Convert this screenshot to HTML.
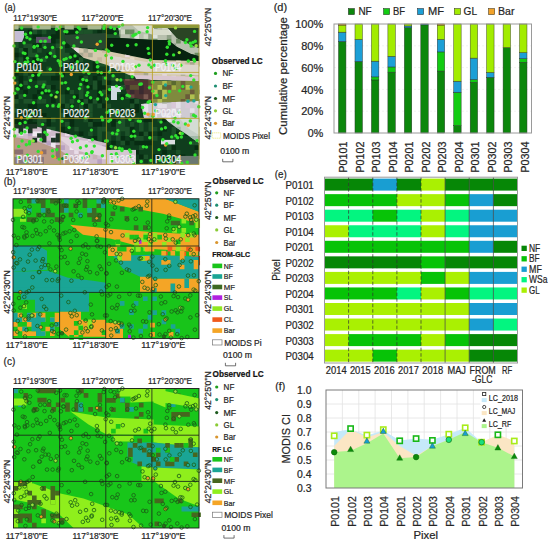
<!DOCTYPE html>
<html><head><meta charset="utf-8"><style>
html,body{margin:0;padding:0;background:#fff;}
svg{display:block;font-family:"Liberation Sans", sans-serif;}
</style></head><body>
<svg width="550" height="545" viewBox="0 0 550 545">
<rect x="14.00" y="24.90" width="185.00" height="139.40" fill="#0f3d1d"/>
<path d="M14.0 52.7h4.63v4.63h-4.63zM14.0 71.2h4.63v4.63h-4.63zM14.0 80.5h4.63v4.63h-4.63zM14.0 94.3h4.63v4.63h-4.63zM14.0 117.5h4.63v4.63h-4.63zM14.0 122.1h4.63v4.63h-4.63zM14.0 131.4h4.63v4.63h-4.63zM14.0 136.0h4.63v4.63h-4.63zM14.0 140.7h4.63v4.63h-4.63zM14.0 145.3h4.63v4.63h-4.63zM18.6 48.0h4.63v4.63h-4.63zM18.6 75.8h4.63v4.63h-4.63zM18.6 80.5h4.63v4.63h-4.63zM18.6 85.1h4.63v4.63h-4.63zM18.6 117.5h4.63v4.63h-4.63zM18.6 122.1h4.63v4.63h-4.63zM18.6 145.3h4.63v4.63h-4.63zM18.6 159.2h4.63v4.63h-4.63zM23.3 24.9h4.63v4.63h-4.63zM23.3 43.4h4.63v4.63h-4.63zM23.3 48.0h4.63v4.63h-4.63zM23.3 52.7h4.63v4.63h-4.63zM23.3 57.3h4.63v4.63h-4.63zM23.3 66.6h4.63v4.63h-4.63zM23.3 80.5h4.63v4.63h-4.63zM23.3 89.7h4.63v4.63h-4.63zM23.3 99.0h4.63v4.63h-4.63zM23.3 108.2h4.63v4.63h-4.63zM23.3 112.9h4.63v4.63h-4.63zM23.3 136.0h4.63v4.63h-4.63zM23.3 154.5h4.63v4.63h-4.63zM27.9 24.9h4.63v4.63h-4.63zM27.9 29.5h4.63v4.63h-4.63zM27.9 43.4h4.63v4.63h-4.63zM27.9 48.0h4.63v4.63h-4.63zM27.9 52.7h4.63v4.63h-4.63zM27.9 61.9h4.63v4.63h-4.63zM27.9 99.0h4.63v4.63h-4.63zM27.9 103.6h4.63v4.63h-4.63zM27.9 117.5h4.63v4.63h-4.63zM27.9 122.1h4.63v4.63h-4.63zM27.9 136.0h4.63v4.63h-4.63zM27.9 159.2h4.63v4.63h-4.63zM32.5 24.9h4.63v4.63h-4.63zM32.5 34.2h4.63v4.63h-4.63zM32.5 43.4h4.63v4.63h-4.63zM32.5 57.3h4.63v4.63h-4.63zM32.5 61.9h4.63v4.63h-4.63zM32.5 71.2h4.63v4.63h-4.63zM32.5 75.8h4.63v4.63h-4.63zM32.5 94.3h4.63v4.63h-4.63zM32.5 103.6h4.63v4.63h-4.63zM32.5 108.2h4.63v4.63h-4.63zM32.5 112.9h4.63v4.63h-4.63zM32.5 122.1h4.63v4.63h-4.63zM32.5 126.8h4.63v4.63h-4.63zM32.5 140.7h4.63v4.63h-4.63zM37.1 34.2h4.63v4.63h-4.63zM37.1 38.8h4.63v4.63h-4.63zM37.1 43.4h4.63v4.63h-4.63zM37.1 61.9h4.63v4.63h-4.63zM37.1 89.7h4.63v4.63h-4.63zM41.8 43.4h4.63v4.63h-4.63zM41.8 89.7h4.63v4.63h-4.63zM41.8 99.0h4.63v4.63h-4.63zM41.8 112.9h4.63v4.63h-4.63zM41.8 136.0h4.63v4.63h-4.63zM41.8 140.7h4.63v4.63h-4.63zM41.8 154.5h4.63v4.63h-4.63zM41.8 159.2h4.63v4.63h-4.63zM46.4 52.7h4.63v4.63h-4.63zM46.4 89.7h4.63v4.63h-4.63zM46.4 117.5h4.63v4.63h-4.63zM46.4 122.1h4.63v4.63h-4.63zM46.4 131.4h4.63v4.63h-4.63zM46.4 136.0h4.63v4.63h-4.63zM51.0 34.2h4.63v4.63h-4.63zM51.0 38.8h4.63v4.63h-4.63zM51.0 48.0h4.63v4.63h-4.63zM51.0 71.2h4.63v4.63h-4.63zM51.0 75.8h4.63v4.63h-4.63zM51.0 85.1h4.63v4.63h-4.63zM51.0 94.3h4.63v4.63h-4.63zM51.0 99.0h4.63v4.63h-4.63zM51.0 103.6h4.63v4.63h-4.63zM51.0 140.7h4.63v4.63h-4.63zM51.0 149.9h4.63v4.63h-4.63zM51.0 154.5h4.63v4.63h-4.63zM55.7 29.5h4.63v4.63h-4.63zM55.7 34.2h4.63v4.63h-4.63zM55.7 75.8h4.63v4.63h-4.63zM55.7 89.7h4.63v4.63h-4.63zM55.7 140.7h4.63v4.63h-4.63zM60.3 24.9h4.63v4.63h-4.63zM60.3 71.2h4.63v4.63h-4.63zM60.3 94.3h4.63v4.63h-4.63zM60.3 103.6h4.63v4.63h-4.63zM60.3 112.9h4.63v4.63h-4.63zM60.3 126.8h4.63v4.63h-4.63zM60.3 131.4h4.63v4.63h-4.63zM64.9 29.5h4.63v4.63h-4.63zM64.9 34.2h4.63v4.63h-4.63zM64.9 43.4h4.63v4.63h-4.63zM64.9 89.7h4.63v4.63h-4.63zM64.9 112.9h4.63v4.63h-4.63zM64.9 131.4h4.63v4.63h-4.63zM69.6 29.5h4.63v4.63h-4.63zM69.6 52.7h4.63v4.63h-4.63zM69.6 61.9h4.63v4.63h-4.63zM69.6 89.7h4.63v4.63h-4.63zM69.6 103.6h4.63v4.63h-4.63zM69.6 112.9h4.63v4.63h-4.63zM69.6 117.5h4.63v4.63h-4.63zM69.6 122.1h4.63v4.63h-4.63zM69.6 145.3h4.63v4.63h-4.63zM69.6 154.5h4.63v4.63h-4.63zM74.2 24.9h4.63v4.63h-4.63zM74.2 29.5h4.63v4.63h-4.63zM74.2 57.3h4.63v4.63h-4.63zM74.2 61.9h4.63v4.63h-4.63zM74.2 94.3h4.63v4.63h-4.63zM74.2 126.8h4.63v4.63h-4.63zM74.2 140.7h4.63v4.63h-4.63zM74.2 145.3h4.63v4.63h-4.63zM74.2 154.5h4.63v4.63h-4.63zM74.2 159.2h4.63v4.63h-4.63zM78.8 38.8h4.63v4.63h-4.63zM78.8 52.7h4.63v4.63h-4.63zM78.8 57.3h4.63v4.63h-4.63zM78.8 75.8h4.63v4.63h-4.63zM78.8 99.0h4.63v4.63h-4.63zM78.8 103.6h4.63v4.63h-4.63zM78.8 108.2h4.63v4.63h-4.63zM78.8 112.9h4.63v4.63h-4.63zM78.8 131.4h4.63v4.63h-4.63zM78.8 136.0h4.63v4.63h-4.63zM78.8 140.7h4.63v4.63h-4.63zM78.8 159.2h4.63v4.63h-4.63zM83.5 24.9h4.63v4.63h-4.63zM83.5 66.6h4.63v4.63h-4.63zM83.5 80.5h4.63v4.63h-4.63zM83.5 99.0h4.63v4.63h-4.63zM83.5 103.6h4.63v4.63h-4.63zM83.5 112.9h4.63v4.63h-4.63zM88.1 24.9h4.63v4.63h-4.63zM88.1 85.1h4.63v4.63h-4.63zM88.1 99.0h4.63v4.63h-4.63zM88.1 117.5h4.63v4.63h-4.63zM92.7 38.8h4.63v4.63h-4.63zM92.7 52.7h4.63v4.63h-4.63zM92.7 61.9h4.63v4.63h-4.63zM92.7 66.6h4.63v4.63h-4.63zM92.7 75.8h4.63v4.63h-4.63zM92.7 80.5h4.63v4.63h-4.63zM92.7 122.1h4.63v4.63h-4.63zM92.7 136.0h4.63v4.63h-4.63zM92.7 145.3h4.63v4.63h-4.63zM92.7 154.5h4.63v4.63h-4.63zM97.3 29.5h4.63v4.63h-4.63zM97.3 57.3h4.63v4.63h-4.63zM97.3 71.2h4.63v4.63h-4.63zM97.3 80.5h4.63v4.63h-4.63zM97.3 85.1h4.63v4.63h-4.63zM97.3 89.7h4.63v4.63h-4.63zM97.3 94.3h4.63v4.63h-4.63zM97.3 99.0h4.63v4.63h-4.63zM97.3 122.1h4.63v4.63h-4.63zM97.3 136.0h4.63v4.63h-4.63zM97.3 159.2h4.63v4.63h-4.63zM102.0 57.3h4.63v4.63h-4.63zM102.0 71.2h4.63v4.63h-4.63zM102.0 75.8h4.63v4.63h-4.63zM102.0 85.1h4.63v4.63h-4.63zM102.0 103.6h4.63v4.63h-4.63zM102.0 140.7h4.63v4.63h-4.63zM102.0 145.3h4.63v4.63h-4.63zM106.6 29.5h4.63v4.63h-4.63zM106.6 57.3h4.63v4.63h-4.63zM106.6 61.9h4.63v4.63h-4.63zM106.6 80.5h4.63v4.63h-4.63zM106.6 85.1h4.63v4.63h-4.63zM106.6 89.7h4.63v4.63h-4.63zM106.6 103.6h4.63v4.63h-4.63zM106.6 112.9h4.63v4.63h-4.63zM106.6 117.5h4.63v4.63h-4.63zM106.6 145.3h4.63v4.63h-4.63zM111.2 24.9h4.63v4.63h-4.63zM111.2 29.5h4.63v4.63h-4.63zM111.2 48.0h4.63v4.63h-4.63zM111.2 57.3h4.63v4.63h-4.63zM111.2 108.2h4.63v4.63h-4.63zM111.2 117.5h4.63v4.63h-4.63zM111.2 122.1h4.63v4.63h-4.63zM111.2 140.7h4.63v4.63h-4.63zM111.2 149.9h4.63v4.63h-4.63zM111.2 154.5h4.63v4.63h-4.63zM115.9 24.9h4.63v4.63h-4.63zM115.9 43.4h4.63v4.63h-4.63zM115.9 48.0h4.63v4.63h-4.63zM115.9 66.6h4.63v4.63h-4.63zM115.9 126.8h4.63v4.63h-4.63zM115.9 154.5h4.63v4.63h-4.63zM120.5 43.4h4.63v4.63h-4.63zM120.5 57.3h4.63v4.63h-4.63zM120.5 61.9h4.63v4.63h-4.63zM120.5 94.3h4.63v4.63h-4.63zM120.5 108.2h4.63v4.63h-4.63zM120.5 112.9h4.63v4.63h-4.63zM120.5 126.8h4.63v4.63h-4.63zM120.5 136.0h4.63v4.63h-4.63zM120.5 149.9h4.63v4.63h-4.63zM120.5 154.5h4.63v4.63h-4.63zM125.1 140.7h4.63v4.63h-4.63zM125.1 159.2h4.63v4.63h-4.63zM129.8 24.9h4.63v4.63h-4.63zM129.8 34.2h4.63v4.63h-4.63zM129.8 43.4h4.63v4.63h-4.63zM129.8 52.7h4.63v4.63h-4.63zM129.8 66.6h4.63v4.63h-4.63zM129.8 71.2h4.63v4.63h-4.63zM129.8 89.7h4.63v4.63h-4.63zM129.8 94.3h4.63v4.63h-4.63zM129.8 99.0h4.63v4.63h-4.63zM129.8 103.6h4.63v4.63h-4.63zM129.8 108.2h4.63v4.63h-4.63zM129.8 122.1h4.63v4.63h-4.63zM129.8 126.8h4.63v4.63h-4.63zM129.8 131.4h4.63v4.63h-4.63zM129.8 136.0h4.63v4.63h-4.63zM134.4 24.9h4.63v4.63h-4.63zM134.4 57.3h4.63v4.63h-4.63zM134.4 61.9h4.63v4.63h-4.63zM134.4 89.7h4.63v4.63h-4.63zM134.4 103.6h4.63v4.63h-4.63zM134.4 108.2h4.63v4.63h-4.63zM134.4 136.0h4.63v4.63h-4.63zM134.4 140.7h4.63v4.63h-4.63zM134.4 149.9h4.63v4.63h-4.63zM139.0 34.2h4.63v4.63h-4.63zM139.0 43.4h4.63v4.63h-4.63zM139.0 52.7h4.63v4.63h-4.63zM139.0 71.2h4.63v4.63h-4.63zM139.0 75.8h4.63v4.63h-4.63zM139.0 85.1h4.63v4.63h-4.63zM139.0 131.4h4.63v4.63h-4.63zM139.0 140.7h4.63v4.63h-4.63zM139.0 154.5h4.63v4.63h-4.63zM143.6 34.2h4.63v4.63h-4.63zM143.6 61.9h4.63v4.63h-4.63zM143.6 89.7h4.63v4.63h-4.63zM143.6 103.6h4.63v4.63h-4.63zM143.6 117.5h4.63v4.63h-4.63zM143.6 131.4h4.63v4.63h-4.63zM143.6 140.7h4.63v4.63h-4.63zM143.6 154.5h4.63v4.63h-4.63zM148.3 34.2h4.63v4.63h-4.63zM148.3 38.8h4.63v4.63h-4.63zM148.3 75.8h4.63v4.63h-4.63zM148.3 80.5h4.63v4.63h-4.63zM148.3 85.1h4.63v4.63h-4.63zM148.3 99.0h4.63v4.63h-4.63zM148.3 117.5h4.63v4.63h-4.63zM148.3 122.1h4.63v4.63h-4.63zM148.3 126.8h4.63v4.63h-4.63zM148.3 131.4h4.63v4.63h-4.63zM148.3 140.7h4.63v4.63h-4.63zM152.9 48.0h4.63v4.63h-4.63zM152.9 80.5h4.63v4.63h-4.63zM152.9 99.0h4.63v4.63h-4.63zM152.9 126.8h4.63v4.63h-4.63zM152.9 154.5h4.63v4.63h-4.63zM157.5 43.4h4.63v4.63h-4.63zM157.5 57.3h4.63v4.63h-4.63zM157.5 61.9h4.63v4.63h-4.63zM157.5 66.6h4.63v4.63h-4.63zM157.5 99.0h4.63v4.63h-4.63zM157.5 108.2h4.63v4.63h-4.63zM157.5 131.4h4.63v4.63h-4.63zM157.5 154.5h4.63v4.63h-4.63zM162.2 24.9h4.63v4.63h-4.63zM162.2 34.2h4.63v4.63h-4.63zM162.2 48.0h4.63v4.63h-4.63zM162.2 57.3h4.63v4.63h-4.63zM162.2 61.9h4.63v4.63h-4.63zM162.2 66.6h4.63v4.63h-4.63zM162.2 112.9h4.63v4.63h-4.63zM162.2 117.5h4.63v4.63h-4.63zM162.2 126.8h4.63v4.63h-4.63zM162.2 140.7h4.63v4.63h-4.63zM162.2 149.9h4.63v4.63h-4.63zM166.8 29.5h4.63v4.63h-4.63zM166.8 38.8h4.63v4.63h-4.63zM166.8 140.7h4.63v4.63h-4.63zM171.4 38.8h4.63v4.63h-4.63zM171.4 43.4h4.63v4.63h-4.63zM171.4 61.9h4.63v4.63h-4.63zM171.4 75.8h4.63v4.63h-4.63zM171.4 89.7h4.63v4.63h-4.63zM171.4 94.3h4.63v4.63h-4.63zM171.4 126.8h4.63v4.63h-4.63zM171.4 145.3h4.63v4.63h-4.63zM171.4 154.5h4.63v4.63h-4.63zM176.0 29.5h4.63v4.63h-4.63zM176.0 34.2h4.63v4.63h-4.63zM176.0 38.8h4.63v4.63h-4.63zM176.0 48.0h4.63v4.63h-4.63zM176.0 75.8h4.63v4.63h-4.63zM176.0 80.5h4.63v4.63h-4.63zM176.0 112.9h4.63v4.63h-4.63zM176.0 117.5h4.63v4.63h-4.63zM176.0 131.4h4.63v4.63h-4.63zM176.0 149.9h4.63v4.63h-4.63zM180.7 24.9h4.63v4.63h-4.63zM180.7 34.2h4.63v4.63h-4.63zM180.7 43.4h4.63v4.63h-4.63zM180.7 48.0h4.63v4.63h-4.63zM180.7 75.8h4.63v4.63h-4.63zM180.7 94.3h4.63v4.63h-4.63zM180.7 99.0h4.63v4.63h-4.63zM180.7 112.9h4.63v4.63h-4.63zM180.7 117.5h4.63v4.63h-4.63zM180.7 122.1h4.63v4.63h-4.63zM180.7 154.5h4.63v4.63h-4.63zM185.3 34.2h4.63v4.63h-4.63zM185.3 43.4h4.63v4.63h-4.63zM185.3 66.6h4.63v4.63h-4.63zM185.3 75.8h4.63v4.63h-4.63zM185.3 80.5h4.63v4.63h-4.63zM185.3 89.7h4.63v4.63h-4.63zM185.3 94.3h4.63v4.63h-4.63zM185.3 103.6h4.63v4.63h-4.63zM185.3 108.2h4.63v4.63h-4.63zM185.3 117.5h4.63v4.63h-4.63zM185.3 131.4h4.63v4.63h-4.63zM185.3 159.2h4.63v4.63h-4.63zM189.9 75.8h4.63v4.63h-4.63zM189.9 85.1h4.63v4.63h-4.63zM189.9 94.3h4.63v4.63h-4.63zM189.9 117.5h4.63v4.63h-4.63zM189.9 126.8h4.63v4.63h-4.63zM189.9 140.7h4.63v4.63h-4.63zM194.6 24.9h4.63v4.63h-4.63zM194.6 29.5h4.63v4.63h-4.63zM194.6 34.2h4.63v4.63h-4.63zM194.6 52.7h4.63v4.63h-4.63zM194.6 61.9h4.63v4.63h-4.63zM194.6 85.1h4.63v4.63h-4.63zM194.6 89.7h4.63v4.63h-4.63zM194.6 99.0h4.63v4.63h-4.63zM194.6 117.5h4.63v4.63h-4.63zM194.6 126.8h4.63v4.63h-4.63zM194.6 136.0h4.63v4.63h-4.63zM194.6 140.7h4.63v4.63h-4.63zM194.6 145.3h4.63v4.63h-4.63z" fill="#072c12"/>
<path d="M14.0 38.8h4.63v4.63h-4.63zM14.0 43.4h4.63v4.63h-4.63zM14.0 80.5h4.63v4.63h-4.63zM14.0 89.7h4.63v4.63h-4.63zM14.0 99.0h4.63v4.63h-4.63zM14.0 108.2h4.63v4.63h-4.63zM14.0 131.4h4.63v4.63h-4.63zM14.0 136.0h4.63v4.63h-4.63zM14.0 149.9h4.63v4.63h-4.63zM18.6 24.9h4.63v4.63h-4.63zM18.6 34.2h4.63v4.63h-4.63zM18.6 48.0h4.63v4.63h-4.63zM18.6 57.3h4.63v4.63h-4.63zM18.6 61.9h4.63v4.63h-4.63zM18.6 94.3h4.63v4.63h-4.63zM18.6 136.0h4.63v4.63h-4.63zM18.6 140.7h4.63v4.63h-4.63zM23.3 24.9h4.63v4.63h-4.63zM23.3 43.4h4.63v4.63h-4.63zM23.3 61.9h4.63v4.63h-4.63zM23.3 71.2h4.63v4.63h-4.63zM23.3 80.5h4.63v4.63h-4.63zM23.3 99.0h4.63v4.63h-4.63zM23.3 108.2h4.63v4.63h-4.63zM23.3 136.0h4.63v4.63h-4.63zM23.3 149.9h4.63v4.63h-4.63zM27.9 24.9h4.63v4.63h-4.63zM27.9 43.4h4.63v4.63h-4.63zM27.9 48.0h4.63v4.63h-4.63zM27.9 52.7h4.63v4.63h-4.63zM27.9 75.8h4.63v4.63h-4.63zM27.9 99.0h4.63v4.63h-4.63zM27.9 131.4h4.63v4.63h-4.63zM32.5 29.5h4.63v4.63h-4.63zM32.5 52.7h4.63v4.63h-4.63zM32.5 66.6h4.63v4.63h-4.63zM32.5 145.3h4.63v4.63h-4.63zM37.1 48.0h4.63v4.63h-4.63zM37.1 80.5h4.63v4.63h-4.63zM37.1 99.0h4.63v4.63h-4.63zM37.1 117.5h4.63v4.63h-4.63zM37.1 122.1h4.63v4.63h-4.63zM37.1 154.5h4.63v4.63h-4.63zM41.8 29.5h4.63v4.63h-4.63zM41.8 43.4h4.63v4.63h-4.63zM41.8 57.3h4.63v4.63h-4.63zM41.8 71.2h4.63v4.63h-4.63zM41.8 80.5h4.63v4.63h-4.63zM41.8 99.0h4.63v4.63h-4.63zM41.8 117.5h4.63v4.63h-4.63zM41.8 136.0h4.63v4.63h-4.63zM46.4 66.6h4.63v4.63h-4.63zM46.4 71.2h4.63v4.63h-4.63zM46.4 85.1h4.63v4.63h-4.63zM46.4 126.8h4.63v4.63h-4.63zM51.0 48.0h4.63v4.63h-4.63zM51.0 52.7h4.63v4.63h-4.63zM51.0 71.2h4.63v4.63h-4.63zM51.0 103.6h4.63v4.63h-4.63zM51.0 117.5h4.63v4.63h-4.63zM51.0 126.8h4.63v4.63h-4.63zM51.0 136.0h4.63v4.63h-4.63zM51.0 140.7h4.63v4.63h-4.63zM51.0 145.3h4.63v4.63h-4.63zM51.0 159.2h4.63v4.63h-4.63zM55.7 24.9h4.63v4.63h-4.63zM55.7 43.4h4.63v4.63h-4.63zM60.3 29.5h4.63v4.63h-4.63zM60.3 34.2h4.63v4.63h-4.63zM60.3 38.8h4.63v4.63h-4.63zM60.3 43.4h4.63v4.63h-4.63zM60.3 48.0h4.63v4.63h-4.63zM60.3 52.7h4.63v4.63h-4.63zM60.3 57.3h4.63v4.63h-4.63zM60.3 61.9h4.63v4.63h-4.63zM60.3 94.3h4.63v4.63h-4.63zM60.3 99.0h4.63v4.63h-4.63zM60.3 112.9h4.63v4.63h-4.63zM60.3 136.0h4.63v4.63h-4.63zM60.3 140.7h4.63v4.63h-4.63zM64.9 52.7h4.63v4.63h-4.63zM64.9 57.3h4.63v4.63h-4.63zM64.9 103.6h4.63v4.63h-4.63zM64.9 122.1h4.63v4.63h-4.63zM64.9 136.0h4.63v4.63h-4.63zM69.6 24.9h4.63v4.63h-4.63zM69.6 38.8h4.63v4.63h-4.63zM69.6 89.7h4.63v4.63h-4.63zM69.6 99.0h4.63v4.63h-4.63zM69.6 149.9h4.63v4.63h-4.63zM69.6 159.2h4.63v4.63h-4.63zM74.2 43.4h4.63v4.63h-4.63zM74.2 61.9h4.63v4.63h-4.63zM74.2 66.6h4.63v4.63h-4.63zM74.2 126.8h4.63v4.63h-4.63zM78.8 29.5h4.63v4.63h-4.63zM78.8 57.3h4.63v4.63h-4.63zM78.8 85.1h4.63v4.63h-4.63zM78.8 89.7h4.63v4.63h-4.63zM78.8 94.3h4.63v4.63h-4.63zM78.8 103.6h4.63v4.63h-4.63zM78.8 108.2h4.63v4.63h-4.63zM78.8 136.0h4.63v4.63h-4.63zM78.8 140.7h4.63v4.63h-4.63zM83.5 29.5h4.63v4.63h-4.63zM83.5 66.6h4.63v4.63h-4.63zM83.5 75.8h4.63v4.63h-4.63zM83.5 99.0h4.63v4.63h-4.63zM83.5 117.5h4.63v4.63h-4.63zM88.1 29.5h4.63v4.63h-4.63zM88.1 52.7h4.63v4.63h-4.63zM88.1 103.6h4.63v4.63h-4.63zM88.1 108.2h4.63v4.63h-4.63zM88.1 112.9h4.63v4.63h-4.63zM88.1 122.1h4.63v4.63h-4.63zM88.1 131.4h4.63v4.63h-4.63zM88.1 145.3h4.63v4.63h-4.63zM92.7 24.9h4.63v4.63h-4.63zM92.7 80.5h4.63v4.63h-4.63zM92.7 85.1h4.63v4.63h-4.63zM92.7 99.0h4.63v4.63h-4.63zM92.7 159.2h4.63v4.63h-4.63zM97.3 43.4h4.63v4.63h-4.63zM97.3 48.0h4.63v4.63h-4.63zM97.3 57.3h4.63v4.63h-4.63zM97.3 61.9h4.63v4.63h-4.63zM97.3 103.6h4.63v4.63h-4.63zM97.3 126.8h4.63v4.63h-4.63zM97.3 131.4h4.63v4.63h-4.63zM97.3 136.0h4.63v4.63h-4.63zM97.3 140.7h4.63v4.63h-4.63zM102.0 61.9h4.63v4.63h-4.63zM102.0 75.8h4.63v4.63h-4.63zM102.0 80.5h4.63v4.63h-4.63zM102.0 89.7h4.63v4.63h-4.63zM102.0 126.8h4.63v4.63h-4.63zM102.0 149.9h4.63v4.63h-4.63zM102.0 159.2h4.63v4.63h-4.63zM106.6 34.2h4.63v4.63h-4.63zM106.6 38.8h4.63v4.63h-4.63zM106.6 57.3h4.63v4.63h-4.63zM106.6 61.9h4.63v4.63h-4.63zM106.6 85.1h4.63v4.63h-4.63zM106.6 103.6h4.63v4.63h-4.63zM106.6 117.5h4.63v4.63h-4.63zM106.6 131.4h4.63v4.63h-4.63zM106.6 136.0h4.63v4.63h-4.63zM111.2 24.9h4.63v4.63h-4.63zM111.2 34.2h4.63v4.63h-4.63zM111.2 38.8h4.63v4.63h-4.63zM111.2 52.7h4.63v4.63h-4.63zM111.2 57.3h4.63v4.63h-4.63zM111.2 66.6h4.63v4.63h-4.63zM111.2 75.8h4.63v4.63h-4.63zM111.2 85.1h4.63v4.63h-4.63zM111.2 108.2h4.63v4.63h-4.63zM111.2 112.9h4.63v4.63h-4.63zM111.2 131.4h4.63v4.63h-4.63zM111.2 145.3h4.63v4.63h-4.63zM111.2 149.9h4.63v4.63h-4.63zM115.9 34.2h4.63v4.63h-4.63zM115.9 43.4h4.63v4.63h-4.63zM115.9 89.7h4.63v4.63h-4.63zM115.9 122.1h4.63v4.63h-4.63zM115.9 126.8h4.63v4.63h-4.63zM115.9 131.4h4.63v4.63h-4.63zM115.9 136.0h4.63v4.63h-4.63zM120.5 38.8h4.63v4.63h-4.63zM120.5 48.0h4.63v4.63h-4.63zM120.5 85.1h4.63v4.63h-4.63zM120.5 112.9h4.63v4.63h-4.63zM120.5 117.5h4.63v4.63h-4.63zM120.5 122.1h4.63v4.63h-4.63zM120.5 126.8h4.63v4.63h-4.63zM120.5 140.7h4.63v4.63h-4.63zM125.1 24.9h4.63v4.63h-4.63zM125.1 38.8h4.63v4.63h-4.63zM125.1 43.4h4.63v4.63h-4.63zM125.1 71.2h4.63v4.63h-4.63zM125.1 75.8h4.63v4.63h-4.63zM125.1 94.3h4.63v4.63h-4.63zM125.1 108.2h4.63v4.63h-4.63zM125.1 112.9h4.63v4.63h-4.63zM125.1 126.8h4.63v4.63h-4.63zM125.1 131.4h4.63v4.63h-4.63zM125.1 149.9h4.63v4.63h-4.63zM125.1 154.5h4.63v4.63h-4.63zM129.8 29.5h4.63v4.63h-4.63zM129.8 34.2h4.63v4.63h-4.63zM129.8 43.4h4.63v4.63h-4.63zM129.8 48.0h4.63v4.63h-4.63zM129.8 57.3h4.63v4.63h-4.63zM129.8 80.5h4.63v4.63h-4.63zM129.8 94.3h4.63v4.63h-4.63zM129.8 103.6h4.63v4.63h-4.63zM129.8 122.1h4.63v4.63h-4.63zM134.4 61.9h4.63v4.63h-4.63zM134.4 80.5h4.63v4.63h-4.63zM134.4 85.1h4.63v4.63h-4.63zM134.4 89.7h4.63v4.63h-4.63zM134.4 99.0h4.63v4.63h-4.63zM134.4 117.5h4.63v4.63h-4.63zM134.4 136.0h4.63v4.63h-4.63zM139.0 34.2h4.63v4.63h-4.63zM139.0 43.4h4.63v4.63h-4.63zM139.0 94.3h4.63v4.63h-4.63zM139.0 122.1h4.63v4.63h-4.63zM139.0 126.8h4.63v4.63h-4.63zM139.0 136.0h4.63v4.63h-4.63zM139.0 145.3h4.63v4.63h-4.63zM139.0 159.2h4.63v4.63h-4.63zM143.6 38.8h4.63v4.63h-4.63zM143.6 43.4h4.63v4.63h-4.63zM143.6 52.7h4.63v4.63h-4.63zM143.6 80.5h4.63v4.63h-4.63zM143.6 85.1h4.63v4.63h-4.63zM143.6 94.3h4.63v4.63h-4.63zM143.6 131.4h4.63v4.63h-4.63zM143.6 154.5h4.63v4.63h-4.63zM148.3 38.8h4.63v4.63h-4.63zM148.3 43.4h4.63v4.63h-4.63zM148.3 57.3h4.63v4.63h-4.63zM148.3 71.2h4.63v4.63h-4.63zM148.3 75.8h4.63v4.63h-4.63zM148.3 94.3h4.63v4.63h-4.63zM148.3 122.1h4.63v4.63h-4.63zM148.3 126.8h4.63v4.63h-4.63zM148.3 159.2h4.63v4.63h-4.63zM152.9 29.5h4.63v4.63h-4.63zM152.9 52.7h4.63v4.63h-4.63zM152.9 80.5h4.63v4.63h-4.63zM152.9 126.8h4.63v4.63h-4.63zM152.9 136.0h4.63v4.63h-4.63zM157.5 24.9h4.63v4.63h-4.63zM157.5 34.2h4.63v4.63h-4.63zM157.5 57.3h4.63v4.63h-4.63zM157.5 66.6h4.63v4.63h-4.63zM157.5 117.5h4.63v4.63h-4.63zM157.5 159.2h4.63v4.63h-4.63zM162.2 24.9h4.63v4.63h-4.63zM162.2 38.8h4.63v4.63h-4.63zM162.2 48.0h4.63v4.63h-4.63zM162.2 57.3h4.63v4.63h-4.63zM162.2 80.5h4.63v4.63h-4.63zM166.8 48.0h4.63v4.63h-4.63zM166.8 71.2h4.63v4.63h-4.63zM166.8 89.7h4.63v4.63h-4.63zM166.8 108.2h4.63v4.63h-4.63zM166.8 117.5h4.63v4.63h-4.63zM166.8 140.7h4.63v4.63h-4.63zM166.8 145.3h4.63v4.63h-4.63zM171.4 34.2h4.63v4.63h-4.63zM171.4 61.9h4.63v4.63h-4.63zM171.4 66.6h4.63v4.63h-4.63zM171.4 85.1h4.63v4.63h-4.63zM171.4 108.2h4.63v4.63h-4.63zM171.4 126.8h4.63v4.63h-4.63zM171.4 131.4h4.63v4.63h-4.63zM171.4 136.0h4.63v4.63h-4.63zM176.0 48.0h4.63v4.63h-4.63zM176.0 71.2h4.63v4.63h-4.63zM176.0 80.5h4.63v4.63h-4.63zM176.0 85.1h4.63v4.63h-4.63zM176.0 89.7h4.63v4.63h-4.63zM176.0 112.9h4.63v4.63h-4.63zM176.0 149.9h4.63v4.63h-4.63zM176.0 159.2h4.63v4.63h-4.63zM180.7 57.3h4.63v4.63h-4.63zM180.7 75.8h4.63v4.63h-4.63zM185.3 38.8h4.63v4.63h-4.63zM185.3 48.0h4.63v4.63h-4.63zM185.3 57.3h4.63v4.63h-4.63zM185.3 66.6h4.63v4.63h-4.63zM185.3 85.1h4.63v4.63h-4.63zM185.3 94.3h4.63v4.63h-4.63zM185.3 122.1h4.63v4.63h-4.63zM189.9 29.5h4.63v4.63h-4.63zM189.9 85.1h4.63v4.63h-4.63zM189.9 140.7h4.63v4.63h-4.63zM194.6 38.8h4.63v4.63h-4.63zM194.6 57.3h4.63v4.63h-4.63zM194.6 89.7h4.63v4.63h-4.63zM194.6 99.0h4.63v4.63h-4.63zM194.6 131.4h4.63v4.63h-4.63zM194.6 136.0h4.63v4.63h-4.63zM194.6 140.7h4.63v4.63h-4.63zM194.6 149.9h4.63v4.63h-4.63zM194.6 154.5h4.63v4.63h-4.63z" fill="#1d5229"/>
<rect x="14.00" y="24.90" width="185.00" height="3.00" fill="#6f8a58"/>
<path d="M14.0 24.9h4.60v4.60h-4.60zM32.4 24.9h4.60v4.60h-4.60zM37.0 24.9h4.60v4.60h-4.60zM41.6 24.9h4.60v4.60h-4.60zM46.2 24.9h4.60v4.60h-4.60zM55.4 24.9h4.60v4.60h-4.60zM64.6 24.9h4.60v4.60h-4.60zM69.2 24.9h4.60v4.60h-4.60zM87.6 24.9h4.60v4.60h-4.60zM92.2 24.9h4.60v4.60h-4.60zM96.8 24.9h4.60v4.60h-4.60zM133.6 24.9h4.60v4.60h-4.60zM175.0 24.9h4.60v4.60h-4.60z" fill="#a8b890"/>
<polygon points="14.0,30.9 24.0,30.9 24.0,36.9 22.0,41.9 14.0,41.9" fill="#c4bcd4"/>
<polygon points="36.0,36.9 51.0,36.9 51.0,42.9 36.0,42.9" fill="#5a4e66"/>
<polygon points="64.0,34.9 106.0,32.9 106.0,48.9 72.0,46.9 66.0,41.9" fill="#27472f"/>
<polygon points="118.0,24.9 154.0,24.9 154.0,27.9 168.0,27.9 177.0,37.9 191.0,44.9 199.0,47.9 199.0,55.9 191.0,53.9 177.0,46.9 168.0,39.9 154.0,39.9 120.0,37.9" fill="#b8c0ae"/>
<clipPath id="cp1"><polygon points="118.0,24.9 154.0,24.9 154.0,27.9 168.0,27.9 177.0,37.9 191.0,44.9 199.0,47.9 199.0,55.9 191.0,53.9 177.0,46.9 168.0,39.9 154.0,39.9 120.0,37.9"/></clipPath>
<g clip-path="url(#cp1)">
<path d="M120.5 29.5h4.63v4.63h-4.63zM125.1 38.8h4.63v4.63h-4.63zM129.8 38.8h4.63v4.63h-4.63zM143.6 34.2h4.63v4.63h-4.63zM162.2 24.9h4.63v4.63h-4.63zM185.3 38.8h4.63v4.63h-4.63zM194.6 24.9h4.63v4.63h-4.63z" fill="#d0d8c4"/>
<path d="M115.9 29.5h4.63v4.63h-4.63zM115.9 43.4h4.63v4.63h-4.63zM115.9 52.7h4.63v4.63h-4.63zM120.5 43.4h4.63v4.63h-4.63zM125.1 48.0h4.63v4.63h-4.63zM129.8 34.2h4.63v4.63h-4.63zM134.4 52.7h4.63v4.63h-4.63zM139.0 24.9h4.63v4.63h-4.63zM148.3 24.9h4.63v4.63h-4.63zM148.3 34.2h4.63v4.63h-4.63zM148.3 52.7h4.63v4.63h-4.63zM152.9 24.9h4.63v4.63h-4.63zM152.9 29.5h4.63v4.63h-4.63zM152.9 43.4h4.63v4.63h-4.63zM157.5 29.5h4.63v4.63h-4.63zM166.8 34.2h4.63v4.63h-4.63zM171.4 43.4h4.63v4.63h-4.63zM176.1 24.9h4.63v4.63h-4.63zM180.7 24.9h4.63v4.63h-4.63zM189.9 43.4h4.63v4.63h-4.63zM194.6 29.5h4.63v4.63h-4.63z" fill="#90a088"/>
<path d="M115.9 24.9h4.63v4.63h-4.63zM134.4 34.2h4.63v4.63h-4.63zM152.9 34.2h4.63v4.63h-4.63zM152.9 48.0h4.63v4.63h-4.63zM166.8 29.5h4.63v4.63h-4.63zM180.7 52.7h4.63v4.63h-4.63z" fill="#e0e4dc"/>
<path d="M115.9 34.2h4.63v4.63h-4.63zM125.1 29.5h4.63v4.63h-4.63zM129.8 29.5h4.63v4.63h-4.63zM129.8 52.7h4.63v4.63h-4.63zM143.6 24.9h4.63v4.63h-4.63zM148.3 29.5h4.63v4.63h-4.63zM148.3 38.8h4.63v4.63h-4.63zM148.3 43.4h4.63v4.63h-4.63zM152.9 38.8h4.63v4.63h-4.63zM166.8 38.8h4.63v4.63h-4.63zM176.1 38.8h4.63v4.63h-4.63zM185.3 29.5h4.63v4.63h-4.63zM189.9 24.9h4.63v4.63h-4.63zM194.6 52.7h4.63v4.63h-4.63z" fill="#6a8a60"/>
</g>
<polygon points="132.0,24.9 154.0,24.9 154.0,28.9 168.0,29.9 172.0,34.9 154.0,34.9 139.0,30.9" fill="#d8dccc"/>
<polygon points="168.0,27.9 199.0,27.9 199.0,47.9 191.0,44.9 177.0,37.9" fill="#2a4424"/>
<polygon points="153.0,24.9 199.0,24.9 199.0,27.9 153.0,27.9" fill="#8a9a3a"/>
<polygon points="107.0,37.9 120.0,37.9 154.0,39.9 168.0,39.9 177.0,46.9 191.0,53.9 199.0,55.9 199.0,60.9 152.0,59.9 107.0,50.9" fill="#06220f"/>
<polygon points="71.0,46.9 107.0,50.9 152.0,59.9 199.0,60.9 199.0,80.9 152.0,79.9 129.0,74.9 107.0,64.9 84.0,57.9" fill="#d5c9ae"/>
<clipPath id="cp2"><polygon points="71.0,46.9 107.0,50.9 152.0,59.9 199.0,60.9 199.0,80.9 152.0,79.9 129.0,74.9 107.0,64.9 84.0,57.9"/></clipPath>
<g clip-path="url(#cp2)">
<path d="M74.2 80.5h4.63v4.63h-4.63zM78.8 61.9h4.63v4.63h-4.63zM78.8 80.5h4.63v4.63h-4.63zM83.5 43.4h4.63v4.63h-4.63zM88.1 61.9h4.63v4.63h-4.63zM97.3 66.6h4.63v4.63h-4.63zM111.2 66.6h4.63v4.63h-4.63zM111.2 71.2h4.63v4.63h-4.63zM129.8 57.3h4.63v4.63h-4.63zM129.8 71.2h4.63v4.63h-4.63zM129.8 80.5h4.63v4.63h-4.63zM139.0 66.6h4.63v4.63h-4.63zM143.6 43.4h4.63v4.63h-4.63zM143.6 80.5h4.63v4.63h-4.63zM148.3 43.4h4.63v4.63h-4.63zM152.9 80.5h4.63v4.63h-4.63zM157.5 75.8h4.63v4.63h-4.63zM162.2 52.7h4.63v4.63h-4.63zM162.2 66.6h4.63v4.63h-4.63zM171.4 52.7h4.63v4.63h-4.63zM176.1 57.3h4.63v4.63h-4.63zM176.1 80.5h4.63v4.63h-4.63zM180.7 66.6h4.63v4.63h-4.63zM189.9 75.8h4.63v4.63h-4.63z" fill="#e6dcc8"/>
<path d="M69.6 61.9h4.63v4.63h-4.63zM74.2 43.4h4.63v4.63h-4.63zM83.5 52.7h4.63v4.63h-4.63zM83.5 66.6h4.63v4.63h-4.63zM97.3 57.3h4.63v4.63h-4.63zM102.0 43.4h4.63v4.63h-4.63zM102.0 48.0h4.63v4.63h-4.63zM106.6 80.5h4.63v4.63h-4.63zM111.2 57.3h4.63v4.63h-4.63zM120.5 66.6h4.63v4.63h-4.63zM134.4 43.4h4.63v4.63h-4.63zM134.4 71.2h4.63v4.63h-4.63zM134.4 80.5h4.63v4.63h-4.63zM139.0 71.2h4.63v4.63h-4.63zM148.3 52.7h4.63v4.63h-4.63zM152.9 48.0h4.63v4.63h-4.63zM162.2 43.4h4.63v4.63h-4.63zM166.8 52.7h4.63v4.63h-4.63zM166.8 66.6h4.63v4.63h-4.63zM171.4 80.5h4.63v4.63h-4.63zM180.7 80.5h4.63v4.63h-4.63zM185.3 48.0h4.63v4.63h-4.63zM185.3 61.9h4.63v4.63h-4.63zM185.3 66.6h4.63v4.63h-4.63zM185.3 75.8h4.63v4.63h-4.63zM189.9 48.0h4.63v4.63h-4.63zM194.6 48.0h4.63v4.63h-4.63zM194.6 71.2h4.63v4.63h-4.63z" fill="#c8b8a0"/>
<path d="M69.6 48.0h4.63v4.63h-4.63zM78.8 52.7h4.63v4.63h-4.63zM83.5 48.0h4.63v4.63h-4.63zM88.1 52.7h4.63v4.63h-4.63zM88.1 71.2h4.63v4.63h-4.63zM97.3 71.2h4.63v4.63h-4.63zM97.3 80.5h4.63v4.63h-4.63zM102.0 71.2h4.63v4.63h-4.63zM106.6 66.6h4.63v4.63h-4.63zM106.6 75.8h4.63v4.63h-4.63zM111.2 43.4h4.63v4.63h-4.63zM115.9 43.4h4.63v4.63h-4.63zM115.9 66.6h4.63v4.63h-4.63zM115.9 80.5h4.63v4.63h-4.63zM120.5 48.0h4.63v4.63h-4.63zM129.8 48.0h4.63v4.63h-4.63zM143.6 71.2h4.63v4.63h-4.63zM148.3 66.6h4.63v4.63h-4.63zM152.9 66.6h4.63v4.63h-4.63zM157.5 43.4h4.63v4.63h-4.63zM157.5 52.7h4.63v4.63h-4.63zM162.2 61.9h4.63v4.63h-4.63zM171.4 66.6h4.63v4.63h-4.63zM180.7 71.2h4.63v4.63h-4.63zM189.9 61.9h4.63v4.63h-4.63zM189.9 71.2h4.63v4.63h-4.63zM189.9 80.5h4.63v4.63h-4.63zM194.6 43.4h4.63v4.63h-4.63z" fill="#a8a890"/>
<path d="M69.6 80.5h4.63v4.63h-4.63zM74.2 48.0h4.63v4.63h-4.63zM74.2 57.3h4.63v4.63h-4.63zM74.2 66.6h4.63v4.63h-4.63zM74.2 75.8h4.63v4.63h-4.63zM78.8 57.3h4.63v4.63h-4.63zM78.8 75.8h4.63v4.63h-4.63zM97.3 43.4h4.63v4.63h-4.63zM106.6 43.4h4.63v4.63h-4.63zM111.2 75.8h4.63v4.63h-4.63zM115.9 57.3h4.63v4.63h-4.63zM115.9 75.8h4.63v4.63h-4.63zM125.1 52.7h4.63v4.63h-4.63zM129.8 75.8h4.63v4.63h-4.63zM148.3 57.3h4.63v4.63h-4.63zM148.3 75.8h4.63v4.63h-4.63zM157.5 48.0h4.63v4.63h-4.63zM162.2 71.2h4.63v4.63h-4.63zM166.8 48.0h4.63v4.63h-4.63zM166.8 61.9h4.63v4.63h-4.63zM171.4 61.9h4.63v4.63h-4.63zM171.4 75.8h4.63v4.63h-4.63zM176.1 52.7h4.63v4.63h-4.63zM180.7 48.0h4.63v4.63h-4.63zM189.9 52.7h4.63v4.63h-4.63z" fill="#e8d8e0"/>
</g>
<polygon points="107.0,54.9 152.0,62.9 199.0,64.9 199.0,74.9 152.0,73.9 107.0,61.9" fill="#dcd6cc"/>
<polygon points="134.0,74.9 199.0,76.9 199.0,80.9 136.0,78.9" fill="#d9c6d0"/>
<polygon points="123.0,78.9 152.0,79.9 152.0,100.9 128.0,96.9" fill="#4f3432"/>
<clipPath id="cp3"><polygon points="123.0,78.9 152.0,79.9 152.0,100.9 128.0,96.9"/></clipPath>
<g clip-path="url(#cp3)">
<path d="M129.8 94.3h4.63v4.63h-4.63zM148.3 99.0h4.63v4.63h-4.63z" fill="#6a4a40"/>
<path d="M125.1 85.1h4.63v4.63h-4.63zM129.8 89.7h4.63v4.63h-4.63zM134.4 75.8h4.63v4.63h-4.63zM134.4 99.0h4.63v4.63h-4.63zM139.0 85.1h4.63v4.63h-4.63zM139.0 89.7h4.63v4.63h-4.63zM139.0 99.0h4.63v4.63h-4.63z" fill="#3a2a30"/>
<path d="M120.5 89.7h4.63v4.63h-4.63zM129.8 75.8h4.63v4.63h-4.63zM129.8 85.1h4.63v4.63h-4.63zM129.8 99.0h4.63v4.63h-4.63zM134.4 85.1h4.63v4.63h-4.63zM148.3 80.5h4.63v4.63h-4.63z" fill="#5a5030"/>
<path d="M120.5 85.1h4.63v4.63h-4.63zM120.5 99.0h4.63v4.63h-4.63zM125.1 75.8h4.63v4.63h-4.63zM125.1 94.3h4.63v4.63h-4.63zM143.6 94.3h4.63v4.63h-4.63zM148.3 75.8h4.63v4.63h-4.63zM148.3 85.1h4.63v4.63h-4.63z" fill="#7a5a50"/>
</g>
<polygon points="111.0,85.9 121.0,85.9 121.0,91.9 117.0,91.9 117.0,99.9 111.0,99.9" fill="#d0d8e0"/>
<polygon points="152.0,80.9 199.0,80.9 199.0,100.9 156.0,102.9 152.0,102.9" fill="#7f8a3e"/>
<clipPath id="cp4"><polygon points="152.0,80.9 199.0,80.9 199.0,100.9 156.0,102.9 152.0,102.9"/></clipPath>
<g clip-path="url(#cp4)">
<path d="M148.3 94.3h4.63v4.63h-4.63zM148.3 99.0h4.63v4.63h-4.63zM171.4 85.1h4.63v4.63h-4.63z" fill="#a0ae40"/>
<path d="M152.9 94.3h4.63v4.63h-4.63zM157.5 89.7h4.63v4.63h-4.63zM157.5 94.3h4.63v4.63h-4.63zM162.2 85.1h4.63v4.63h-4.63zM171.4 80.5h4.63v4.63h-4.63z" fill="#5a6a30"/>
<path d="M148.3 85.1h4.63v4.63h-4.63zM152.9 89.7h4.63v4.63h-4.63zM157.5 85.1h4.63v4.63h-4.63zM157.5 99.0h4.63v4.63h-4.63zM162.2 80.5h4.63v4.63h-4.63zM162.2 89.7h4.63v4.63h-4.63zM162.2 94.3h4.63v4.63h-4.63zM185.3 85.1h4.63v4.63h-4.63zM189.9 94.3h4.63v4.63h-4.63z" fill="#b0c050"/>
<path d="M148.3 80.5h4.63v4.63h-4.63zM166.8 85.1h4.63v4.63h-4.63zM180.7 80.5h4.63v4.63h-4.63zM180.7 85.1h4.63v4.63h-4.63zM180.7 99.0h4.63v4.63h-4.63zM185.3 94.3h4.63v4.63h-4.63zM189.9 89.7h4.63v4.63h-4.63z" fill="#6a5a3a"/>
</g>
<polygon points="141.0,103.9 152.0,102.9 199.0,100.9 199.0,117.9 144.0,117.9" fill="#cfcbd2"/>
<clipPath id="cp5"><polygon points="141.0,103.9 152.0,102.9 199.0,100.9 199.0,117.9 144.0,117.9"/></clipPath>
<g clip-path="url(#cp5)">
<path d="M139.0 117.5h4.63v4.63h-4.63zM143.6 103.6h4.63v4.63h-4.63zM143.6 108.2h4.63v4.63h-4.63zM148.3 99.0h4.63v4.63h-4.63zM152.9 117.5h4.63v4.63h-4.63zM157.5 103.6h4.63v4.63h-4.63zM162.2 103.6h4.63v4.63h-4.63zM162.2 112.9h4.63v4.63h-4.63zM166.8 112.9h4.63v4.63h-4.63zM171.4 108.2h4.63v4.63h-4.63zM176.0 99.0h4.63v4.63h-4.63zM176.0 103.6h4.63v4.63h-4.63zM176.0 112.9h4.63v4.63h-4.63zM189.9 108.2h4.63v4.63h-4.63zM194.6 99.0h4.63v4.63h-4.63z" fill="#e4e0e8"/>
<path d="M139.0 112.9h4.63v4.63h-4.63zM148.3 112.9h4.63v4.63h-4.63zM152.9 99.0h4.63v4.63h-4.63zM162.2 99.0h4.63v4.63h-4.63zM171.4 117.5h4.63v4.63h-4.63zM180.7 117.5h4.63v4.63h-4.63zM189.9 112.9h4.63v4.63h-4.63z" fill="#b0b8a8"/>
<path d="M143.6 112.9h4.63v4.63h-4.63zM162.2 108.2h4.63v4.63h-4.63zM162.2 117.5h4.63v4.63h-4.63zM171.4 99.0h4.63v4.63h-4.63zM171.4 103.6h4.63v4.63h-4.63zM185.3 99.0h4.63v4.63h-4.63zM185.3 103.6h4.63v4.63h-4.63z" fill="#d8c8d8"/>
</g>
<polygon points="164.0,117.9 199.0,117.9 199.0,142.9 186.0,133.9 174.0,125.9" fill="#c4cec6"/>
<clipPath id="cp6"><polygon points="164.0,117.9 199.0,117.9 199.0,142.9 186.0,133.9 174.0,125.9"/></clipPath>
<g clip-path="url(#cp6)">
<path d="M162.2 122.1h4.63v4.63h-4.63zM162.2 136.0h4.63v4.63h-4.63zM166.8 117.5h4.63v4.63h-4.63zM166.8 126.8h4.63v4.63h-4.63zM194.6 117.5h4.63v4.63h-4.63z" fill="#e0e8e0"/>
<path d="M166.8 122.1h4.63v4.63h-4.63zM171.4 136.0h4.63v4.63h-4.63zM176.1 126.8h4.63v4.63h-4.63zM185.3 140.7h4.63v4.63h-4.63zM189.9 136.0h4.63v4.63h-4.63zM194.6 136.0h4.63v4.63h-4.63z" fill="#a0b8a8"/>
<path d="M162.2 131.4h4.63v4.63h-4.63zM176.1 140.7h4.63v4.63h-4.63zM180.7 140.7h4.63v4.63h-4.63zM189.9 140.7h4.63v4.63h-4.63z" fill="#d8dcd8"/>
</g>
<polygon points="179.0,117.9 199.0,117.9 199.0,134.9 189.0,128.9" fill="#d4dcd4"/>
<polygon points="161.0,139.9 175.0,139.9 175.0,144.4 161.0,144.4" fill="#dadde0"/>
<polygon points="176.0,155.9 199.0,155.9 199.0,164.3 176.0,164.3" fill="#6a7870"/>
<polygon points="14.0,130.9 34.0,134.9 60.0,144.9 80.0,164.3 14.0,164.3" fill="#b89a88"/>
<polygon points="14.0,123.9 34.0,125.9 60.0,131.9 84.0,137.9 106.0,142.9 106.0,164.3 80.0,164.3 60.0,149.9 34.0,139.9 14.0,136.9" fill="#d0bccb"/>
<clipPath id="cp7"><polygon points="14.0,123.9 34.0,125.9 60.0,131.9 84.0,137.9 106.0,142.9 106.0,164.3 80.0,164.3 60.0,149.9 34.0,139.9 14.0,136.9"/></clipPath>
<g clip-path="url(#cp7)">
<path d="M14.0 140.7h4.63v4.63h-4.63zM14.0 163.8h4.63v4.63h-4.63zM18.6 126.8h4.63v4.63h-4.63zM18.6 131.4h4.63v4.63h-4.63zM27.9 149.9h4.63v4.63h-4.63zM27.9 154.5h4.63v4.63h-4.63zM32.5 145.3h4.63v4.63h-4.63zM32.5 149.9h4.63v4.63h-4.63zM37.1 136.0h4.63v4.63h-4.63zM46.4 126.8h4.63v4.63h-4.63zM51.0 136.0h4.63v4.63h-4.63zM55.7 159.2h4.63v4.63h-4.63zM55.7 163.8h4.63v4.63h-4.63zM64.9 131.4h4.63v4.63h-4.63zM74.2 149.9h4.63v4.63h-4.63zM83.5 140.7h4.63v4.63h-4.63zM88.1 136.0h4.63v4.63h-4.63zM97.3 149.9h4.63v4.63h-4.63zM102.0 154.5h4.63v4.63h-4.63z" fill="#e8dce8"/>
<path d="M18.6 163.8h4.63v4.63h-4.63zM23.3 122.1h4.63v4.63h-4.63zM27.9 131.4h4.63v4.63h-4.63zM37.1 154.5h4.63v4.63h-4.63zM37.1 163.8h4.63v4.63h-4.63zM41.8 131.4h4.63v4.63h-4.63zM46.4 140.7h4.63v4.63h-4.63zM60.3 145.3h4.63v4.63h-4.63zM64.9 126.8h4.63v4.63h-4.63zM74.2 122.1h4.63v4.63h-4.63zM83.5 131.4h4.63v4.63h-4.63zM92.7 149.9h4.63v4.63h-4.63zM97.3 159.2h4.63v4.63h-4.63zM97.3 163.8h4.63v4.63h-4.63zM102.0 145.3h4.63v4.63h-4.63z" fill="#b8a0c0"/>
<path d="M23.3 145.3h4.63v4.63h-4.63zM27.9 126.8h4.63v4.63h-4.63zM27.9 136.0h4.63v4.63h-4.63zM32.5 154.5h4.63v4.63h-4.63zM41.8 136.0h4.63v4.63h-4.63zM69.6 126.8h4.63v4.63h-4.63zM69.6 159.2h4.63v4.63h-4.63zM74.2 140.7h4.63v4.63h-4.63zM74.2 154.5h4.63v4.63h-4.63zM78.8 126.8h4.63v4.63h-4.63zM78.8 149.9h4.63v4.63h-4.63zM78.8 159.2h4.63v4.63h-4.63zM92.7 126.8h4.63v4.63h-4.63zM92.7 131.4h4.63v4.63h-4.63zM92.7 136.0h4.63v4.63h-4.63zM92.7 154.5h4.63v4.63h-4.63zM92.7 163.8h4.63v4.63h-4.63z" fill="#c8b0b8"/>
<path d="M18.6 145.3h4.63v4.63h-4.63zM32.5 131.4h4.63v4.63h-4.63zM32.5 140.7h4.63v4.63h-4.63zM37.1 131.4h4.63v4.63h-4.63zM37.1 145.3h4.63v4.63h-4.63zM51.0 140.7h4.63v4.63h-4.63zM51.0 145.3h4.63v4.63h-4.63zM51.0 149.9h4.63v4.63h-4.63zM55.7 136.0h4.63v4.63h-4.63zM55.7 149.9h4.63v4.63h-4.63zM64.9 154.5h4.63v4.63h-4.63zM69.6 145.3h4.63v4.63h-4.63zM78.8 140.7h4.63v4.63h-4.63zM78.8 154.5h4.63v4.63h-4.63z" fill="#f0e8f0"/>
</g>
<polygon points="14.0,125.9 28.0,126.9 28.0,133.9 14.0,133.9" fill="#e0d8e4"/>
<polygon points="54.0,134.9 84.0,140.9 106.0,146.9 106.0,156.9 74.0,149.9" fill="#e2d4de"/>
<path d="M14.0 123.9h4.63v4.63h-4.63zM18.6 123.9h4.63v4.63h-4.63zM18.6 128.5h4.63v4.63h-4.63zM23.3 123.9h4.63v4.63h-4.63zM27.9 123.9h4.63v4.63h-4.63zM27.9 128.5h4.63v4.63h-4.63zM32.5 123.9h4.63v4.63h-4.63zM32.5 137.8h4.63v4.63h-4.63zM37.1 133.2h4.63v4.63h-4.63zM41.8 123.9h4.63v4.63h-4.63zM41.8 128.5h4.63v4.63h-4.63zM41.8 133.2h4.63v4.63h-4.63zM41.8 137.8h4.63v4.63h-4.63zM51.0 137.8h4.63v4.63h-4.63zM55.7 133.2h4.63v4.63h-4.63zM55.7 137.8h4.63v4.63h-4.63z" fill="#1c3424"/>
<path d="M14.0 149.5h4.63v4.63h-4.63zM14.0 158.8h4.63v4.63h-4.63zM18.6 149.5h4.63v4.63h-4.63zM41.8 149.5h4.63v4.63h-4.63zM55.7 144.9h4.63v4.63h-4.63zM55.7 149.5h4.63v4.63h-4.63zM55.7 154.2h4.63v4.63h-4.63z" fill="#8a7070"/>
<polygon points="14.0,156.9 44.0,156.9 44.0,164.3 14.0,164.3" fill="#8a7a80"/>
<polygon points="106.0,149.9 136.0,149.9 136.0,164.3 106.0,164.3" fill="#d4c6d0"/>
<circle cx="73.9" cy="45.9" r="1.7" fill="#2fe22f"/>
<circle cx="134.4" cy="35.0" r="1.7" fill="#2fe22f"/>
<circle cx="113.1" cy="75.7" r="1.7" fill="#2fe22f"/>
<circle cx="24.7" cy="95.4" r="1.7" fill="#2fe22f"/>
<circle cx="20.9" cy="85.2" r="1.7" fill="#2fe22f"/>
<circle cx="26.9" cy="37.5" r="1.7" fill="#2fe22f"/>
<circle cx="92.5" cy="139.8" r="1.7" fill="#2fe22f"/>
<circle cx="36.9" cy="55.9" r="1.7" fill="#2fe22f"/>
<circle cx="130.1" cy="156.6" r="1.7" fill="#2fe22f"/>
<circle cx="120.8" cy="80.0" r="1.7" fill="#2fe22f"/>
<circle cx="194.6" cy="31.4" r="1.7" fill="#2fe22f"/>
<circle cx="172.8" cy="65.2" r="1.7" fill="#2fe22f"/>
<circle cx="40.7" cy="41.3" r="1.7" fill="#2fe22f"/>
<circle cx="71.1" cy="138.3" r="1.7" fill="#2fe22f"/>
<circle cx="47.4" cy="105.7" r="1.7" fill="#2fe22f"/>
<circle cx="132.2" cy="76.7" r="1.7" fill="#2fe22f"/>
<circle cx="115.3" cy="33.6" r="1.7" fill="#2fe22f"/>
<circle cx="25.0" cy="53.5" r="1.7" fill="#2fe22f"/>
<circle cx="139.9" cy="84.3" r="1.7" fill="#2fe22f"/>
<circle cx="72.1" cy="106.3" r="1.7" fill="#2fe22f"/>
<circle cx="97.8" cy="66.6" r="1.7" fill="#2fe22f"/>
<circle cx="161.0" cy="122.1" r="1.7" fill="#2fe22f"/>
<circle cx="59.2" cy="104.7" r="1.7" fill="#2fe22f"/>
<circle cx="111.2" cy="146.5" r="1.7" fill="#2fe22f"/>
<circle cx="148.9" cy="64.9" r="1.7" fill="#2fe22f"/>
<circle cx="195.3" cy="41.3" r="1.7" fill="#2fe22f"/>
<circle cx="91.4" cy="130.1" r="1.7" fill="#2fe22f"/>
<circle cx="42.1" cy="92.9" r="1.7" fill="#2fe22f"/>
<circle cx="21.3" cy="117.8" r="1.7" fill="#f0a030"/>
<circle cx="155.4" cy="104.6" r="1.7" fill="#1fa79a"/>
<circle cx="176.0" cy="68.5" r="1.7" fill="#2fe22f"/>
<circle cx="142.6" cy="107.5" r="1.7" fill="#2fe22f"/>
<circle cx="121.3" cy="88.3" r="1.7" fill="#2fe22f"/>
<circle cx="169.4" cy="156.2" r="1.7" fill="#2fe22f"/>
<circle cx="101.7" cy="117.2" r="1.7" fill="#2fe22f"/>
<circle cx="25.2" cy="122.4" r="1.7" fill="#2fe22f"/>
<circle cx="133.7" cy="162.9" r="1.7" fill="#2fe22f"/>
<circle cx="166.1" cy="64.5" r="1.7" fill="#2fe22f"/>
<circle cx="85.4" cy="117.8" r="1.7" fill="#2fe22f"/>
<circle cx="18.2" cy="89.1" r="1.7" fill="#2fe22f"/>
<circle cx="45.1" cy="41.2" r="1.7" fill="#2fe22f"/>
<circle cx="24.9" cy="131.7" r="1.7" fill="#2fe22f"/>
<circle cx="37.9" cy="59.3" r="1.7" fill="#2fe22f"/>
<circle cx="86.3" cy="146.0" r="1.7" fill="#2fe22f"/>
<circle cx="28.9" cy="87.3" r="1.7" fill="#2fe22f"/>
<circle cx="115.6" cy="147.7" r="1.7" fill="#9ade40"/>
<circle cx="165.6" cy="145.0" r="1.7" fill="#f0a030"/>
<circle cx="65.5" cy="82.6" r="1.7" fill="#2fe22f"/>
<circle cx="80.4" cy="147.8" r="1.7" fill="#2fe22f"/>
<circle cx="191.2" cy="45.9" r="1.7" fill="#2fe22f"/>
<circle cx="46.6" cy="57.1" r="1.7" fill="#2fe22f"/>
<circle cx="57.2" cy="92.3" r="1.7" fill="#2fe22f"/>
<circle cx="123.0" cy="61.4" r="1.7" fill="#2fe22f"/>
<circle cx="14.8" cy="83.1" r="1.7" fill="#f0a030"/>
<circle cx="82.3" cy="103.6" r="1.7" fill="#2fe22f"/>
<circle cx="190.3" cy="120.9" r="1.7" fill="#2fe22f"/>
<circle cx="109.4" cy="110.7" r="1.7" fill="#2fe22f"/>
<circle cx="139.1" cy="32.4" r="1.7" fill="#2fe22f"/>
<circle cx="180.4" cy="133.3" r="1.7" fill="#9ade40"/>
<circle cx="175.8" cy="135.8" r="1.7" fill="#2fe22f"/>
<circle cx="86.6" cy="80.4" r="1.7" fill="#2fe22f"/>
<circle cx="33.2" cy="113.1" r="1.7" fill="#2fe22f"/>
<circle cx="25.5" cy="34.3" r="1.7" fill="#2fe22f"/>
<circle cx="52.6" cy="47.5" r="1.7" fill="#2fe22f"/>
<circle cx="76.9" cy="32.2" r="1.7" fill="#2fe22f"/>
<circle cx="14.0" cy="45.9" r="1.7" fill="#2fe22f"/>
<circle cx="32.8" cy="75.4" r="1.7" fill="#2fe22f"/>
<circle cx="18.7" cy="146.4" r="1.7" fill="#2fe22f"/>
<circle cx="127.6" cy="45.5" r="1.7" fill="#2fe22f"/>
<circle cx="60.7" cy="73.2" r="1.7" fill="#2fe22f"/>
<circle cx="81.4" cy="42.0" r="1.7" fill="#2fe22f"/>
<circle cx="171.1" cy="162.9" r="1.7" fill="#2fe22f"/>
<circle cx="100.2" cy="92.2" r="1.7" fill="#2fe22f"/>
<circle cx="29.9" cy="39.1" r="1.7" fill="#2fe22f"/>
<circle cx="77.4" cy="61.7" r="1.7" fill="#2fe22f"/>
<circle cx="167.3" cy="47.3" r="1.7" fill="#2fe22f"/>
<circle cx="18.3" cy="157.1" r="1.7" fill="#2fe22f"/>
<circle cx="111.7" cy="45.3" r="1.7" fill="#2fe22f"/>
<circle cx="114.5" cy="28.7" r="1.7" fill="#2fe22f"/>
<circle cx="111.7" cy="160.9" r="1.7" fill="#2fe22f"/>
<circle cx="173.7" cy="121.7" r="1.7" fill="#2fe22f"/>
<circle cx="62.3" cy="75.9" r="1.7" fill="#2fe22f"/>
<circle cx="44.9" cy="132.2" r="1.7" fill="#2fe22f"/>
<circle cx="112.5" cy="133.2" r="1.7" fill="#2fe22f"/>
<circle cx="75.0" cy="55.9" r="1.7" fill="#2fe22f"/>
<circle cx="164.1" cy="161.8" r="1.7" fill="#1d7a1d"/>
<circle cx="171.7" cy="136.9" r="1.7" fill="#2fe22f"/>
<circle cx="165.4" cy="127.7" r="1.7" fill="#2fe22f"/>
<circle cx="55.9" cy="96.9" r="1.7" fill="#9ade40"/>
<circle cx="79.8" cy="28.9" r="1.7" fill="#2fe22f"/>
<circle cx="19.2" cy="63.7" r="1.7" fill="#2fe22f"/>
<circle cx="61.9" cy="121.2" r="1.7" fill="#2fe22f"/>
<circle cx="191.0" cy="87.1" r="1.7" fill="#1fa79a"/>
<circle cx="187.3" cy="162.2" r="1.7" fill="#2fe22f"/>
<circle cx="190.7" cy="75.6" r="1.7" fill="#2fe22f"/>
<circle cx="54.8" cy="56.4" r="1.7" fill="#2fe22f"/>
<circle cx="50.4" cy="53.3" r="1.7" fill="#2fe22f"/>
<circle cx="129.5" cy="150.0" r="1.7" fill="#2fe22f"/>
<circle cx="169.5" cy="91.5" r="1.7" fill="#2fe22f"/>
<circle cx="134.8" cy="136.1" r="1.7" fill="#2fe22f"/>
<circle cx="29.7" cy="116.7" r="1.7" fill="#2fe22f"/>
<circle cx="182.3" cy="133.6" r="1.7" fill="#2fe22f"/>
<circle cx="152.8" cy="91.3" r="1.7" fill="#2fe22f"/>
<circle cx="47.0" cy="134.6" r="1.7" fill="#2fe22f"/>
<circle cx="75.5" cy="136.2" r="1.7" fill="#2fe22f"/>
<circle cx="193.8" cy="79.9" r="1.7" fill="#2fe22f"/>
<circle cx="88.3" cy="156.5" r="1.7" fill="#2fe22f"/>
<circle cx="148.1" cy="48.5" r="1.7" fill="#2fe22f"/>
<circle cx="37.5" cy="45.9" r="1.7" fill="#2fe22f"/>
<circle cx="181.4" cy="137.0" r="1.7" fill="#2fe22f"/>
<circle cx="41.0" cy="139.8" r="1.7" fill="#2fe22f"/>
<circle cx="195.4" cy="116.3" r="1.7" fill="#2fe22f"/>
<circle cx="78.8" cy="101.2" r="1.7" fill="#2fe22f"/>
<circle cx="38.2" cy="26.9" r="1.7" fill="#2fe22f"/>
<circle cx="193.6" cy="115.2" r="1.7" fill="#2fe22f"/>
<circle cx="111.4" cy="154.7" r="1.7" fill="#2fe22f"/>
<circle cx="94.3" cy="146.1" r="1.7" fill="#2fe22f"/>
<circle cx="166.8" cy="54.2" r="1.7" fill="#2fe22f"/>
<circle cx="60.6" cy="65.6" r="1.7" fill="#2fe22f"/>
<circle cx="58.5" cy="106.4" r="1.7" fill="#2fe22f"/>
<circle cx="62.0" cy="83.1" r="1.7" fill="#2fe22f"/>
<circle cx="38.2" cy="151.4" r="1.7" fill="#2fe22f"/>
<circle cx="79.5" cy="88.6" r="1.7" fill="#2fe22f"/>
<circle cx="121.9" cy="150.6" r="1.7" fill="#2fe22f"/>
<circle cx="91.8" cy="152.5" r="1.7" fill="#2fe22f"/>
<circle cx="106.8" cy="98.8" r="1.7" fill="#2fe22f"/>
<circle cx="110.8" cy="27.5" r="1.7" fill="#2fe22f"/>
<circle cx="95.4" cy="50.4" r="1.7" fill="#2fe22f"/>
<circle cx="14.7" cy="136.0" r="1.7" fill="#2fe22f"/>
<circle cx="45.9" cy="90.7" r="1.7" fill="#2fe22f"/>
<circle cx="148.2" cy="102.3" r="1.7" fill="#2fe22f"/>
<circle cx="74.3" cy="97.0" r="1.7" fill="#2fe22f"/>
<circle cx="116.8" cy="133.9" r="1.7" fill="#2fe22f"/>
<circle cx="33.6" cy="102.8" r="1.7" fill="#2fe22f"/>
<circle cx="60.0" cy="63.4" r="1.7" fill="#2fe22f"/>
<circle cx="156.9" cy="95.5" r="1.7" fill="#2fe22f"/>
<circle cx="117.9" cy="130.5" r="1.7" fill="#2fe22f"/>
<circle cx="182.8" cy="86.5" r="1.7" fill="#2fe22f"/>
<circle cx="127.3" cy="95.2" r="1.7" fill="#2fe22f"/>
<circle cx="108.7" cy="121.2" r="1.7" fill="#2fe22f"/>
<circle cx="97.7" cy="99.0" r="1.7" fill="#2fe22f"/>
<circle cx="102.4" cy="155.8" r="1.7" fill="#2fe22f"/>
<circle cx="143.4" cy="146.7" r="1.7" fill="#2fe22f"/>
<circle cx="188.3" cy="61.0" r="1.7" fill="#2fe22f"/>
<circle cx="117.5" cy="156.0" r="1.7" fill="#2fe22f"/>
<circle cx="169.4" cy="44.0" r="1.7" fill="#2fe22f"/>
<circle cx="36.5" cy="86.4" r="1.7" fill="#2fe22f"/>
<circle cx="27.4" cy="58.3" r="1.7" fill="#2fe22f"/>
<circle cx="27.5" cy="118.0" r="1.7" fill="#2fe22f"/>
<circle cx="159.0" cy="149.6" r="1.7" fill="#2fe22f"/>
<circle cx="42.6" cy="124.4" r="1.7" fill="#2fe22f"/>
<circle cx="136.1" cy="44.8" r="1.7" fill="#2fe22f"/>
<circle cx="177.3" cy="159.4" r="1.7" fill="#2fe22f"/>
<circle cx="54.6" cy="157.3" r="1.7" fill="#f0a030"/>
<circle cx="87.7" cy="92.6" r="1.7" fill="#2fe22f"/>
<circle cx="197.1" cy="140.6" r="1.7" fill="#2fe22f"/>
<circle cx="43.9" cy="84.9" r="1.7" fill="#2fe22f"/>
<circle cx="109.4" cy="72.0" r="1.7" fill="#2fe22f"/>
<circle cx="50.2" cy="69.2" r="1.7" fill="#2fe22f"/>
<circle cx="147.6" cy="27.6" r="1.7" fill="#2fe22f"/>
<circle cx="116.5" cy="86.1" r="1.7" fill="#2fe22f"/>
<circle cx="17.3" cy="71.0" r="1.7" fill="#2fe22f"/>
<circle cx="129.4" cy="96.1" r="1.7" fill="#2fe22f"/>
<circle cx="25.9" cy="161.8" r="1.7" fill="#2fe22f"/>
<circle cx="159.8" cy="160.0" r="1.7" fill="#2fe22f"/>
<circle cx="33.4" cy="61.8" r="1.7" fill="#2fe22f"/>
<circle cx="21.3" cy="133.2" r="1.7" fill="#2fe22f"/>
<circle cx="64.0" cy="42.9" r="1.7" fill="#2fe22f"/>
<circle cx="92.1" cy="151.6" r="1.7" fill="#2fe22f"/>
<circle cx="165.5" cy="60.8" r="1.7" fill="#2fe22f"/>
<circle cx="41.6" cy="152.7" r="1.7" fill="#f0a030"/>
<circle cx="119.6" cy="122.3" r="1.7" fill="#2fe22f"/>
<circle cx="30.6" cy="32.9" r="1.7" fill="#2fe22f"/>
<circle cx="141.3" cy="84.0" r="1.7" fill="#2fe22f"/>
<circle cx="27.4" cy="155.3" r="1.7" fill="#2fe22f"/>
<circle cx="131.4" cy="136.3" r="1.7" fill="#2fe22f"/>
<circle cx="29.5" cy="143.9" r="1.7" fill="#2fe22f"/>
<circle cx="26.3" cy="144.8" r="1.7" fill="#2fe22f"/>
<circle cx="97.9" cy="72.0" r="1.7" fill="#2fe22f"/>
<circle cx="116.3" cy="153.7" r="1.7" fill="#2fe22f"/>
<circle cx="63.6" cy="42.9" r="1.7" fill="#2fe22f"/>
<circle cx="111.5" cy="58.0" r="1.7" fill="#2fe22f"/>
<circle cx="34.2" cy="47.3" r="1.7" fill="#2fe22f"/>
<circle cx="23.3" cy="52.9" r="1.7" fill="#2fe22f"/>
<circle cx="71.7" cy="67.3" r="1.7" fill="#2fe22f"/>
<circle cx="154.5" cy="65.2" r="1.7" fill="#2fe22f"/>
<circle cx="106.5" cy="49.6" r="1.7" fill="#2fe22f"/>
<circle cx="78.2" cy="27.4" r="1.7" fill="#2fe22f"/>
<circle cx="60.3" cy="27.0" r="1.7" fill="#2fe22f"/>
<circle cx="149.6" cy="101.5" r="1.7" fill="#2fe22f"/>
<circle cx="49.0" cy="90.9" r="1.7" fill="#2fe22f"/>
<circle cx="186.9" cy="39.7" r="1.7" fill="#2fe22f"/>
<circle cx="165.5" cy="85.0" r="1.7" fill="#1fa79a"/>
<circle cx="105.6" cy="140.9" r="1.7" fill="#2fe22f"/>
<circle cx="86.7" cy="95.3" r="1.7" fill="#2fe22f"/>
<circle cx="141.2" cy="161.5" r="1.7" fill="#2fe22f"/>
<circle cx="77.4" cy="140.6" r="1.7" fill="#2fe22f"/>
<circle cx="144.7" cy="113.3" r="1.7" fill="#2fe22f"/>
<circle cx="88.9" cy="73.2" r="1.7" fill="#2fe22f"/>
<circle cx="24.1" cy="42.9" r="1.7" fill="#2fe22f"/>
<circle cx="27.1" cy="127.9" r="1.7" fill="#2fe22f"/>
<circle cx="61.3" cy="47.6" r="1.7" fill="#2fe22f"/>
<circle cx="29.6" cy="141.8" r="1.7" fill="#2fe22f"/>
<circle cx="175.0" cy="118.1" r="1.7" fill="#2fe22f"/>
<circle cx="66.2" cy="58.6" r="1.7" fill="#2fe22f"/>
<circle cx="68.2" cy="88.8" r="1.7" fill="#2fe22f"/>
<circle cx="43.1" cy="86.9" r="1.7" fill="#2fe22f"/>
<circle cx="62.7" cy="158.6" r="1.7" fill="#1d7a1d"/>
<circle cx="193.9" cy="100.9" r="1.7" fill="#1fa79a"/>
<circle cx="59.2" cy="159.1" r="1.7" fill="#2fe22f"/>
<circle cx="71.3" cy="74.5" r="1.7" fill="#f0a030"/>
<circle cx="14.2" cy="77.9" r="1.7" fill="#2fe22f"/>
<circle cx="101.8" cy="94.8" r="1.7" fill="#2fe22f"/>
<circle cx="51.2" cy="95.1" r="1.7" fill="#2fe22f"/>
<circle cx="14.9" cy="61.6" r="1.7" fill="#2fe22f"/>
<circle cx="30.6" cy="80.4" r="1.7" fill="#2fe22f"/>
<circle cx="21.7" cy="28.0" r="1.7" fill="#2fe22f"/>
<circle cx="70.3" cy="57.3" r="1.7" fill="#2fe22f"/>
<circle cx="122.3" cy="98.5" r="1.7" fill="#2fe22f"/>
<circle cx="152.9" cy="116.3" r="1.7" fill="#2fe22f"/>
<circle cx="146.5" cy="147.1" r="1.7" fill="#2fe22f"/>
<circle cx="86.1" cy="70.2" r="1.7" fill="#2fe22f"/>
<circle cx="196.2" cy="45.7" r="1.7" fill="#9ade40"/>
<circle cx="148.0" cy="114.3" r="1.7" fill="#f0a030"/>
<circle cx="22.1" cy="141.0" r="1.7" fill="#2fe22f"/>
<circle cx="179.0" cy="112.1" r="1.7" fill="#2fe22f"/>
<circle cx="149.8" cy="137.8" r="1.7" fill="#2fe22f"/>
<circle cx="39.8" cy="97.7" r="1.7" fill="#2fe22f"/>
<circle cx="107.3" cy="141.0" r="1.7" fill="#2fe22f"/>
<circle cx="162.9" cy="139.8" r="1.7" fill="#2fe22f"/>
<circle cx="122.1" cy="149.0" r="1.7" fill="#2fe22f"/>
<circle cx="140.3" cy="121.3" r="1.7" fill="#2fe22f"/>
<circle cx="56.5" cy="29.2" r="1.7" fill="#2fe22f"/>
<circle cx="38.6" cy="75.0" r="1.7" fill="#2fe22f"/>
<circle cx="33.4" cy="141.1" r="1.7" fill="#2fe22f"/>
<circle cx="117.3" cy="112.2" r="1.7" fill="#2fe22f"/>
<circle cx="129.9" cy="119.5" r="1.7" fill="#2fe22f"/>
<circle cx="104.5" cy="25.4" r="1.7" fill="#2fe22f"/>
<circle cx="161.6" cy="128.9" r="1.7" fill="#2fe22f"/>
<circle cx="107.0" cy="99.3" r="1.7" fill="#2fe22f"/>
<circle cx="136.0" cy="34.1" r="1.7" fill="#2fe22f"/>
<circle cx="150.3" cy="60.0" r="1.7" fill="#2fe22f"/>
<circle cx="27.8" cy="61.8" r="1.7" fill="#2fe22f"/>
<circle cx="148.9" cy="53.4" r="1.7" fill="#2fe22f"/>
<circle cx="150.9" cy="160.5" r="1.7" fill="#2fe22f"/>
<circle cx="105.4" cy="78.1" r="1.7" fill="#2fe22f"/>
<circle cx="102.6" cy="119.9" r="1.7" fill="#2fe22f"/>
<circle cx="155.9" cy="110.7" r="1.7" fill="#2fe22f"/>
<circle cx="132.9" cy="35.7" r="1.7" fill="#2fe22f"/>
<circle cx="41.3" cy="60.2" r="1.7" fill="#2fe22f"/>
<circle cx="151.5" cy="67.2" r="1.7" fill="#2fe22f"/>
<circle cx="119.0" cy="26.6" r="1.7" fill="#2fe22f"/>
<circle cx="25.2" cy="62.3" r="1.7" fill="#2fe22f"/>
<circle cx="138.3" cy="121.1" r="1.7" fill="#2fe22f"/>
<circle cx="139.0" cy="65.3" r="1.7" fill="#2fe22f"/>
<circle cx="109.6" cy="89.5" r="1.7" fill="#2fe22f"/>
<circle cx="100.3" cy="41.4" r="1.7" fill="#2fe22f"/>
<circle cx="179.3" cy="52.6" r="1.7" fill="#9ade40"/>
<circle cx="195.0" cy="155.0" r="1.7" fill="#2fe22f"/>
<circle cx="17.2" cy="88.7" r="1.7" fill="#2fe22f"/>
<circle cx="165.7" cy="159.5" r="1.7" fill="#2fe22f"/>
<circle cx="97.1" cy="62.2" r="1.7" fill="#2fe22f"/>
<circle cx="52.8" cy="156.3" r="1.7" fill="#2fe22f"/>
<circle cx="53.0" cy="105.7" r="1.7" fill="#2fe22f"/>
<circle cx="40.2" cy="97.7" r="1.7" fill="#2fe22f"/>
<circle cx="190.3" cy="43.3" r="1.7" fill="#2fe22f"/>
<circle cx="165.7" cy="95.6" r="1.7" fill="#1fa79a"/>
<circle cx="178.1" cy="122.7" r="1.7" fill="#2fe22f"/>
<circle cx="56.8" cy="149.7" r="1.7" fill="#2fe22f"/>
<circle cx="103.9" cy="28.4" r="1.7" fill="#2fe22f"/>
<circle cx="14.7" cy="93.2" r="1.7" fill="#2fe22f"/>
<circle cx="97.4" cy="66.9" r="1.7" fill="#2fe22f"/>
<circle cx="40.0" cy="72.7" r="1.7" fill="#2fe22f"/>
<circle cx="72.5" cy="141.7" r="1.7" fill="#2fe22f"/>
<circle cx="14.3" cy="129.3" r="1.7" fill="#2fe22f"/>
<circle cx="169.2" cy="41.6" r="1.7" fill="#2fe22f"/>
<circle cx="185.4" cy="124.0" r="1.7" fill="#2fe22f"/>
<circle cx="180.8" cy="65.2" r="1.7" fill="#2fe22f"/>
<circle cx="82.9" cy="79.5" r="1.7" fill="#2fe22f"/>
<circle cx="198.8" cy="106.8" r="1.7" fill="#2fe22f"/>
<circle cx="80.7" cy="84.4" r="1.7" fill="#2fe22f"/>
<circle cx="64.9" cy="31.6" r="1.7" fill="#2fe22f"/>
<circle cx="32.8" cy="140.9" r="1.7" fill="#9ade40"/>
<circle cx="66.8" cy="154.9" r="1.7" fill="#2fe22f"/>
<circle cx="60.1" cy="61.8" r="1.7" fill="#2fe22f"/>
<circle cx="108.5" cy="51.3" r="1.7" fill="#2fe22f"/>
<circle cx="83.1" cy="157.8" r="1.7" fill="#2fe22f"/>
<circle cx="177.6" cy="137.8" r="1.7" fill="#2fe22f"/>
<circle cx="130.7" cy="151.9" r="1.7" fill="#2fe22f"/>
<circle cx="188.0" cy="101.2" r="1.7" fill="#1fa79a"/>
<circle cx="147.1" cy="31.8" r="1.7" fill="#2fe22f"/>
<circle cx="149.5" cy="87.6" r="1.7" fill="#2fe22f"/>
<circle cx="153.2" cy="114.5" r="1.7" fill="#f0a030"/>
<circle cx="66.9" cy="31.7" r="1.7" fill="#2fe22f"/>
<circle cx="185.5" cy="42.6" r="1.7" fill="#2fe22f"/>
<circle cx="101.4" cy="72.7" r="1.7" fill="#2fe22f"/>
<circle cx="69.1" cy="127.6" r="1.7" fill="#2fe22f"/>
<circle cx="194.6" cy="61.1" r="1.7" fill="#2fe22f"/>
<circle cx="135.4" cy="66.7" r="1.7" fill="#2fe22f"/>
<circle cx="117.1" cy="79.7" r="1.7" fill="#9ade40"/>
<circle cx="45.0" cy="47.4" r="1.7" fill="#2fe22f"/>
<circle cx="52.5" cy="150.8" r="1.7" fill="#2fe22f"/>
<circle cx="106.0" cy="55.5" r="1.7" fill="#2fe22f"/>
<circle cx="181.7" cy="163.4" r="1.7" fill="#2fe22f"/>
<circle cx="97.2" cy="44.3" r="1.7" fill="#f0a030"/>
<circle cx="49.6" cy="37.5" r="1.7" fill="#2fe22f"/>
<circle cx="77.3" cy="37.6" r="1.7" fill="#2fe22f"/>
<circle cx="58.2" cy="60.8" r="1.7" fill="#2fe22f"/>
<circle cx="119.4" cy="148.2" r="1.7" fill="#2fe22f"/>
<circle cx="152.7" cy="82.3" r="1.7" fill="#2fe22f"/>
<circle cx="90.6" cy="97.8" r="1.7" fill="#2fe22f"/>
<circle cx="83.7" cy="71.9" r="1.7" fill="#2fe22f"/>
<circle cx="25.5" cy="63.5" r="1.7" fill="#2fe22f"/>
<circle cx="193.0" cy="42.4" r="1.7" fill="#2fe22f"/>
<circle cx="107.1" cy="112.4" r="1.7" fill="#2fe22f"/>
<circle cx="173.6" cy="54.9" r="1.7" fill="#2fe22f"/>
<circle cx="64.1" cy="59.4" r="1.7" fill="#2fe22f"/>
<circle cx="88.0" cy="86.9" r="1.7" fill="#2fe22f"/>
<circle cx="190.5" cy="142.9" r="1.7" fill="#2fe22f"/>
<circle cx="175.5" cy="27.9" r="1.7" fill="#9ade40"/>
<circle cx="20.0" cy="123.5" r="1.7" fill="#2fe22f"/>
<circle cx="179.7" cy="90.7" r="1.7" fill="#2fe22f"/>
<circle cx="122.6" cy="24.9" r="1.7" fill="#2fe22f"/>
<circle cx="86.4" cy="153.7" r="1.7" fill="#2fe22f"/>
<circle cx="166.7" cy="143.8" r="1.7" fill="#2fe22f"/>
<circle cx="193.9" cy="59.4" r="1.7" fill="#2fe22f"/>
<circle cx="34.2" cy="46.4" r="1.7" fill="#2fe22f"/>
<circle cx="110.6" cy="119.7" r="1.7" fill="#2fe22f"/>
<circle cx="188.2" cy="125.2" r="1.7" fill="#f0a030"/>
<circle cx="133.8" cy="131.2" r="1.7" fill="#2fe22f"/>
<line x1="60.3" y1="24.9" x2="60.3" y2="164.3" stroke="#b8a020" stroke-width="0.8"/>
<line x1="106.4" y1="24.9" x2="106.4" y2="164.3" stroke="#b8a020" stroke-width="0.8"/>
<line x1="152.4" y1="24.9" x2="152.4" y2="164.3" stroke="#b8a020" stroke-width="0.8"/>
<line x1="14" y1="72.4" x2="199" y2="72.4" stroke="#b8a020" stroke-width="0.8"/>
<line x1="14" y1="118.4" x2="199" y2="118.4" stroke="#b8a020" stroke-width="0.8"/>
<rect x="14" y="24.9" width="185" height="139.4" fill="none" stroke="#a89830" stroke-width="0.8"/>
<rect x="13.00" y="198.80" width="186.00" height="139.80" fill="#18c41a"/>
<path d="M27.0 198.8h4.63v4.63h-4.63zM27.0 217.3h4.63v4.63h-4.63zM31.6 217.3h4.63v4.63h-4.63zM36.3 198.8h4.63v4.63h-4.63zM36.3 212.7h4.63v4.63h-4.63zM40.9 198.8h4.63v4.63h-4.63zM40.9 203.4h4.63v4.63h-4.63zM40.9 208.1h4.63v4.63h-4.63zM45.5 208.1h4.63v4.63h-4.63zM45.5 212.7h4.63v4.63h-4.63zM50.1 198.8h4.63v4.63h-4.63zM50.1 212.7h4.63v4.63h-4.63zM54.8 198.8h4.63v4.63h-4.63zM54.8 217.3h4.63v4.63h-4.63zM59.4 203.4h4.63v4.63h-4.63zM59.4 208.1h4.63v4.63h-4.63zM59.4 217.3h4.63v4.63h-4.63zM64.0 203.4h4.63v4.63h-4.63zM68.7 212.7h4.63v4.63h-4.63zM73.3 203.4h4.63v4.63h-4.63zM82.6 198.8h4.63v4.63h-4.63zM82.6 203.4h4.63v4.63h-4.63zM87.2 212.7h4.63v4.63h-4.63zM91.8 208.1h4.63v4.63h-4.63zM91.8 212.7h4.63v4.63h-4.63zM91.8 217.3h4.63v4.63h-4.63zM96.5 203.4h4.63v4.63h-4.63zM96.5 212.7h4.63v4.63h-4.63zM96.5 217.3h4.63v4.63h-4.63zM101.1 198.8h4.63v4.63h-4.63z" fill="#3c6a24"/>
<path d="M27.0 208.1h4.63v4.63h-4.63zM31.6 198.8h4.63v4.63h-4.63zM40.9 208.1h4.63v4.63h-4.63zM64.0 198.8h4.63v4.63h-4.63zM64.0 208.1h4.63v4.63h-4.63zM77.9 212.7h4.63v4.63h-4.63zM87.2 208.1h4.63v4.63h-4.63zM96.5 198.8h4.63v4.63h-4.63zM101.1 203.4h4.63v4.63h-4.63z" fill="#1aa595"/>
<polygon points="13.0,208.8 26.0,208.8 26.0,216.8 13.0,216.8" fill="#8fe822"/>
<polygon points="20.0,218.8 26.0,218.8 26.0,221.8 20.0,221.8" fill="#8fe822"/>
<polygon points="109.0,198.8 165.0,198.8 199.0,211.8 199.0,223.8 163.0,213.8 125.0,206.8 109.0,203.8" fill="#f4a526"/>
<polygon points="165.0,198.8 199.0,198.8 199.0,211.8" fill="#1aa595"/>
<path d="M110.6 211.4h4.63v4.63h-4.63zM119.9 206.8h4.63v4.63h-4.63zM124.5 216.1h4.63v4.63h-4.63zM133.8 225.3h4.63v4.63h-4.63zM138.4 206.8h4.63v4.63h-4.63zM143.0 225.3h4.63v4.63h-4.63zM170.8 220.7h4.63v4.63h-4.63zM175.4 220.7h4.63v4.63h-4.63zM189.3 220.7h4.63v4.63h-4.63z" fill="#3c6a24"/>
<path d="M172.3 228.1h4.63v4.63h-4.63zM181.5 218.8h4.63v4.63h-4.63zM181.5 228.1h4.63v4.63h-4.63zM195.4 218.8h4.63v4.63h-4.63zM195.4 223.4h4.63v4.63h-4.63z" fill="#8fe822"/>
<polygon points="70.0,224.8 111.0,228.8 148.0,231.8 199.0,234.8 199.0,251.8 148.0,248.8 111.0,238.8 83.0,234.8" fill="#f4a526"/>
<path d="M115.6 242.1h4.63v4.63h-4.63zM124.9 232.8h4.63v4.63h-4.63zM129.5 246.7h4.63v4.63h-4.63zM134.2 242.1h4.63v4.63h-4.63zM138.8 237.4h4.63v4.63h-4.63zM143.4 232.8h4.63v4.63h-4.63zM143.4 237.4h4.63v4.63h-4.63zM143.4 246.7h4.63v4.63h-4.63zM148.0 242.1h4.63v4.63h-4.63zM152.7 232.8h4.63v4.63h-4.63zM152.7 237.4h4.63v4.63h-4.63zM161.9 242.1h4.63v4.63h-4.63zM166.6 237.4h4.63v4.63h-4.63zM175.8 242.1h4.63v4.63h-4.63zM175.8 246.7h4.63v4.63h-4.63zM180.4 232.8h4.63v4.63h-4.63zM185.1 237.4h4.63v4.63h-4.63zM189.7 232.8h4.63v4.63h-4.63z" fill="#8fe822"/>
<path d="M115.6 239.4h4.63v4.63h-4.63zM129.5 234.8h4.63v4.63h-4.63zM134.2 234.8h4.63v4.63h-4.63zM143.4 234.8h4.63v4.63h-4.63zM157.3 234.8h4.63v4.63h-4.63zM175.8 239.4h4.63v4.63h-4.63z" fill="#18c41a"/>
<path d="M163.0 251.4h4.63v4.63h-4.63zM163.0 256.1h4.63v4.63h-4.63zM167.6 246.8h4.63v4.63h-4.63zM167.6 260.7h4.63v4.63h-4.63zM181.5 251.4h4.63v4.63h-4.63zM181.5 260.7h4.63v4.63h-4.63zM186.2 246.8h4.63v4.63h-4.63zM190.8 256.1h4.63v4.63h-4.63zM195.4 246.8h4.63v4.63h-4.63zM195.4 256.1h4.63v4.63h-4.63zM195.4 260.7h4.63v4.63h-4.63z" fill="#f05a1c"/>
<polygon points="13.0,245.8 38.0,245.8 47.0,250.8 47.0,269.8 13.0,271.8" fill="#1aa595"/>
<polygon points="13.0,271.8 48.0,270.8 68.0,277.8 93.0,280.8 106.0,282.8 106.0,291.8 13.0,291.8" fill="#1aa595"/>
<polygon points="113.0,255.8 152.0,254.8 199.0,256.8 199.0,278.8 152.0,278.8 140.0,276.8 123.0,268.8" fill="#1aa595"/>
<path d="M108.0 246.8h4.63v4.63h-4.63zM108.0 251.4h4.63v4.63h-4.63zM112.6 246.8h4.63v4.63h-4.63zM112.6 251.4h4.63v4.63h-4.63zM117.3 251.4h4.63v4.63h-4.63zM121.9 251.4h4.63v4.63h-4.63zM121.9 256.1h4.63v4.63h-4.63zM126.5 246.8h4.63v4.63h-4.63zM126.5 251.4h4.63v4.63h-4.63zM126.5 256.1h4.63v4.63h-4.63zM135.8 246.8h4.63v4.63h-4.63zM140.4 256.1h4.63v4.63h-4.63zM145.0 246.8h4.63v4.63h-4.63zM145.0 256.1h4.63v4.63h-4.63zM149.7 246.8h4.63v4.63h-4.63z" fill="#f4a526"/>
<path d="M117.3 256.1h4.63v4.63h-4.63zM135.8 246.8h4.63v4.63h-4.63zM140.4 256.1h4.63v4.63h-4.63z" fill="#8fe822"/>
<path d="M161.3 250.8h4.63v4.63h-4.63zM161.3 260.1h4.63v4.63h-4.63zM165.9 260.1h4.63v4.63h-4.63zM170.5 250.8h4.63v4.63h-4.63zM179.8 250.8h4.63v4.63h-4.63zM179.8 255.4h4.63v4.63h-4.63zM179.8 264.7h4.63v4.63h-4.63zM189.0 250.8h4.63v4.63h-4.63zM193.7 250.8h4.63v4.63h-4.63zM193.7 260.1h4.63v4.63h-4.63zM193.7 264.7h4.63v4.63h-4.63z" fill="#f4a526"/>
<polygon points="140.0,276.8 152.0,276.8 152.0,291.8 140.0,291.8" fill="#f4a526"/>
<polygon points="152.0,278.8 199.0,278.8 199.0,291.8 152.0,291.8" fill="#f4a526"/>
<path d="M152.0 288.1h4.63v4.63h-4.63zM170.5 283.4h4.63v4.63h-4.63zM170.5 288.1h4.63v4.63h-4.63zM184.4 278.8h4.63v4.63h-4.63zM184.4 283.4h4.63v4.63h-4.63z" fill="#1aa595"/>
<polygon points="13.0,287.8 106.0,287.8 106.0,292.2 13.0,292.2" fill="#1aa595"/>
<polygon points="21.0,292.2 89.0,292.2 89.0,311.8 35.0,311.8 35.0,299.8 21.0,299.8" fill="#1aa595"/>
<polygon points="13.0,312.8 59.0,312.8 59.0,338.0 13.0,338.0" fill="#18c41a"/>
<path d="M13.0 312.8h4.63v4.63h-4.63zM13.0 317.4h4.63v4.63h-4.63zM13.0 322.1h4.63v4.63h-4.63zM13.0 331.3h4.63v4.63h-4.63zM17.6 312.8h4.63v4.63h-4.63zM17.6 317.4h4.63v4.63h-4.63zM17.6 326.7h4.63v4.63h-4.63zM22.3 317.4h4.63v4.63h-4.63zM22.3 326.7h4.63v4.63h-4.63zM22.3 331.3h4.63v4.63h-4.63zM26.9 317.4h4.63v4.63h-4.63zM26.9 322.1h4.63v4.63h-4.63zM26.9 331.3h4.63v4.63h-4.63zM31.5 312.8h4.63v4.63h-4.63zM31.5 317.4h4.63v4.63h-4.63zM31.5 322.1h4.63v4.63h-4.63zM31.5 331.3h4.63v4.63h-4.63zM36.1 312.8h4.63v4.63h-4.63zM40.8 312.8h4.63v4.63h-4.63zM40.8 317.4h4.63v4.63h-4.63zM40.8 331.3h4.63v4.63h-4.63zM45.4 326.7h4.63v4.63h-4.63zM50.0 317.4h4.63v4.63h-4.63zM50.0 326.7h4.63v4.63h-4.63zM50.0 331.3h4.63v4.63h-4.63zM54.7 312.8h4.63v4.63h-4.63zM54.7 317.4h4.63v4.63h-4.63zM54.7 322.1h4.63v4.63h-4.63z" fill="#f4a526"/>
<path d="M13.0 312.8h4.63v4.63h-4.63zM13.0 317.4h4.63v4.63h-4.63zM17.6 317.4h4.63v4.63h-4.63zM22.3 326.7h4.63v4.63h-4.63zM26.9 312.8h4.63v4.63h-4.63zM26.9 317.4h4.63v4.63h-4.63zM31.5 317.4h4.63v4.63h-4.63zM31.5 322.1h4.63v4.63h-4.63zM31.5 326.7h4.63v4.63h-4.63zM36.1 312.8h4.63v4.63h-4.63zM36.1 317.4h4.63v4.63h-4.63zM36.1 322.1h4.63v4.63h-4.63zM36.1 326.7h4.63v4.63h-4.63zM36.1 331.3h4.63v4.63h-4.63zM40.8 317.4h4.63v4.63h-4.63zM40.8 331.3h4.63v4.63h-4.63zM50.0 317.4h4.63v4.63h-4.63zM50.0 326.7h4.63v4.63h-4.63zM54.7 322.1h4.63v4.63h-4.63z" fill="#1aa595"/>
<path d="M22.3 304.4h4.63v4.63h-4.63z" fill="#8fe822"/>
<polygon points="60.0,311.8 81.0,311.8 81.0,319.8 106.0,319.8 106.0,336.8 69.0,336.8 60.0,329.8" fill="#f4a526"/>
<path d="M78.3 324.4h4.63v4.63h-4.63zM87.5 319.8h4.63v4.63h-4.63zM87.5 324.4h4.63v4.63h-4.63z" fill="#8fe822"/>
<path d="M69.3 335.0h4.63v4.63h-4.63zM73.9 321.1h4.63v4.63h-4.63zM73.9 330.3h4.63v4.63h-4.63zM78.5 325.7h4.63v4.63h-4.63zM78.5 335.0h4.63v4.63h-4.63zM83.2 316.4h4.63v4.63h-4.63zM97.0 311.8h4.63v4.63h-4.63zM101.7 330.3h4.63v4.63h-4.63z" fill="#18c41a"/>
<polygon points="106.0,322.8 123.0,322.8 123.0,338.0 106.0,338.0" fill="#f4a526"/>
<path d="M150.3 322.8h4.63v4.63h-4.63zM150.3 332.1h4.63v4.63h-4.63zM168.8 332.1h4.63v4.63h-4.63z" fill="#f4a526"/>
<path d="M115.3 328.8h4.63v4.63h-4.63zM119.9 301.1h4.63v4.63h-4.63zM119.9 324.2h4.63v4.63h-4.63zM129.2 310.3h4.63v4.63h-4.63zM129.2 324.2h4.63v4.63h-4.63zM133.8 301.1h4.63v4.63h-4.63zM138.4 328.8h4.63v4.63h-4.63zM143.0 296.4h4.63v4.63h-4.63zM143.0 324.2h4.63v4.63h-4.63zM147.7 315.0h4.63v4.63h-4.63zM152.3 296.4h4.63v4.63h-4.63zM152.3 310.3h4.63v4.63h-4.63zM161.6 310.3h4.63v4.63h-4.63zM161.6 319.6h4.63v4.63h-4.63zM170.8 324.2h4.63v4.63h-4.63zM175.4 328.8h4.63v4.63h-4.63z" fill="#1aa595"/>
<polygon points="128.0,334.8 131.0,334.8 131.0,338.0 128.0,338.0" fill="#b021e0"/>
<polygon points="139.0,239.8 141.5,239.8 141.5,243.8 139.0,243.8" fill="#b021e0"/>
<circle cx="73.2" cy="219.9" r="1.8" fill="none" stroke="#1a5e16" stroke-width="0.8"/>
<circle cx="134.1" cy="208.9" r="1.8" fill="none" stroke="#1a5e16" stroke-width="0.8"/>
<circle cx="112.7" cy="249.9" r="1.8" fill="none" stroke="#1a5e16" stroke-width="0.8"/>
<circle cx="23.8" cy="269.7" r="1.8" fill="none" stroke="#1a5e16" stroke-width="0.8"/>
<circle cx="20.0" cy="259.4" r="1.8" fill="none" stroke="#1a5e16" stroke-width="0.8"/>
<circle cx="26.0" cy="211.5" r="1.8" fill="none" stroke="#1a5e16" stroke-width="0.8"/>
<circle cx="92.0" cy="314.4" r="1.8" fill="none" stroke="#1a5e16" stroke-width="0.8"/>
<circle cx="36.0" cy="230.0" r="1.8" fill="none" stroke="#1a5e16" stroke-width="0.8"/>
<circle cx="129.7" cy="331.3" r="1.8" fill="none" stroke="#1a5e16" stroke-width="0.8"/>
<circle cx="120.3" cy="254.3" r="1.8" fill="none" stroke="#1a5e16" stroke-width="0.8"/>
<circle cx="194.6" cy="205.3" r="1.8" fill="none" stroke="#1a5e16" stroke-width="0.8"/>
<circle cx="172.7" cy="239.3" r="1.8" fill="none" stroke="#1a5e16" stroke-width="0.8"/>
<circle cx="39.8" cy="215.3" r="1.8" fill="none" stroke="#1a5e16" stroke-width="0.8"/>
<circle cx="70.4" cy="312.9" r="1.8" fill="none" stroke="#1a5e16" stroke-width="0.8"/>
<circle cx="46.6" cy="280.1" r="1.8" fill="none" stroke="#1a5e16" stroke-width="0.8"/>
<circle cx="131.8" cy="250.9" r="1.8" fill="none" stroke="#1a5e16" stroke-width="0.8"/>
<circle cx="114.9" cy="207.6" r="1.8" fill="none" stroke="#1a5e16" stroke-width="0.8"/>
<circle cx="24.1" cy="227.6" r="1.8" fill="none" stroke="#1a5e16" stroke-width="0.8"/>
<circle cx="139.6" cy="258.6" r="1.8" fill="none" stroke="#1a5e16" stroke-width="0.8"/>
<circle cx="71.4" cy="280.7" r="1.8" fill="none" stroke="#1a5e16" stroke-width="0.8"/>
<circle cx="97.3" cy="240.7" r="1.8" fill="none" stroke="#1a5e16" stroke-width="0.8"/>
<circle cx="160.8" cy="296.5" r="1.8" fill="none" stroke="#1a5e16" stroke-width="0.8"/>
<circle cx="58.4" cy="279.1" r="1.8" fill="none" stroke="#1a5e16" stroke-width="0.8"/>
<circle cx="110.7" cy="321.1" r="1.8" fill="none" stroke="#1a5e16" stroke-width="0.8"/>
<circle cx="148.7" cy="239.1" r="1.8" fill="none" stroke="#1a5e16" stroke-width="0.8"/>
<circle cx="195.3" cy="215.3" r="1.8" fill="none" stroke="#1a5e16" stroke-width="0.8"/>
<circle cx="90.8" cy="304.6" r="1.8" fill="none" stroke="#1a5e16" stroke-width="0.8"/>
<circle cx="41.3" cy="267.2" r="1.8" fill="none" stroke="#1a5e16" stroke-width="0.8"/>
<circle cx="20.3" cy="292.2" r="1.8" fill="#f09a28" stroke="#1a5e16" stroke-width="0.8"/>
<circle cx="155.2" cy="278.9" r="1.8" fill="#20a890" stroke="#1a5e16" stroke-width="0.8"/>
<circle cx="175.8" cy="242.7" r="1.8" fill="none" stroke="#1a5e16" stroke-width="0.8"/>
<circle cx="142.3" cy="281.9" r="1.8" fill="none" stroke="#1a5e16" stroke-width="0.8"/>
<circle cx="120.9" cy="262.6" r="1.8" fill="none" stroke="#1a5e16" stroke-width="0.8"/>
<circle cx="169.2" cy="330.9" r="1.8" fill="none" stroke="#1a5e16" stroke-width="0.8"/>
<circle cx="101.2" cy="291.6" r="1.8" fill="none" stroke="#1a5e16" stroke-width="0.8"/>
<circle cx="24.3" cy="296.9" r="1.8" fill="none" stroke="#1a5e16" stroke-width="0.8"/>
<circle cx="133.4" cy="337.6" r="1.8" fill="none" stroke="#1a5e16" stroke-width="0.8"/>
<circle cx="165.9" cy="238.6" r="1.8" fill="none" stroke="#1a5e16" stroke-width="0.8"/>
<circle cx="84.8" cy="292.3" r="1.8" fill="none" stroke="#1a5e16" stroke-width="0.8"/>
<circle cx="17.2" cy="263.3" r="1.8" fill="none" stroke="#1a5e16" stroke-width="0.8"/>
<circle cx="44.3" cy="215.2" r="1.8" fill="none" stroke="#1a5e16" stroke-width="0.8"/>
<circle cx="24.0" cy="306.2" r="1.8" fill="none" stroke="#1a5e16" stroke-width="0.8"/>
<circle cx="37.1" cy="233.4" r="1.8" fill="none" stroke="#1a5e16" stroke-width="0.8"/>
<circle cx="85.7" cy="320.6" r="1.8" fill="none" stroke="#1a5e16" stroke-width="0.8"/>
<circle cx="28.0" cy="261.6" r="1.8" fill="none" stroke="#1a5e16" stroke-width="0.8"/>
<circle cx="115.2" cy="322.3" r="1.8" fill="#9ae040" stroke="#1a5e16" stroke-width="0.8"/>
<circle cx="165.4" cy="319.6" r="1.8" fill="#f09a28" stroke="#1a5e16" stroke-width="0.8"/>
<circle cx="64.8" cy="256.9" r="1.8" fill="none" stroke="#1a5e16" stroke-width="0.8"/>
<circle cx="79.7" cy="322.4" r="1.8" fill="none" stroke="#1a5e16" stroke-width="0.8"/>
<circle cx="191.1" cy="219.9" r="1.8" fill="none" stroke="#1a5e16" stroke-width="0.8"/>
<circle cx="45.8" cy="231.2" r="1.8" fill="none" stroke="#1a5e16" stroke-width="0.8"/>
<circle cx="56.4" cy="266.6" r="1.8" fill="none" stroke="#1a5e16" stroke-width="0.8"/>
<circle cx="122.6" cy="235.5" r="1.8" fill="none" stroke="#1a5e16" stroke-width="0.8"/>
<circle cx="13.8" cy="257.4" r="1.8" fill="#f09a28" stroke="#1a5e16" stroke-width="0.8"/>
<circle cx="81.7" cy="278.0" r="1.8" fill="none" stroke="#1a5e16" stroke-width="0.8"/>
<circle cx="190.3" cy="295.3" r="1.8" fill="none" stroke="#1a5e16" stroke-width="0.8"/>
<circle cx="108.9" cy="285.1" r="1.8" fill="none" stroke="#1a5e16" stroke-width="0.8"/>
<circle cx="138.8" cy="206.3" r="1.8" fill="none" stroke="#1a5e16" stroke-width="0.8"/>
<circle cx="180.3" cy="307.8" r="1.8" fill="#9ae040" stroke="#1a5e16" stroke-width="0.8"/>
<circle cx="175.7" cy="310.3" r="1.8" fill="none" stroke="#1a5e16" stroke-width="0.8"/>
<circle cx="86.0" cy="254.6" r="1.8" fill="none" stroke="#1a5e16" stroke-width="0.8"/>
<circle cx="32.3" cy="287.5" r="1.8" fill="none" stroke="#1a5e16" stroke-width="0.8"/>
<circle cx="24.6" cy="208.2" r="1.8" fill="none" stroke="#1a5e16" stroke-width="0.8"/>
<circle cx="51.8" cy="221.5" r="1.8" fill="none" stroke="#1a5e16" stroke-width="0.8"/>
<circle cx="76.2" cy="206.2" r="1.8" fill="none" stroke="#1a5e16" stroke-width="0.8"/>
<circle cx="13.0" cy="219.9" r="1.8" fill="none" stroke="#1a5e16" stroke-width="0.8"/>
<circle cx="31.9" cy="249.6" r="1.8" fill="none" stroke="#1a5e16" stroke-width="0.8"/>
<circle cx="17.7" cy="321.0" r="1.8" fill="none" stroke="#1a5e16" stroke-width="0.8"/>
<circle cx="127.2" cy="219.6" r="1.8" fill="none" stroke="#1a5e16" stroke-width="0.8"/>
<circle cx="59.9" cy="247.4" r="1.8" fill="none" stroke="#1a5e16" stroke-width="0.8"/>
<circle cx="80.7" cy="216.0" r="1.8" fill="none" stroke="#1a5e16" stroke-width="0.8"/>
<circle cx="170.9" cy="337.6" r="1.8" fill="none" stroke="#1a5e16" stroke-width="0.8"/>
<circle cx="99.7" cy="266.4" r="1.8" fill="none" stroke="#1a5e16" stroke-width="0.8"/>
<circle cx="29.0" cy="213.1" r="1.8" fill="none" stroke="#1a5e16" stroke-width="0.8"/>
<circle cx="76.7" cy="235.8" r="1.8" fill="none" stroke="#1a5e16" stroke-width="0.8"/>
<circle cx="167.2" cy="221.4" r="1.8" fill="none" stroke="#1a5e16" stroke-width="0.8"/>
<circle cx="17.3" cy="331.7" r="1.8" fill="none" stroke="#1a5e16" stroke-width="0.8"/>
<circle cx="111.3" cy="219.3" r="1.8" fill="none" stroke="#1a5e16" stroke-width="0.8"/>
<circle cx="114.0" cy="202.6" r="1.8" fill="none" stroke="#1a5e16" stroke-width="0.8"/>
<circle cx="111.2" cy="335.6" r="1.8" fill="none" stroke="#1a5e16" stroke-width="0.8"/>
<circle cx="173.6" cy="296.1" r="1.8" fill="none" stroke="#1a5e16" stroke-width="0.8"/>
<circle cx="61.6" cy="250.1" r="1.8" fill="none" stroke="#1a5e16" stroke-width="0.8"/>
<circle cx="44.1" cy="306.7" r="1.8" fill="none" stroke="#1a5e16" stroke-width="0.8"/>
<circle cx="112.1" cy="307.7" r="1.8" fill="none" stroke="#1a5e16" stroke-width="0.8"/>
<circle cx="74.3" cy="230.0" r="1.8" fill="none" stroke="#1a5e16" stroke-width="0.8"/>
<circle cx="163.9" cy="336.5" r="1.8" fill="#2a6a1a" stroke="#1a5e16" stroke-width="0.8"/>
<circle cx="171.6" cy="311.5" r="1.8" fill="none" stroke="#1a5e16" stroke-width="0.8"/>
<circle cx="165.2" cy="302.2" r="1.8" fill="none" stroke="#1a5e16" stroke-width="0.8"/>
<circle cx="55.2" cy="271.2" r="1.8" fill="#9ae040" stroke="#1a5e16" stroke-width="0.8"/>
<circle cx="79.1" cy="202.9" r="1.8" fill="none" stroke="#1a5e16" stroke-width="0.8"/>
<circle cx="18.2" cy="237.9" r="1.8" fill="none" stroke="#1a5e16" stroke-width="0.8"/>
<circle cx="61.2" cy="295.6" r="1.8" fill="none" stroke="#1a5e16" stroke-width="0.8"/>
<circle cx="190.9" cy="261.3" r="1.8" fill="#20a890" stroke="#1a5e16" stroke-width="0.8"/>
<circle cx="187.3" cy="336.9" r="1.8" fill="none" stroke="#1a5e16" stroke-width="0.8"/>
<circle cx="190.6" cy="249.8" r="1.8" fill="none" stroke="#1a5e16" stroke-width="0.8"/>
<circle cx="54.0" cy="230.5" r="1.8" fill="none" stroke="#1a5e16" stroke-width="0.8"/>
<circle cx="49.6" cy="227.4" r="1.8" fill="none" stroke="#1a5e16" stroke-width="0.8"/>
<circle cx="129.1" cy="324.7" r="1.8" fill="none" stroke="#1a5e16" stroke-width="0.8"/>
<circle cx="169.3" cy="265.8" r="1.8" fill="none" stroke="#1a5e16" stroke-width="0.8"/>
<circle cx="134.5" cy="310.6" r="1.8" fill="none" stroke="#1a5e16" stroke-width="0.8"/>
<circle cx="28.8" cy="291.1" r="1.8" fill="none" stroke="#1a5e16" stroke-width="0.8"/>
<circle cx="182.2" cy="308.2" r="1.8" fill="none" stroke="#1a5e16" stroke-width="0.8"/>
<circle cx="152.5" cy="265.6" r="1.8" fill="none" stroke="#1a5e16" stroke-width="0.8"/>
<circle cx="46.2" cy="309.1" r="1.8" fill="none" stroke="#1a5e16" stroke-width="0.8"/>
<circle cx="74.8" cy="310.8" r="1.8" fill="none" stroke="#1a5e16" stroke-width="0.8"/>
<circle cx="193.7" cy="254.1" r="1.8" fill="none" stroke="#1a5e16" stroke-width="0.8"/>
<circle cx="87.7" cy="331.2" r="1.8" fill="none" stroke="#1a5e16" stroke-width="0.8"/>
<circle cx="147.8" cy="222.6" r="1.8" fill="none" stroke="#1a5e16" stroke-width="0.8"/>
<circle cx="36.6" cy="219.9" r="1.8" fill="none" stroke="#1a5e16" stroke-width="0.8"/>
<circle cx="181.3" cy="311.5" r="1.8" fill="none" stroke="#1a5e16" stroke-width="0.8"/>
<circle cx="40.2" cy="314.3" r="1.8" fill="none" stroke="#1a5e16" stroke-width="0.8"/>
<circle cx="195.3" cy="290.7" r="1.8" fill="none" stroke="#1a5e16" stroke-width="0.8"/>
<circle cx="78.2" cy="275.5" r="1.8" fill="none" stroke="#1a5e16" stroke-width="0.8"/>
<circle cx="37.4" cy="200.8" r="1.8" fill="none" stroke="#1a5e16" stroke-width="0.8"/>
<circle cx="193.6" cy="289.6" r="1.8" fill="none" stroke="#1a5e16" stroke-width="0.8"/>
<circle cx="110.9" cy="329.3" r="1.8" fill="none" stroke="#1a5e16" stroke-width="0.8"/>
<circle cx="93.7" cy="320.7" r="1.8" fill="none" stroke="#1a5e16" stroke-width="0.8"/>
<circle cx="166.7" cy="228.3" r="1.8" fill="none" stroke="#1a5e16" stroke-width="0.8"/>
<circle cx="59.8" cy="239.8" r="1.8" fill="none" stroke="#1a5e16" stroke-width="0.8"/>
<circle cx="57.7" cy="280.8" r="1.8" fill="none" stroke="#1a5e16" stroke-width="0.8"/>
<circle cx="61.2" cy="257.4" r="1.8" fill="none" stroke="#1a5e16" stroke-width="0.8"/>
<circle cx="37.4" cy="326.0" r="1.8" fill="none" stroke="#1a5e16" stroke-width="0.8"/>
<circle cx="78.8" cy="262.9" r="1.8" fill="none" stroke="#1a5e16" stroke-width="0.8"/>
<circle cx="121.5" cy="325.2" r="1.8" fill="none" stroke="#1a5e16" stroke-width="0.8"/>
<circle cx="91.2" cy="327.1" r="1.8" fill="none" stroke="#1a5e16" stroke-width="0.8"/>
<circle cx="106.3" cy="273.1" r="1.8" fill="none" stroke="#1a5e16" stroke-width="0.8"/>
<circle cx="110.4" cy="201.4" r="1.8" fill="none" stroke="#1a5e16" stroke-width="0.8"/>
<circle cx="94.9" cy="224.4" r="1.8" fill="none" stroke="#1a5e16" stroke-width="0.8"/>
<circle cx="13.7" cy="310.5" r="1.8" fill="none" stroke="#1a5e16" stroke-width="0.8"/>
<circle cx="45.1" cy="265.0" r="1.8" fill="none" stroke="#1a5e16" stroke-width="0.8"/>
<circle cx="147.9" cy="276.6" r="1.8" fill="none" stroke="#1a5e16" stroke-width="0.8"/>
<circle cx="73.6" cy="271.3" r="1.8" fill="none" stroke="#1a5e16" stroke-width="0.8"/>
<circle cx="116.3" cy="308.4" r="1.8" fill="none" stroke="#1a5e16" stroke-width="0.8"/>
<circle cx="32.7" cy="277.1" r="1.8" fill="none" stroke="#1a5e16" stroke-width="0.8"/>
<circle cx="59.2" cy="237.5" r="1.8" fill="none" stroke="#1a5e16" stroke-width="0.8"/>
<circle cx="156.6" cy="269.8" r="1.8" fill="none" stroke="#1a5e16" stroke-width="0.8"/>
<circle cx="117.5" cy="305.0" r="1.8" fill="none" stroke="#1a5e16" stroke-width="0.8"/>
<circle cx="182.7" cy="260.8" r="1.8" fill="none" stroke="#1a5e16" stroke-width="0.8"/>
<circle cx="126.9" cy="269.5" r="1.8" fill="none" stroke="#1a5e16" stroke-width="0.8"/>
<circle cx="108.3" cy="295.6" r="1.8" fill="none" stroke="#1a5e16" stroke-width="0.8"/>
<circle cx="97.1" cy="273.4" r="1.8" fill="none" stroke="#1a5e16" stroke-width="0.8"/>
<circle cx="101.9" cy="330.4" r="1.8" fill="none" stroke="#1a5e16" stroke-width="0.8"/>
<circle cx="143.1" cy="321.3" r="1.8" fill="none" stroke="#1a5e16" stroke-width="0.8"/>
<circle cx="188.2" cy="235.1" r="1.8" fill="none" stroke="#1a5e16" stroke-width="0.8"/>
<circle cx="117.1" cy="330.7" r="1.8" fill="none" stroke="#1a5e16" stroke-width="0.8"/>
<circle cx="169.2" cy="218.0" r="1.8" fill="none" stroke="#1a5e16" stroke-width="0.8"/>
<circle cx="35.6" cy="260.6" r="1.8" fill="none" stroke="#1a5e16" stroke-width="0.8"/>
<circle cx="26.5" cy="232.4" r="1.8" fill="none" stroke="#1a5e16" stroke-width="0.8"/>
<circle cx="26.6" cy="292.4" r="1.8" fill="none" stroke="#1a5e16" stroke-width="0.8"/>
<circle cx="158.8" cy="324.2" r="1.8" fill="none" stroke="#1a5e16" stroke-width="0.8"/>
<circle cx="41.7" cy="298.9" r="1.8" fill="none" stroke="#1a5e16" stroke-width="0.8"/>
<circle cx="135.8" cy="218.8" r="1.8" fill="none" stroke="#1a5e16" stroke-width="0.8"/>
<circle cx="177.2" cy="334.1" r="1.8" fill="none" stroke="#1a5e16" stroke-width="0.8"/>
<circle cx="53.8" cy="332.0" r="1.8" fill="#f09a28" stroke="#1a5e16" stroke-width="0.8"/>
<circle cx="87.1" cy="266.9" r="1.8" fill="none" stroke="#1a5e16" stroke-width="0.8"/>
<circle cx="197.1" cy="315.2" r="1.8" fill="none" stroke="#1a5e16" stroke-width="0.8"/>
<circle cx="43.0" cy="259.1" r="1.8" fill="none" stroke="#1a5e16" stroke-width="0.8"/>
<circle cx="108.9" cy="246.2" r="1.8" fill="none" stroke="#1a5e16" stroke-width="0.8"/>
<circle cx="49.4" cy="243.3" r="1.8" fill="none" stroke="#1a5e16" stroke-width="0.8"/>
<circle cx="147.3" cy="201.5" r="1.8" fill="none" stroke="#1a5e16" stroke-width="0.8"/>
<circle cx="116.1" cy="260.4" r="1.8" fill="none" stroke="#1a5e16" stroke-width="0.8"/>
<circle cx="16.4" cy="245.1" r="1.8" fill="none" stroke="#1a5e16" stroke-width="0.8"/>
<circle cx="129.1" cy="270.4" r="1.8" fill="none" stroke="#1a5e16" stroke-width="0.8"/>
<circle cx="25.0" cy="336.5" r="1.8" fill="none" stroke="#1a5e16" stroke-width="0.8"/>
<circle cx="159.6" cy="334.6" r="1.8" fill="none" stroke="#1a5e16" stroke-width="0.8"/>
<circle cx="32.5" cy="235.9" r="1.8" fill="none" stroke="#1a5e16" stroke-width="0.8"/>
<circle cx="20.4" cy="307.7" r="1.8" fill="none" stroke="#1a5e16" stroke-width="0.8"/>
<circle cx="63.3" cy="216.9" r="1.8" fill="none" stroke="#1a5e16" stroke-width="0.8"/>
<circle cx="91.5" cy="326.2" r="1.8" fill="none" stroke="#1a5e16" stroke-width="0.8"/>
<circle cx="165.3" cy="235.0" r="1.8" fill="none" stroke="#1a5e16" stroke-width="0.8"/>
<circle cx="40.8" cy="327.3" r="1.8" fill="#f09a28" stroke="#1a5e16" stroke-width="0.8"/>
<circle cx="119.1" cy="296.7" r="1.8" fill="none" stroke="#1a5e16" stroke-width="0.8"/>
<circle cx="29.6" cy="206.8" r="1.8" fill="none" stroke="#1a5e16" stroke-width="0.8"/>
<circle cx="141.0" cy="258.3" r="1.8" fill="none" stroke="#1a5e16" stroke-width="0.8"/>
<circle cx="26.5" cy="330.0" r="1.8" fill="none" stroke="#1a5e16" stroke-width="0.8"/>
<circle cx="131.0" cy="310.9" r="1.8" fill="none" stroke="#1a5e16" stroke-width="0.8"/>
<circle cx="28.6" cy="318.5" r="1.8" fill="none" stroke="#1a5e16" stroke-width="0.8"/>
<circle cx="25.4" cy="319.4" r="1.8" fill="none" stroke="#1a5e16" stroke-width="0.8"/>
<circle cx="97.4" cy="246.2" r="1.8" fill="none" stroke="#1a5e16" stroke-width="0.8"/>
<circle cx="115.9" cy="328.3" r="1.8" fill="none" stroke="#1a5e16" stroke-width="0.8"/>
<circle cx="62.8" cy="216.9" r="1.8" fill="none" stroke="#1a5e16" stroke-width="0.8"/>
<circle cx="111.0" cy="232.1" r="1.8" fill="none" stroke="#1a5e16" stroke-width="0.8"/>
<circle cx="33.4" cy="221.4" r="1.8" fill="none" stroke="#1a5e16" stroke-width="0.8"/>
<circle cx="22.4" cy="227.0" r="1.8" fill="none" stroke="#1a5e16" stroke-width="0.8"/>
<circle cx="71.0" cy="241.4" r="1.8" fill="none" stroke="#1a5e16" stroke-width="0.8"/>
<circle cx="154.3" cy="239.3" r="1.8" fill="none" stroke="#1a5e16" stroke-width="0.8"/>
<circle cx="106.0" cy="223.7" r="1.8" fill="none" stroke="#1a5e16" stroke-width="0.8"/>
<circle cx="77.5" cy="201.3" r="1.8" fill="none" stroke="#1a5e16" stroke-width="0.8"/>
<circle cx="59.6" cy="200.9" r="1.8" fill="none" stroke="#1a5e16" stroke-width="0.8"/>
<circle cx="149.4" cy="275.8" r="1.8" fill="none" stroke="#1a5e16" stroke-width="0.8"/>
<circle cx="48.2" cy="265.2" r="1.8" fill="none" stroke="#1a5e16" stroke-width="0.8"/>
<circle cx="186.8" cy="213.7" r="1.8" fill="none" stroke="#1a5e16" stroke-width="0.8"/>
<circle cx="165.3" cy="259.2" r="1.8" fill="#20a890" stroke="#1a5e16" stroke-width="0.8"/>
<circle cx="105.1" cy="315.5" r="1.8" fill="none" stroke="#1a5e16" stroke-width="0.8"/>
<circle cx="86.1" cy="269.6" r="1.8" fill="none" stroke="#1a5e16" stroke-width="0.8"/>
<circle cx="140.9" cy="336.1" r="1.8" fill="none" stroke="#1a5e16" stroke-width="0.8"/>
<circle cx="76.7" cy="315.2" r="1.8" fill="none" stroke="#1a5e16" stroke-width="0.8"/>
<circle cx="144.5" cy="287.7" r="1.8" fill="none" stroke="#1a5e16" stroke-width="0.8"/>
<circle cx="88.3" cy="247.4" r="1.8" fill="none" stroke="#1a5e16" stroke-width="0.8"/>
<circle cx="23.1" cy="216.9" r="1.8" fill="none" stroke="#1a5e16" stroke-width="0.8"/>
<circle cx="26.2" cy="302.4" r="1.8" fill="none" stroke="#1a5e16" stroke-width="0.8"/>
<circle cx="60.5" cy="221.6" r="1.8" fill="none" stroke="#1a5e16" stroke-width="0.8"/>
<circle cx="28.7" cy="316.4" r="1.8" fill="none" stroke="#1a5e16" stroke-width="0.8"/>
<circle cx="174.9" cy="292.5" r="1.8" fill="none" stroke="#1a5e16" stroke-width="0.8"/>
<circle cx="65.4" cy="232.7" r="1.8" fill="none" stroke="#1a5e16" stroke-width="0.8"/>
<circle cx="67.5" cy="263.0" r="1.8" fill="none" stroke="#1a5e16" stroke-width="0.8"/>
<circle cx="42.3" cy="261.1" r="1.8" fill="none" stroke="#1a5e16" stroke-width="0.8"/>
<circle cx="62.0" cy="333.3" r="1.8" fill="#2a6a1a" stroke="#1a5e16" stroke-width="0.8"/>
<circle cx="193.9" cy="275.3" r="1.8" fill="#20a890" stroke="#1a5e16" stroke-width="0.8"/>
<circle cx="58.5" cy="333.8" r="1.8" fill="none" stroke="#1a5e16" stroke-width="0.8"/>
<circle cx="70.6" cy="248.7" r="1.8" fill="#f09a28" stroke="#1a5e16" stroke-width="0.8"/>
<circle cx="13.2" cy="252.2" r="1.8" fill="none" stroke="#1a5e16" stroke-width="0.8"/>
<circle cx="101.3" cy="269.1" r="1.8" fill="none" stroke="#1a5e16" stroke-width="0.8"/>
<circle cx="50.4" cy="269.4" r="1.8" fill="none" stroke="#1a5e16" stroke-width="0.8"/>
<circle cx="13.9" cy="235.7" r="1.8" fill="none" stroke="#1a5e16" stroke-width="0.8"/>
<circle cx="29.7" cy="254.7" r="1.8" fill="none" stroke="#1a5e16" stroke-width="0.8"/>
<circle cx="20.8" cy="201.9" r="1.8" fill="none" stroke="#1a5e16" stroke-width="0.8"/>
<circle cx="69.6" cy="231.3" r="1.8" fill="none" stroke="#1a5e16" stroke-width="0.8"/>
<circle cx="121.9" cy="272.8" r="1.8" fill="none" stroke="#1a5e16" stroke-width="0.8"/>
<circle cx="152.6" cy="290.7" r="1.8" fill="none" stroke="#1a5e16" stroke-width="0.8"/>
<circle cx="146.2" cy="321.7" r="1.8" fill="none" stroke="#1a5e16" stroke-width="0.8"/>
<circle cx="85.5" cy="244.4" r="1.8" fill="none" stroke="#1a5e16" stroke-width="0.8"/>
<circle cx="196.2" cy="219.7" r="1.8" fill="#9ae040" stroke="#1a5e16" stroke-width="0.8"/>
<circle cx="147.7" cy="288.7" r="1.8" fill="#f09a28" stroke="#1a5e16" stroke-width="0.8"/>
<circle cx="21.1" cy="315.6" r="1.8" fill="none" stroke="#1a5e16" stroke-width="0.8"/>
<circle cx="178.9" cy="286.5" r="1.8" fill="none" stroke="#1a5e16" stroke-width="0.8"/>
<circle cx="149.5" cy="312.3" r="1.8" fill="none" stroke="#1a5e16" stroke-width="0.8"/>
<circle cx="38.9" cy="272.0" r="1.8" fill="none" stroke="#1a5e16" stroke-width="0.8"/>
<circle cx="106.8" cy="315.5" r="1.8" fill="none" stroke="#1a5e16" stroke-width="0.8"/>
<circle cx="162.7" cy="314.3" r="1.8" fill="none" stroke="#1a5e16" stroke-width="0.8"/>
<circle cx="121.6" cy="323.6" r="1.8" fill="none" stroke="#1a5e16" stroke-width="0.8"/>
<circle cx="140.0" cy="295.7" r="1.8" fill="none" stroke="#1a5e16" stroke-width="0.8"/>
<circle cx="55.8" cy="203.2" r="1.8" fill="none" stroke="#1a5e16" stroke-width="0.8"/>
<circle cx="37.8" cy="249.2" r="1.8" fill="none" stroke="#1a5e16" stroke-width="0.8"/>
<circle cx="32.5" cy="315.6" r="1.8" fill="none" stroke="#1a5e16" stroke-width="0.8"/>
<circle cx="116.9" cy="286.6" r="1.8" fill="none" stroke="#1a5e16" stroke-width="0.8"/>
<circle cx="129.5" cy="294.0" r="1.8" fill="none" stroke="#1a5e16" stroke-width="0.8"/>
<circle cx="104.0" cy="199.3" r="1.8" fill="none" stroke="#1a5e16" stroke-width="0.8"/>
<circle cx="161.4" cy="303.4" r="1.8" fill="none" stroke="#1a5e16" stroke-width="0.8"/>
<circle cx="106.6" cy="273.6" r="1.8" fill="none" stroke="#1a5e16" stroke-width="0.8"/>
<circle cx="135.6" cy="208.0" r="1.8" fill="none" stroke="#1a5e16" stroke-width="0.8"/>
<circle cx="150.0" cy="234.1" r="1.8" fill="none" stroke="#1a5e16" stroke-width="0.8"/>
<circle cx="26.8" cy="235.9" r="1.8" fill="none" stroke="#1a5e16" stroke-width="0.8"/>
<circle cx="148.7" cy="227.5" r="1.8" fill="none" stroke="#1a5e16" stroke-width="0.8"/>
<circle cx="150.6" cy="335.2" r="1.8" fill="none" stroke="#1a5e16" stroke-width="0.8"/>
<circle cx="104.9" cy="252.3" r="1.8" fill="none" stroke="#1a5e16" stroke-width="0.8"/>
<circle cx="102.1" cy="294.4" r="1.8" fill="none" stroke="#1a5e16" stroke-width="0.8"/>
<circle cx="155.7" cy="285.1" r="1.8" fill="none" stroke="#1a5e16" stroke-width="0.8"/>
<circle cx="132.6" cy="209.6" r="1.8" fill="none" stroke="#1a5e16" stroke-width="0.8"/>
<circle cx="40.4" cy="234.3" r="1.8" fill="none" stroke="#1a5e16" stroke-width="0.8"/>
<circle cx="151.2" cy="241.4" r="1.8" fill="none" stroke="#1a5e16" stroke-width="0.8"/>
<circle cx="118.6" cy="200.5" r="1.8" fill="none" stroke="#1a5e16" stroke-width="0.8"/>
<circle cx="24.3" cy="236.4" r="1.8" fill="none" stroke="#1a5e16" stroke-width="0.8"/>
<circle cx="138.0" cy="295.6" r="1.8" fill="none" stroke="#1a5e16" stroke-width="0.8"/>
<circle cx="138.7" cy="239.5" r="1.8" fill="none" stroke="#1a5e16" stroke-width="0.8"/>
<circle cx="109.1" cy="263.8" r="1.8" fill="none" stroke="#1a5e16" stroke-width="0.8"/>
<circle cx="99.7" cy="215.4" r="1.8" fill="none" stroke="#1a5e16" stroke-width="0.8"/>
<circle cx="179.2" cy="226.7" r="1.8" fill="#9ae040" stroke="#1a5e16" stroke-width="0.8"/>
<circle cx="194.9" cy="329.7" r="1.8" fill="none" stroke="#1a5e16" stroke-width="0.8"/>
<circle cx="16.3" cy="263.0" r="1.8" fill="none" stroke="#1a5e16" stroke-width="0.8"/>
<circle cx="165.5" cy="334.1" r="1.8" fill="none" stroke="#1a5e16" stroke-width="0.8"/>
<circle cx="96.6" cy="236.4" r="1.8" fill="none" stroke="#1a5e16" stroke-width="0.8"/>
<circle cx="52.0" cy="331.0" r="1.8" fill="none" stroke="#1a5e16" stroke-width="0.8"/>
<circle cx="52.2" cy="280.1" r="1.8" fill="none" stroke="#1a5e16" stroke-width="0.8"/>
<circle cx="39.4" cy="272.1" r="1.8" fill="none" stroke="#1a5e16" stroke-width="0.8"/>
<circle cx="190.2" cy="217.3" r="1.8" fill="none" stroke="#1a5e16" stroke-width="0.8"/>
<circle cx="165.6" cy="269.9" r="1.8" fill="#20a890" stroke="#1a5e16" stroke-width="0.8"/>
<circle cx="178.0" cy="297.1" r="1.8" fill="none" stroke="#1a5e16" stroke-width="0.8"/>
<circle cx="56.0" cy="324.3" r="1.8" fill="none" stroke="#1a5e16" stroke-width="0.8"/>
<circle cx="103.4" cy="202.3" r="1.8" fill="none" stroke="#1a5e16" stroke-width="0.8"/>
<circle cx="13.7" cy="267.5" r="1.8" fill="none" stroke="#1a5e16" stroke-width="0.8"/>
<circle cx="96.8" cy="241.0" r="1.8" fill="none" stroke="#1a5e16" stroke-width="0.8"/>
<circle cx="39.2" cy="246.9" r="1.8" fill="none" stroke="#1a5e16" stroke-width="0.8"/>
<circle cx="71.8" cy="316.3" r="1.8" fill="none" stroke="#1a5e16" stroke-width="0.8"/>
<circle cx="13.3" cy="303.8" r="1.8" fill="none" stroke="#1a5e16" stroke-width="0.8"/>
<circle cx="169.1" cy="215.6" r="1.8" fill="none" stroke="#1a5e16" stroke-width="0.8"/>
<circle cx="185.3" cy="298.5" r="1.8" fill="none" stroke="#1a5e16" stroke-width="0.8"/>
<circle cx="180.7" cy="239.3" r="1.8" fill="none" stroke="#1a5e16" stroke-width="0.8"/>
<circle cx="82.2" cy="253.7" r="1.8" fill="none" stroke="#1a5e16" stroke-width="0.8"/>
<circle cx="198.8" cy="281.2" r="1.8" fill="none" stroke="#1a5e16" stroke-width="0.8"/>
<circle cx="80.1" cy="258.6" r="1.8" fill="none" stroke="#1a5e16" stroke-width="0.8"/>
<circle cx="64.2" cy="205.5" r="1.8" fill="none" stroke="#1a5e16" stroke-width="0.8"/>
<circle cx="31.9" cy="315.5" r="1.8" fill="#9ae040" stroke="#1a5e16" stroke-width="0.8"/>
<circle cx="66.1" cy="329.6" r="1.8" fill="none" stroke="#1a5e16" stroke-width="0.8"/>
<circle cx="59.4" cy="235.9" r="1.8" fill="none" stroke="#1a5e16" stroke-width="0.8"/>
<circle cx="108.0" cy="225.3" r="1.8" fill="none" stroke="#1a5e16" stroke-width="0.8"/>
<circle cx="82.4" cy="332.5" r="1.8" fill="none" stroke="#1a5e16" stroke-width="0.8"/>
<circle cx="177.5" cy="312.3" r="1.8" fill="none" stroke="#1a5e16" stroke-width="0.8"/>
<circle cx="130.3" cy="326.5" r="1.8" fill="none" stroke="#1a5e16" stroke-width="0.8"/>
<circle cx="188.0" cy="275.6" r="1.8" fill="#20a890" stroke="#1a5e16" stroke-width="0.8"/>
<circle cx="146.8" cy="205.7" r="1.8" fill="none" stroke="#1a5e16" stroke-width="0.8"/>
<circle cx="149.2" cy="261.8" r="1.8" fill="none" stroke="#1a5e16" stroke-width="0.8"/>
<circle cx="153.0" cy="288.9" r="1.8" fill="#f09a28" stroke="#1a5e16" stroke-width="0.8"/>
<circle cx="66.2" cy="205.6" r="1.8" fill="none" stroke="#1a5e16" stroke-width="0.8"/>
<circle cx="185.4" cy="216.6" r="1.8" fill="none" stroke="#1a5e16" stroke-width="0.8"/>
<circle cx="100.8" cy="246.8" r="1.8" fill="none" stroke="#1a5e16" stroke-width="0.8"/>
<circle cx="68.4" cy="302.1" r="1.8" fill="none" stroke="#1a5e16" stroke-width="0.8"/>
<circle cx="194.6" cy="235.2" r="1.8" fill="none" stroke="#1a5e16" stroke-width="0.8"/>
<circle cx="135.0" cy="240.9" r="1.8" fill="none" stroke="#1a5e16" stroke-width="0.8"/>
<circle cx="116.7" cy="253.9" r="1.8" fill="#9ae040" stroke="#1a5e16" stroke-width="0.8"/>
<circle cx="44.1" cy="221.4" r="1.8" fill="none" stroke="#1a5e16" stroke-width="0.8"/>
<circle cx="51.7" cy="325.5" r="1.8" fill="none" stroke="#1a5e16" stroke-width="0.8"/>
<circle cx="105.5" cy="229.6" r="1.8" fill="none" stroke="#1a5e16" stroke-width="0.8"/>
<circle cx="181.6" cy="338.1" r="1.8" fill="none" stroke="#1a5e16" stroke-width="0.8"/>
<circle cx="96.7" cy="218.3" r="1.8" fill="#f09a28" stroke="#1a5e16" stroke-width="0.8"/>
<circle cx="48.8" cy="211.5" r="1.8" fill="none" stroke="#1a5e16" stroke-width="0.8"/>
<circle cx="76.6" cy="211.5" r="1.8" fill="none" stroke="#1a5e16" stroke-width="0.8"/>
<circle cx="57.5" cy="234.9" r="1.8" fill="none" stroke="#1a5e16" stroke-width="0.8"/>
<circle cx="118.9" cy="322.8" r="1.8" fill="none" stroke="#1a5e16" stroke-width="0.8"/>
<circle cx="152.4" cy="256.5" r="1.8" fill="none" stroke="#1a5e16" stroke-width="0.8"/>
<circle cx="90.0" cy="272.1" r="1.8" fill="none" stroke="#1a5e16" stroke-width="0.8"/>
<circle cx="83.1" cy="246.1" r="1.8" fill="none" stroke="#1a5e16" stroke-width="0.8"/>
<circle cx="24.5" cy="237.6" r="1.8" fill="none" stroke="#1a5e16" stroke-width="0.8"/>
<circle cx="193.0" cy="216.4" r="1.8" fill="none" stroke="#1a5e16" stroke-width="0.8"/>
<circle cx="106.6" cy="286.8" r="1.8" fill="none" stroke="#1a5e16" stroke-width="0.8"/>
<circle cx="173.5" cy="229.0" r="1.8" fill="none" stroke="#1a5e16" stroke-width="0.8"/>
<circle cx="63.4" cy="233.5" r="1.8" fill="none" stroke="#1a5e16" stroke-width="0.8"/>
<circle cx="87.4" cy="261.1" r="1.8" fill="none" stroke="#1a5e16" stroke-width="0.8"/>
<circle cx="190.4" cy="317.4" r="1.8" fill="none" stroke="#1a5e16" stroke-width="0.8"/>
<circle cx="175.4" cy="201.8" r="1.8" fill="#9ae040" stroke="#1a5e16" stroke-width="0.8"/>
<circle cx="19.0" cy="298.0" r="1.8" fill="none" stroke="#1a5e16" stroke-width="0.8"/>
<circle cx="179.6" cy="265.0" r="1.8" fill="none" stroke="#1a5e16" stroke-width="0.8"/>
<circle cx="122.2" cy="198.8" r="1.8" fill="none" stroke="#1a5e16" stroke-width="0.8"/>
<circle cx="85.8" cy="328.4" r="1.8" fill="none" stroke="#1a5e16" stroke-width="0.8"/>
<circle cx="166.6" cy="318.4" r="1.8" fill="none" stroke="#1a5e16" stroke-width="0.8"/>
<circle cx="193.8" cy="233.5" r="1.8" fill="none" stroke="#1a5e16" stroke-width="0.8"/>
<circle cx="33.3" cy="220.4" r="1.8" fill="none" stroke="#1a5e16" stroke-width="0.8"/>
<circle cx="110.2" cy="294.2" r="1.8" fill="none" stroke="#1a5e16" stroke-width="0.8"/>
<circle cx="188.1" cy="299.7" r="1.8" fill="#f09a28" stroke="#1a5e16" stroke-width="0.8"/>
<circle cx="133.4" cy="305.7" r="1.8" fill="none" stroke="#1a5e16" stroke-width="0.8"/>
<line x1="59.6" y1="198.8" x2="59.6" y2="338.6" stroke="#1a1a1a" stroke-width="0.8"/>
<line x1="105.7" y1="198.8" x2="105.7" y2="338.6" stroke="#1a1a1a" stroke-width="0.8"/>
<line x1="151.8" y1="198.8" x2="151.8" y2="338.6" stroke="#1a1a1a" stroke-width="0.8"/>
<line x1="13" y1="246.0" x2="199" y2="246.0" stroke="#1a1a1a" stroke-width="0.8"/>
<line x1="13" y1="292.4" x2="199" y2="292.4" stroke="#1a1a1a" stroke-width="0.8"/>
<rect x="13" y="198.8" width="186" height="139.8" fill="none" stroke="#1a1a1a" stroke-width="0.9"/>
<rect x="13.50" y="388.50" width="185.50" height="139.50" fill="#18c61a"/>
<path d="M23.5 393.1h4.63v4.63h-4.63zM23.5 397.8h4.63v4.63h-4.63zM32.8 407.0h4.63v4.63h-4.63zM37.4 388.5h4.63v4.63h-4.63zM37.4 397.8h4.63v4.63h-4.63zM42.0 388.5h4.63v4.63h-4.63zM42.0 397.8h4.63v4.63h-4.63zM46.6 388.5h4.63v4.63h-4.63zM46.6 402.4h4.63v4.63h-4.63zM51.3 388.5h4.63v4.63h-4.63zM51.3 407.0h4.63v4.63h-4.63zM55.9 402.4h4.63v4.63h-4.63zM60.5 397.8h4.63v4.63h-4.63zM65.2 402.4h4.63v4.63h-4.63zM65.2 407.0h4.63v4.63h-4.63zM74.4 402.4h4.63v4.63h-4.63zM74.4 407.0h4.63v4.63h-4.63zM79.1 388.5h4.63v4.63h-4.63zM79.1 407.0h4.63v4.63h-4.63zM83.7 393.1h4.63v4.63h-4.63zM88.3 407.0h4.63v4.63h-4.63zM97.6 393.1h4.63v4.63h-4.63zM97.6 397.8h4.63v4.63h-4.63zM97.6 407.0h4.63v4.63h-4.63z" fill="#46661f"/>
<path d="M106.5 398.1h4.63v4.63h-4.63zM111.1 398.1h4.63v4.63h-4.63zM111.1 407.4h4.63v4.63h-4.63zM115.8 393.5h4.63v4.63h-4.63zM120.4 398.1h4.63v4.63h-4.63zM125.0 402.8h4.63v4.63h-4.63zM125.0 407.4h4.63v4.63h-4.63zM134.3 416.6h4.63v4.63h-4.63zM138.9 402.8h4.63v4.63h-4.63zM138.9 412.0h4.63v4.63h-4.63zM157.4 398.1h4.63v4.63h-4.63zM171.3 412.0h4.63v4.63h-4.63zM171.3 416.6h4.63v4.63h-4.63zM175.9 393.5h4.63v4.63h-4.63zM175.9 412.0h4.63v4.63h-4.63zM180.6 412.0h4.63v4.63h-4.63zM185.2 412.0h4.63v4.63h-4.63z" fill="#46661f"/>
<path d="M13.5 388.5h4.63v4.63h-4.63zM18.1 402.4h4.63v4.63h-4.63zM78.3 402.4h4.63v4.63h-4.63zM78.3 407.0h4.63v4.63h-4.63zM120.0 397.8h4.63v4.63h-4.63zM129.2 407.0h4.63v4.63h-4.63zM138.5 388.5h4.63v4.63h-4.63zM170.9 402.4h4.63v4.63h-4.63z" fill="#1aa595"/>
<polygon points="13.5,398.5 26.5,398.5 26.5,405.5 13.5,405.5" fill="#8fef1c"/>
<polygon points="119.5,388.5 153.5,388.5 176.5,393.5 199.5,398.5 199.5,408.5 176.5,404.5 153.5,401.5 130.5,402.5 130.5,396.5 119.5,396.5" fill="#8fef1c"/>
<polygon points="70.5,411.5 106.5,417.5 153.5,419.5 153.5,435.0 106.5,434.5 88.5,424.5" fill="#8fef1c"/>
<path d="M111.1 428.8h4.63v4.63h-4.63zM115.8 424.1h4.63v4.63h-4.63zM143.5 428.8h4.63v4.63h-4.63z" fill="#18c61a"/>
<polygon points="153.5,424.5 199.5,426.5 199.5,435.1 153.5,435.1" fill="#8fef1c"/>
<polygon points="153.5,388.5 165.5,388.5 165.5,407.5 153.5,402.5" fill="#8fef1c"/>
<polygon points="113.5,435.5 133.5,435.5 133.5,441.5 113.5,441.5" fill="#8fef1c"/>
<polygon points="153.5,435.1 199.5,435.1 199.5,447.5 153.5,442.5" fill="#8fef1c"/>
<polygon points="127.5,442.5 153.5,442.5 199.5,447.5 199.5,469.5 153.5,467.5 141.5,466.5 127.5,460.5" fill="#1aa595"/>
<path d="M128.1 447.8h4.63v4.63h-4.63zM128.1 452.4h4.63v4.63h-4.63zM132.8 443.1h4.63v4.63h-4.63zM137.4 438.5h4.63v4.63h-4.63zM137.4 461.6h4.63v4.63h-4.63zM142.0 447.8h4.63v4.63h-4.63zM146.7 443.1h4.63v4.63h-4.63zM146.7 452.4h4.63v4.63h-4.63zM151.3 457.0h4.63v4.63h-4.63zM155.9 452.4h4.63v4.63h-4.63zM155.9 461.6h4.63v4.63h-4.63zM165.2 443.1h4.63v4.63h-4.63zM165.2 447.8h4.63v4.63h-4.63zM165.2 461.6h4.63v4.63h-4.63zM169.8 461.6h4.63v4.63h-4.63zM174.4 443.1h4.63v4.63h-4.63zM174.4 457.0h4.63v4.63h-4.63zM179.1 443.1h4.63v4.63h-4.63zM183.7 461.6h4.63v4.63h-4.63zM188.3 438.5h4.63v4.63h-4.63zM188.3 443.1h4.63v4.63h-4.63zM192.9 452.4h4.63v4.63h-4.63z" fill="#46661f"/>
<path d="M123.5 461.6h4.63v4.63h-4.63zM128.1 457.0h4.63v4.63h-4.63zM151.3 452.4h4.63v4.63h-4.63zM155.9 447.8h4.63v4.63h-4.63zM165.2 447.8h4.63v4.63h-4.63zM169.8 457.0h4.63v4.63h-4.63zM183.7 443.1h4.63v4.63h-4.63z" fill="#18c61a"/>
<polygon points="141.5,466.5 153.5,467.5 199.5,469.5 199.5,481.3 141.5,481.3" fill="#8fef1c"/>
<polygon points="13.5,482.0 33.5,483.5 60.5,493.5 83.5,498.5 106.5,506.5 128.5,514.5 143.5,528.0 73.5,528.0 60.5,515.5 33.5,503.5 13.5,499.5" fill="#8fef1c"/>
<path d="M13.5 486.1h4.63v4.63h-4.63zM13.5 504.6h4.63v4.63h-4.63zM13.5 513.9h4.63v4.63h-4.63zM18.1 481.5h4.63v4.63h-4.63zM18.1 504.6h4.63v4.63h-4.63zM18.1 513.9h4.63v4.63h-4.63zM18.1 518.5h4.63v4.63h-4.63zM22.8 481.5h4.63v4.63h-4.63zM22.8 486.1h4.63v4.63h-4.63zM27.4 490.8h4.63v4.63h-4.63zM27.4 500.0h4.63v4.63h-4.63zM32.0 495.4h4.63v4.63h-4.63zM32.0 500.0h4.63v4.63h-4.63zM32.0 504.6h4.63v4.63h-4.63zM36.6 500.0h4.63v4.63h-4.63zM41.3 486.1h4.63v4.63h-4.63zM41.3 509.3h4.63v4.63h-4.63zM41.3 513.9h4.63v4.63h-4.63zM50.5 486.1h4.63v4.63h-4.63zM50.5 490.8h4.63v4.63h-4.63zM50.5 495.4h4.63v4.63h-4.63zM50.5 500.0h4.63v4.63h-4.63zM50.5 513.9h4.63v4.63h-4.63zM55.2 490.8h4.63v4.63h-4.63z" fill="#46661f"/>
<path d="M13.5 509.3h4.63v4.63h-4.63zM13.5 518.5h4.63v4.63h-4.63zM13.5 523.2h4.63v4.63h-4.63zM22.8 486.1h4.63v4.63h-4.63zM27.4 481.5h4.63v4.63h-4.63zM36.6 486.1h4.63v4.63h-4.63zM41.3 518.5h4.63v4.63h-4.63zM45.9 504.6h4.63v4.63h-4.63zM50.5 500.0h4.63v4.63h-4.63zM55.2 518.5h4.63v4.63h-4.63z" fill="#8fef1c"/>
<path d="M18.1 513.5h4.63v4.63h-4.63zM22.8 513.5h4.63v4.63h-4.63zM27.4 513.5h4.63v4.63h-4.63zM27.4 518.1h4.63v4.63h-4.63zM32.0 522.8h4.63v4.63h-4.63zM55.2 513.5h4.63v4.63h-4.63zM59.8 518.1h4.63v4.63h-4.63z" fill="#46661f"/>
<polygon points="154.5,481.5 199.5,481.5 199.5,506.5 178.5,498.5" fill="#8fef1c"/>
<polygon points="181.5,506.5 199.5,506.5 199.5,511.5 181.5,511.5" fill="#1aa595"/>
<path d="M154.5 498.5h4.63v4.63h-4.63zM154.5 521.6h4.63v4.63h-4.63zM159.1 498.5h4.63v4.63h-4.63zM177.7 498.5h4.63v4.63h-4.63zM191.5 512.4h4.63v4.63h-4.63zM196.2 512.4h4.63v4.63h-4.63z" fill="#46661f"/>
<circle cx="73.6" cy="409.5" r="1.8" fill="none" stroke="#1a5e16" stroke-width="0.8"/>
<circle cx="134.2" cy="398.6" r="1.8" fill="none" stroke="#1a5e16" stroke-width="0.8"/>
<circle cx="112.9" cy="439.5" r="1.8" fill="none" stroke="#1a5e16" stroke-width="0.8"/>
<circle cx="24.3" cy="459.3" r="1.8" fill="none" stroke="#1a5e16" stroke-width="0.8"/>
<circle cx="20.5" cy="449.0" r="1.8" fill="none" stroke="#1a5e16" stroke-width="0.8"/>
<circle cx="26.5" cy="401.2" r="1.8" fill="none" stroke="#1a5e16" stroke-width="0.8"/>
<circle cx="92.2" cy="503.8" r="1.8" fill="none" stroke="#1a5e16" stroke-width="0.8"/>
<circle cx="36.5" cy="419.6" r="1.8" fill="none" stroke="#1a5e16" stroke-width="0.8"/>
<circle cx="129.9" cy="520.7" r="1.8" fill="none" stroke="#1a5e16" stroke-width="0.8"/>
<circle cx="120.6" cy="443.8" r="1.8" fill="none" stroke="#1a5e16" stroke-width="0.8"/>
<circle cx="194.6" cy="395.0" r="1.8" fill="none" stroke="#1a5e16" stroke-width="0.8"/>
<circle cx="172.7" cy="428.9" r="1.8" fill="none" stroke="#1a5e16" stroke-width="0.8"/>
<circle cx="40.3" cy="404.9" r="1.8" fill="none" stroke="#1a5e16" stroke-width="0.8"/>
<circle cx="70.7" cy="502.3" r="1.8" fill="none" stroke="#1a5e16" stroke-width="0.8"/>
<circle cx="47.0" cy="469.6" r="1.8" fill="none" stroke="#1a5e16" stroke-width="0.8"/>
<circle cx="132.0" cy="440.4" r="1.8" fill="none" stroke="#1a5e16" stroke-width="0.8"/>
<circle cx="115.1" cy="397.3" r="1.8" fill="none" stroke="#1a5e16" stroke-width="0.8"/>
<circle cx="24.6" cy="417.2" r="1.8" fill="none" stroke="#1a5e16" stroke-width="0.8"/>
<circle cx="139.7" cy="448.1" r="1.8" fill="none" stroke="#1a5e16" stroke-width="0.8"/>
<circle cx="71.8" cy="470.2" r="1.8" fill="none" stroke="#1a5e16" stroke-width="0.8"/>
<circle cx="97.6" cy="430.3" r="1.8" fill="none" stroke="#1a5e16" stroke-width="0.8"/>
<circle cx="160.9" cy="486.0" r="1.8" fill="none" stroke="#1a5e16" stroke-width="0.8"/>
<circle cx="58.8" cy="468.6" r="1.8" fill="none" stroke="#1a5e16" stroke-width="0.8"/>
<circle cx="110.9" cy="510.6" r="1.8" fill="none" stroke="#1a5e16" stroke-width="0.8"/>
<circle cx="148.8" cy="428.7" r="1.8" fill="none" stroke="#1a5e16" stroke-width="0.8"/>
<circle cx="195.3" cy="405.0" r="1.8" fill="none" stroke="#1a5e16" stroke-width="0.8"/>
<circle cx="91.1" cy="494.1" r="1.8" fill="none" stroke="#1a5e16" stroke-width="0.8"/>
<circle cx="41.7" cy="456.7" r="1.8" fill="none" stroke="#1a5e16" stroke-width="0.8"/>
<circle cx="20.8" cy="481.7" r="1.8" fill="#f09a28" stroke="#1a5e16" stroke-width="0.8"/>
<circle cx="155.3" cy="468.4" r="1.8" fill="#20a890" stroke="#1a5e16" stroke-width="0.8"/>
<circle cx="175.9" cy="432.3" r="1.8" fill="none" stroke="#1a5e16" stroke-width="0.8"/>
<circle cx="142.5" cy="471.4" r="1.8" fill="none" stroke="#1a5e16" stroke-width="0.8"/>
<circle cx="121.1" cy="452.1" r="1.8" fill="none" stroke="#1a5e16" stroke-width="0.8"/>
<circle cx="169.3" cy="520.3" r="1.8" fill="none" stroke="#1a5e16" stroke-width="0.8"/>
<circle cx="101.4" cy="481.1" r="1.8" fill="none" stroke="#1a5e16" stroke-width="0.8"/>
<circle cx="24.8" cy="486.4" r="1.8" fill="none" stroke="#1a5e16" stroke-width="0.8"/>
<circle cx="133.5" cy="527.0" r="1.8" fill="none" stroke="#1a5e16" stroke-width="0.8"/>
<circle cx="166.0" cy="428.2" r="1.8" fill="none" stroke="#1a5e16" stroke-width="0.8"/>
<circle cx="85.1" cy="481.8" r="1.8" fill="none" stroke="#1a5e16" stroke-width="0.8"/>
<circle cx="17.7" cy="452.9" r="1.8" fill="none" stroke="#1a5e16" stroke-width="0.8"/>
<circle cx="44.7" cy="404.8" r="1.8" fill="none" stroke="#1a5e16" stroke-width="0.8"/>
<circle cx="24.4" cy="495.7" r="1.8" fill="none" stroke="#1a5e16" stroke-width="0.8"/>
<circle cx="37.5" cy="423.0" r="1.8" fill="none" stroke="#1a5e16" stroke-width="0.8"/>
<circle cx="86.0" cy="510.1" r="1.8" fill="none" stroke="#1a5e16" stroke-width="0.8"/>
<circle cx="28.4" cy="451.2" r="1.8" fill="none" stroke="#1a5e16" stroke-width="0.8"/>
<circle cx="115.4" cy="511.7" r="1.8" fill="#9ae040" stroke="#1a5e16" stroke-width="0.8"/>
<circle cx="165.5" cy="509.0" r="1.8" fill="#f09a28" stroke="#1a5e16" stroke-width="0.8"/>
<circle cx="65.1" cy="446.4" r="1.8" fill="none" stroke="#1a5e16" stroke-width="0.8"/>
<circle cx="80.1" cy="511.8" r="1.8" fill="none" stroke="#1a5e16" stroke-width="0.8"/>
<circle cx="191.2" cy="409.6" r="1.8" fill="none" stroke="#1a5e16" stroke-width="0.8"/>
<circle cx="46.2" cy="420.9" r="1.8" fill="none" stroke="#1a5e16" stroke-width="0.8"/>
<circle cx="56.8" cy="456.2" r="1.8" fill="none" stroke="#1a5e16" stroke-width="0.8"/>
<circle cx="122.8" cy="425.2" r="1.8" fill="none" stroke="#1a5e16" stroke-width="0.8"/>
<circle cx="14.3" cy="446.9" r="1.8" fill="#f09a28" stroke="#1a5e16" stroke-width="0.8"/>
<circle cx="82.0" cy="467.5" r="1.8" fill="none" stroke="#1a5e16" stroke-width="0.8"/>
<circle cx="190.3" cy="484.8" r="1.8" fill="none" stroke="#1a5e16" stroke-width="0.8"/>
<circle cx="109.1" cy="474.7" r="1.8" fill="none" stroke="#1a5e16" stroke-width="0.8"/>
<circle cx="138.9" cy="396.0" r="1.8" fill="none" stroke="#1a5e16" stroke-width="0.8"/>
<circle cx="180.4" cy="497.3" r="1.8" fill="#9ae040" stroke="#1a5e16" stroke-width="0.8"/>
<circle cx="175.7" cy="499.8" r="1.8" fill="none" stroke="#1a5e16" stroke-width="0.8"/>
<circle cx="86.3" cy="444.2" r="1.8" fill="none" stroke="#1a5e16" stroke-width="0.8"/>
<circle cx="32.7" cy="477.0" r="1.8" fill="none" stroke="#1a5e16" stroke-width="0.8"/>
<circle cx="25.0" cy="397.9" r="1.8" fill="none" stroke="#1a5e16" stroke-width="0.8"/>
<circle cx="52.2" cy="411.1" r="1.8" fill="none" stroke="#1a5e16" stroke-width="0.8"/>
<circle cx="76.6" cy="395.8" r="1.8" fill="none" stroke="#1a5e16" stroke-width="0.8"/>
<circle cx="13.5" cy="409.6" r="1.8" fill="none" stroke="#1a5e16" stroke-width="0.8"/>
<circle cx="32.3" cy="439.2" r="1.8" fill="none" stroke="#1a5e16" stroke-width="0.8"/>
<circle cx="18.2" cy="510.5" r="1.8" fill="none" stroke="#1a5e16" stroke-width="0.8"/>
<circle cx="127.4" cy="409.2" r="1.8" fill="none" stroke="#1a5e16" stroke-width="0.8"/>
<circle cx="60.3" cy="437.0" r="1.8" fill="none" stroke="#1a5e16" stroke-width="0.8"/>
<circle cx="81.1" cy="405.6" r="1.8" fill="none" stroke="#1a5e16" stroke-width="0.8"/>
<circle cx="171.0" cy="527.0" r="1.8" fill="none" stroke="#1a5e16" stroke-width="0.8"/>
<circle cx="99.9" cy="456.0" r="1.8" fill="none" stroke="#1a5e16" stroke-width="0.8"/>
<circle cx="29.4" cy="402.8" r="1.8" fill="none" stroke="#1a5e16" stroke-width="0.8"/>
<circle cx="77.1" cy="425.4" r="1.8" fill="none" stroke="#1a5e16" stroke-width="0.8"/>
<circle cx="167.3" cy="411.0" r="1.8" fill="none" stroke="#1a5e16" stroke-width="0.8"/>
<circle cx="17.8" cy="521.2" r="1.8" fill="none" stroke="#1a5e16" stroke-width="0.8"/>
<circle cx="111.5" cy="409.0" r="1.8" fill="none" stroke="#1a5e16" stroke-width="0.8"/>
<circle cx="114.3" cy="392.3" r="1.8" fill="none" stroke="#1a5e16" stroke-width="0.8"/>
<circle cx="111.5" cy="525.0" r="1.8" fill="none" stroke="#1a5e16" stroke-width="0.8"/>
<circle cx="173.6" cy="485.6" r="1.8" fill="none" stroke="#1a5e16" stroke-width="0.8"/>
<circle cx="61.9" cy="439.7" r="1.8" fill="none" stroke="#1a5e16" stroke-width="0.8"/>
<circle cx="44.5" cy="496.2" r="1.8" fill="none" stroke="#1a5e16" stroke-width="0.8"/>
<circle cx="112.3" cy="497.2" r="1.8" fill="none" stroke="#1a5e16" stroke-width="0.8"/>
<circle cx="74.7" cy="419.6" r="1.8" fill="none" stroke="#1a5e16" stroke-width="0.8"/>
<circle cx="164.0" cy="525.9" r="1.8" fill="#2a6a1a" stroke="#1a5e16" stroke-width="0.8"/>
<circle cx="171.7" cy="500.9" r="1.8" fill="none" stroke="#1a5e16" stroke-width="0.8"/>
<circle cx="165.3" cy="491.7" r="1.8" fill="none" stroke="#1a5e16" stroke-width="0.8"/>
<circle cx="55.6" cy="460.7" r="1.8" fill="#9ae040" stroke="#1a5e16" stroke-width="0.8"/>
<circle cx="79.5" cy="392.5" r="1.8" fill="none" stroke="#1a5e16" stroke-width="0.8"/>
<circle cx="18.7" cy="427.5" r="1.8" fill="none" stroke="#1a5e16" stroke-width="0.8"/>
<circle cx="61.6" cy="485.1" r="1.8" fill="none" stroke="#1a5e16" stroke-width="0.8"/>
<circle cx="190.9" cy="450.9" r="1.8" fill="#20a890" stroke="#1a5e16" stroke-width="0.8"/>
<circle cx="187.3" cy="526.3" r="1.8" fill="none" stroke="#1a5e16" stroke-width="0.8"/>
<circle cx="190.7" cy="439.4" r="1.8" fill="none" stroke="#1a5e16" stroke-width="0.8"/>
<circle cx="54.4" cy="420.1" r="1.8" fill="none" stroke="#1a5e16" stroke-width="0.8"/>
<circle cx="50.0" cy="417.0" r="1.8" fill="none" stroke="#1a5e16" stroke-width="0.8"/>
<circle cx="129.3" cy="514.1" r="1.8" fill="none" stroke="#1a5e16" stroke-width="0.8"/>
<circle cx="169.4" cy="455.4" r="1.8" fill="none" stroke="#1a5e16" stroke-width="0.8"/>
<circle cx="134.6" cy="500.1" r="1.8" fill="none" stroke="#1a5e16" stroke-width="0.8"/>
<circle cx="29.2" cy="480.7" r="1.8" fill="none" stroke="#1a5e16" stroke-width="0.8"/>
<circle cx="182.3" cy="497.6" r="1.8" fill="none" stroke="#1a5e16" stroke-width="0.8"/>
<circle cx="152.7" cy="455.2" r="1.8" fill="none" stroke="#1a5e16" stroke-width="0.8"/>
<circle cx="46.6" cy="498.6" r="1.8" fill="none" stroke="#1a5e16" stroke-width="0.8"/>
<circle cx="75.2" cy="500.2" r="1.8" fill="none" stroke="#1a5e16" stroke-width="0.8"/>
<circle cx="193.7" cy="443.7" r="1.8" fill="none" stroke="#1a5e16" stroke-width="0.8"/>
<circle cx="88.0" cy="520.6" r="1.8" fill="none" stroke="#1a5e16" stroke-width="0.8"/>
<circle cx="148.0" cy="412.2" r="1.8" fill="none" stroke="#1a5e16" stroke-width="0.8"/>
<circle cx="37.1" cy="409.6" r="1.8" fill="none" stroke="#1a5e16" stroke-width="0.8"/>
<circle cx="181.4" cy="501.0" r="1.8" fill="none" stroke="#1a5e16" stroke-width="0.8"/>
<circle cx="40.6" cy="503.8" r="1.8" fill="none" stroke="#1a5e16" stroke-width="0.8"/>
<circle cx="195.3" cy="480.2" r="1.8" fill="none" stroke="#1a5e16" stroke-width="0.8"/>
<circle cx="78.5" cy="465.0" r="1.8" fill="none" stroke="#1a5e16" stroke-width="0.8"/>
<circle cx="37.8" cy="390.5" r="1.8" fill="none" stroke="#1a5e16" stroke-width="0.8"/>
<circle cx="193.6" cy="479.1" r="1.8" fill="none" stroke="#1a5e16" stroke-width="0.8"/>
<circle cx="111.2" cy="518.7" r="1.8" fill="none" stroke="#1a5e16" stroke-width="0.8"/>
<circle cx="94.0" cy="510.1" r="1.8" fill="none" stroke="#1a5e16" stroke-width="0.8"/>
<circle cx="166.8" cy="417.9" r="1.8" fill="none" stroke="#1a5e16" stroke-width="0.8"/>
<circle cx="60.2" cy="429.4" r="1.8" fill="none" stroke="#1a5e16" stroke-width="0.8"/>
<circle cx="58.1" cy="470.3" r="1.8" fill="none" stroke="#1a5e16" stroke-width="0.8"/>
<circle cx="61.6" cy="447.0" r="1.8" fill="none" stroke="#1a5e16" stroke-width="0.8"/>
<circle cx="37.8" cy="515.4" r="1.8" fill="none" stroke="#1a5e16" stroke-width="0.8"/>
<circle cx="79.1" cy="452.4" r="1.8" fill="none" stroke="#1a5e16" stroke-width="0.8"/>
<circle cx="121.7" cy="514.6" r="1.8" fill="none" stroke="#1a5e16" stroke-width="0.8"/>
<circle cx="91.5" cy="516.5" r="1.8" fill="none" stroke="#1a5e16" stroke-width="0.8"/>
<circle cx="106.6" cy="462.7" r="1.8" fill="none" stroke="#1a5e16" stroke-width="0.8"/>
<circle cx="110.6" cy="391.1" r="1.8" fill="none" stroke="#1a5e16" stroke-width="0.8"/>
<circle cx="95.1" cy="414.0" r="1.8" fill="none" stroke="#1a5e16" stroke-width="0.8"/>
<circle cx="14.2" cy="500.0" r="1.8" fill="none" stroke="#1a5e16" stroke-width="0.8"/>
<circle cx="45.5" cy="454.6" r="1.8" fill="none" stroke="#1a5e16" stroke-width="0.8"/>
<circle cx="148.0" cy="466.1" r="1.8" fill="none" stroke="#1a5e16" stroke-width="0.8"/>
<circle cx="74.0" cy="460.8" r="1.8" fill="none" stroke="#1a5e16" stroke-width="0.8"/>
<circle cx="116.5" cy="497.9" r="1.8" fill="none" stroke="#1a5e16" stroke-width="0.8"/>
<circle cx="33.2" cy="466.7" r="1.8" fill="none" stroke="#1a5e16" stroke-width="0.8"/>
<circle cx="59.6" cy="427.1" r="1.8" fill="none" stroke="#1a5e16" stroke-width="0.8"/>
<circle cx="156.8" cy="459.3" r="1.8" fill="none" stroke="#1a5e16" stroke-width="0.8"/>
<circle cx="117.7" cy="494.5" r="1.8" fill="none" stroke="#1a5e16" stroke-width="0.8"/>
<circle cx="182.8" cy="450.3" r="1.8" fill="none" stroke="#1a5e16" stroke-width="0.8"/>
<circle cx="127.1" cy="459.0" r="1.8" fill="none" stroke="#1a5e16" stroke-width="0.8"/>
<circle cx="108.5" cy="485.1" r="1.8" fill="none" stroke="#1a5e16" stroke-width="0.8"/>
<circle cx="97.4" cy="462.9" r="1.8" fill="none" stroke="#1a5e16" stroke-width="0.8"/>
<circle cx="102.2" cy="519.8" r="1.8" fill="none" stroke="#1a5e16" stroke-width="0.8"/>
<circle cx="143.2" cy="510.8" r="1.8" fill="none" stroke="#1a5e16" stroke-width="0.8"/>
<circle cx="188.3" cy="424.7" r="1.8" fill="none" stroke="#1a5e16" stroke-width="0.8"/>
<circle cx="117.3" cy="520.1" r="1.8" fill="none" stroke="#1a5e16" stroke-width="0.8"/>
<circle cx="169.3" cy="407.6" r="1.8" fill="none" stroke="#1a5e16" stroke-width="0.8"/>
<circle cx="36.1" cy="450.2" r="1.8" fill="none" stroke="#1a5e16" stroke-width="0.8"/>
<circle cx="27.0" cy="422.1" r="1.8" fill="none" stroke="#1a5e16" stroke-width="0.8"/>
<circle cx="27.1" cy="481.9" r="1.8" fill="none" stroke="#1a5e16" stroke-width="0.8"/>
<circle cx="158.9" cy="513.6" r="1.8" fill="none" stroke="#1a5e16" stroke-width="0.8"/>
<circle cx="42.1" cy="488.4" r="1.8" fill="none" stroke="#1a5e16" stroke-width="0.8"/>
<circle cx="136.0" cy="408.4" r="1.8" fill="none" stroke="#1a5e16" stroke-width="0.8"/>
<circle cx="177.3" cy="523.5" r="1.8" fill="none" stroke="#1a5e16" stroke-width="0.8"/>
<circle cx="54.2" cy="521.4" r="1.8" fill="#f09a28" stroke="#1a5e16" stroke-width="0.8"/>
<circle cx="87.4" cy="456.5" r="1.8" fill="none" stroke="#1a5e16" stroke-width="0.8"/>
<circle cx="197.1" cy="504.6" r="1.8" fill="none" stroke="#1a5e16" stroke-width="0.8"/>
<circle cx="43.5" cy="448.7" r="1.8" fill="none" stroke="#1a5e16" stroke-width="0.8"/>
<circle cx="109.1" cy="435.8" r="1.8" fill="none" stroke="#1a5e16" stroke-width="0.8"/>
<circle cx="49.8" cy="432.9" r="1.8" fill="none" stroke="#1a5e16" stroke-width="0.8"/>
<circle cx="147.5" cy="391.2" r="1.8" fill="none" stroke="#1a5e16" stroke-width="0.8"/>
<circle cx="116.3" cy="449.9" r="1.8" fill="none" stroke="#1a5e16" stroke-width="0.8"/>
<circle cx="16.9" cy="434.7" r="1.8" fill="none" stroke="#1a5e16" stroke-width="0.8"/>
<circle cx="129.2" cy="460.0" r="1.8" fill="none" stroke="#1a5e16" stroke-width="0.8"/>
<circle cx="25.4" cy="525.9" r="1.8" fill="none" stroke="#1a5e16" stroke-width="0.8"/>
<circle cx="159.7" cy="524.1" r="1.8" fill="none" stroke="#1a5e16" stroke-width="0.8"/>
<circle cx="32.9" cy="425.5" r="1.8" fill="none" stroke="#1a5e16" stroke-width="0.8"/>
<circle cx="20.8" cy="497.2" r="1.8" fill="none" stroke="#1a5e16" stroke-width="0.8"/>
<circle cx="63.7" cy="406.6" r="1.8" fill="none" stroke="#1a5e16" stroke-width="0.8"/>
<circle cx="91.8" cy="515.6" r="1.8" fill="none" stroke="#1a5e16" stroke-width="0.8"/>
<circle cx="165.4" cy="424.6" r="1.8" fill="none" stroke="#1a5e16" stroke-width="0.8"/>
<circle cx="41.2" cy="516.7" r="1.8" fill="#f09a28" stroke="#1a5e16" stroke-width="0.8"/>
<circle cx="119.3" cy="486.2" r="1.8" fill="none" stroke="#1a5e16" stroke-width="0.8"/>
<circle cx="30.1" cy="396.5" r="1.8" fill="none" stroke="#1a5e16" stroke-width="0.8"/>
<circle cx="141.2" cy="447.8" r="1.8" fill="none" stroke="#1a5e16" stroke-width="0.8"/>
<circle cx="26.9" cy="519.4" r="1.8" fill="none" stroke="#1a5e16" stroke-width="0.8"/>
<circle cx="131.2" cy="500.3" r="1.8" fill="none" stroke="#1a5e16" stroke-width="0.8"/>
<circle cx="29.0" cy="507.9" r="1.8" fill="none" stroke="#1a5e16" stroke-width="0.8"/>
<circle cx="25.9" cy="508.9" r="1.8" fill="none" stroke="#1a5e16" stroke-width="0.8"/>
<circle cx="97.7" cy="435.8" r="1.8" fill="none" stroke="#1a5e16" stroke-width="0.8"/>
<circle cx="116.1" cy="517.8" r="1.8" fill="none" stroke="#1a5e16" stroke-width="0.8"/>
<circle cx="63.2" cy="406.5" r="1.8" fill="none" stroke="#1a5e16" stroke-width="0.8"/>
<circle cx="111.2" cy="421.8" r="1.8" fill="none" stroke="#1a5e16" stroke-width="0.8"/>
<circle cx="33.8" cy="411.0" r="1.8" fill="none" stroke="#1a5e16" stroke-width="0.8"/>
<circle cx="22.8" cy="416.6" r="1.8" fill="none" stroke="#1a5e16" stroke-width="0.8"/>
<circle cx="71.4" cy="431.0" r="1.8" fill="none" stroke="#1a5e16" stroke-width="0.8"/>
<circle cx="154.4" cy="428.9" r="1.8" fill="none" stroke="#1a5e16" stroke-width="0.8"/>
<circle cx="106.3" cy="413.3" r="1.8" fill="none" stroke="#1a5e16" stroke-width="0.8"/>
<circle cx="77.9" cy="391.0" r="1.8" fill="none" stroke="#1a5e16" stroke-width="0.8"/>
<circle cx="60.0" cy="390.6" r="1.8" fill="none" stroke="#1a5e16" stroke-width="0.8"/>
<circle cx="149.5" cy="465.4" r="1.8" fill="none" stroke="#1a5e16" stroke-width="0.8"/>
<circle cx="48.6" cy="454.7" r="1.8" fill="none" stroke="#1a5e16" stroke-width="0.8"/>
<circle cx="186.9" cy="403.3" r="1.8" fill="none" stroke="#1a5e16" stroke-width="0.8"/>
<circle cx="165.4" cy="448.8" r="1.8" fill="#20a890" stroke="#1a5e16" stroke-width="0.8"/>
<circle cx="105.3" cy="504.9" r="1.8" fill="none" stroke="#1a5e16" stroke-width="0.8"/>
<circle cx="86.4" cy="459.2" r="1.8" fill="none" stroke="#1a5e16" stroke-width="0.8"/>
<circle cx="141.1" cy="525.6" r="1.8" fill="none" stroke="#1a5e16" stroke-width="0.8"/>
<circle cx="77.1" cy="504.6" r="1.8" fill="none" stroke="#1a5e16" stroke-width="0.8"/>
<circle cx="144.6" cy="477.2" r="1.8" fill="none" stroke="#1a5e16" stroke-width="0.8"/>
<circle cx="88.6" cy="437.0" r="1.8" fill="none" stroke="#1a5e16" stroke-width="0.8"/>
<circle cx="23.6" cy="406.6" r="1.8" fill="none" stroke="#1a5e16" stroke-width="0.8"/>
<circle cx="26.6" cy="491.9" r="1.8" fill="none" stroke="#1a5e16" stroke-width="0.8"/>
<circle cx="60.9" cy="411.3" r="1.8" fill="none" stroke="#1a5e16" stroke-width="0.8"/>
<circle cx="29.2" cy="505.9" r="1.8" fill="none" stroke="#1a5e16" stroke-width="0.8"/>
<circle cx="175.0" cy="482.0" r="1.8" fill="none" stroke="#1a5e16" stroke-width="0.8"/>
<circle cx="65.8" cy="422.3" r="1.8" fill="none" stroke="#1a5e16" stroke-width="0.8"/>
<circle cx="67.9" cy="452.6" r="1.8" fill="none" stroke="#1a5e16" stroke-width="0.8"/>
<circle cx="42.7" cy="450.7" r="1.8" fill="none" stroke="#1a5e16" stroke-width="0.8"/>
<circle cx="62.3" cy="522.7" r="1.8" fill="#2a6a1a" stroke="#1a5e16" stroke-width="0.8"/>
<circle cx="193.9" cy="464.8" r="1.8" fill="#20a890" stroke="#1a5e16" stroke-width="0.8"/>
<circle cx="58.8" cy="523.2" r="1.8" fill="none" stroke="#1a5e16" stroke-width="0.8"/>
<circle cx="70.9" cy="438.2" r="1.8" fill="#f09a28" stroke="#1a5e16" stroke-width="0.8"/>
<circle cx="13.7" cy="441.7" r="1.8" fill="none" stroke="#1a5e16" stroke-width="0.8"/>
<circle cx="101.5" cy="458.6" r="1.8" fill="none" stroke="#1a5e16" stroke-width="0.8"/>
<circle cx="50.8" cy="458.9" r="1.8" fill="none" stroke="#1a5e16" stroke-width="0.8"/>
<circle cx="14.4" cy="425.4" r="1.8" fill="none" stroke="#1a5e16" stroke-width="0.8"/>
<circle cx="30.1" cy="444.2" r="1.8" fill="none" stroke="#1a5e16" stroke-width="0.8"/>
<circle cx="21.2" cy="391.6" r="1.8" fill="none" stroke="#1a5e16" stroke-width="0.8"/>
<circle cx="69.9" cy="421.0" r="1.8" fill="none" stroke="#1a5e16" stroke-width="0.8"/>
<circle cx="122.1" cy="462.3" r="1.8" fill="none" stroke="#1a5e16" stroke-width="0.8"/>
<circle cx="152.7" cy="480.2" r="1.8" fill="none" stroke="#1a5e16" stroke-width="0.8"/>
<circle cx="146.3" cy="511.1" r="1.8" fill="none" stroke="#1a5e16" stroke-width="0.8"/>
<circle cx="85.8" cy="434.0" r="1.8" fill="none" stroke="#1a5e16" stroke-width="0.8"/>
<circle cx="196.2" cy="409.4" r="1.8" fill="#9ae040" stroke="#1a5e16" stroke-width="0.8"/>
<circle cx="147.8" cy="478.2" r="1.8" fill="#f09a28" stroke="#1a5e16" stroke-width="0.8"/>
<circle cx="21.6" cy="505.0" r="1.8" fill="none" stroke="#1a5e16" stroke-width="0.8"/>
<circle cx="179.0" cy="476.0" r="1.8" fill="none" stroke="#1a5e16" stroke-width="0.8"/>
<circle cx="149.6" cy="501.8" r="1.8" fill="none" stroke="#1a5e16" stroke-width="0.8"/>
<circle cx="39.3" cy="461.6" r="1.8" fill="none" stroke="#1a5e16" stroke-width="0.8"/>
<circle cx="107.1" cy="505.0" r="1.8" fill="none" stroke="#1a5e16" stroke-width="0.8"/>
<circle cx="162.8" cy="503.8" r="1.8" fill="none" stroke="#1a5e16" stroke-width="0.8"/>
<circle cx="121.8" cy="513.0" r="1.8" fill="none" stroke="#1a5e16" stroke-width="0.8"/>
<circle cx="140.2" cy="485.2" r="1.8" fill="none" stroke="#1a5e16" stroke-width="0.8"/>
<circle cx="56.2" cy="392.8" r="1.8" fill="none" stroke="#1a5e16" stroke-width="0.8"/>
<circle cx="38.2" cy="438.8" r="1.8" fill="none" stroke="#1a5e16" stroke-width="0.8"/>
<circle cx="33.0" cy="505.1" r="1.8" fill="none" stroke="#1a5e16" stroke-width="0.8"/>
<circle cx="117.1" cy="476.1" r="1.8" fill="none" stroke="#1a5e16" stroke-width="0.8"/>
<circle cx="129.7" cy="483.5" r="1.8" fill="none" stroke="#1a5e16" stroke-width="0.8"/>
<circle cx="104.3" cy="389.0" r="1.8" fill="none" stroke="#1a5e16" stroke-width="0.8"/>
<circle cx="161.5" cy="492.9" r="1.8" fill="none" stroke="#1a5e16" stroke-width="0.8"/>
<circle cx="106.8" cy="463.2" r="1.8" fill="none" stroke="#1a5e16" stroke-width="0.8"/>
<circle cx="135.8" cy="397.7" r="1.8" fill="none" stroke="#1a5e16" stroke-width="0.8"/>
<circle cx="150.2" cy="423.7" r="1.8" fill="none" stroke="#1a5e16" stroke-width="0.8"/>
<circle cx="27.3" cy="425.5" r="1.8" fill="none" stroke="#1a5e16" stroke-width="0.8"/>
<circle cx="148.8" cy="417.1" r="1.8" fill="none" stroke="#1a5e16" stroke-width="0.8"/>
<circle cx="150.7" cy="524.6" r="1.8" fill="none" stroke="#1a5e16" stroke-width="0.8"/>
<circle cx="105.1" cy="441.9" r="1.8" fill="none" stroke="#1a5e16" stroke-width="0.8"/>
<circle cx="102.4" cy="483.9" r="1.8" fill="none" stroke="#1a5e16" stroke-width="0.8"/>
<circle cx="155.8" cy="474.6" r="1.8" fill="none" stroke="#1a5e16" stroke-width="0.8"/>
<circle cx="132.7" cy="399.3" r="1.8" fill="none" stroke="#1a5e16" stroke-width="0.8"/>
<circle cx="40.8" cy="423.9" r="1.8" fill="none" stroke="#1a5e16" stroke-width="0.8"/>
<circle cx="151.4" cy="431.0" r="1.8" fill="none" stroke="#1a5e16" stroke-width="0.8"/>
<circle cx="118.8" cy="390.2" r="1.8" fill="none" stroke="#1a5e16" stroke-width="0.8"/>
<circle cx="24.8" cy="426.0" r="1.8" fill="none" stroke="#1a5e16" stroke-width="0.8"/>
<circle cx="138.2" cy="485.1" r="1.8" fill="none" stroke="#1a5e16" stroke-width="0.8"/>
<circle cx="138.8" cy="429.1" r="1.8" fill="none" stroke="#1a5e16" stroke-width="0.8"/>
<circle cx="109.3" cy="453.3" r="1.8" fill="none" stroke="#1a5e16" stroke-width="0.8"/>
<circle cx="100.0" cy="405.0" r="1.8" fill="none" stroke="#1a5e16" stroke-width="0.8"/>
<circle cx="179.3" cy="416.3" r="1.8" fill="#9ae040" stroke="#1a5e16" stroke-width="0.8"/>
<circle cx="194.9" cy="519.1" r="1.8" fill="none" stroke="#1a5e16" stroke-width="0.8"/>
<circle cx="16.7" cy="452.5" r="1.8" fill="none" stroke="#1a5e16" stroke-width="0.8"/>
<circle cx="165.6" cy="523.6" r="1.8" fill="none" stroke="#1a5e16" stroke-width="0.8"/>
<circle cx="96.9" cy="426.0" r="1.8" fill="none" stroke="#1a5e16" stroke-width="0.8"/>
<circle cx="52.4" cy="520.4" r="1.8" fill="none" stroke="#1a5e16" stroke-width="0.8"/>
<circle cx="52.6" cy="469.6" r="1.8" fill="none" stroke="#1a5e16" stroke-width="0.8"/>
<circle cx="39.8" cy="461.6" r="1.8" fill="none" stroke="#1a5e16" stroke-width="0.8"/>
<circle cx="190.2" cy="407.0" r="1.8" fill="none" stroke="#1a5e16" stroke-width="0.8"/>
<circle cx="165.7" cy="459.5" r="1.8" fill="#20a890" stroke="#1a5e16" stroke-width="0.8"/>
<circle cx="178.0" cy="486.6" r="1.8" fill="none" stroke="#1a5e16" stroke-width="0.8"/>
<circle cx="56.4" cy="513.7" r="1.8" fill="none" stroke="#1a5e16" stroke-width="0.8"/>
<circle cx="103.7" cy="392.0" r="1.8" fill="none" stroke="#1a5e16" stroke-width="0.8"/>
<circle cx="14.2" cy="457.1" r="1.8" fill="none" stroke="#1a5e16" stroke-width="0.8"/>
<circle cx="97.1" cy="430.6" r="1.8" fill="none" stroke="#1a5e16" stroke-width="0.8"/>
<circle cx="39.6" cy="436.5" r="1.8" fill="none" stroke="#1a5e16" stroke-width="0.8"/>
<circle cx="72.1" cy="505.7" r="1.8" fill="none" stroke="#1a5e16" stroke-width="0.8"/>
<circle cx="13.8" cy="493.2" r="1.8" fill="none" stroke="#1a5e16" stroke-width="0.8"/>
<circle cx="169.2" cy="405.2" r="1.8" fill="none" stroke="#1a5e16" stroke-width="0.8"/>
<circle cx="185.3" cy="488.0" r="1.8" fill="none" stroke="#1a5e16" stroke-width="0.8"/>
<circle cx="180.7" cy="428.9" r="1.8" fill="none" stroke="#1a5e16" stroke-width="0.8"/>
<circle cx="82.5" cy="443.3" r="1.8" fill="none" stroke="#1a5e16" stroke-width="0.8"/>
<circle cx="198.8" cy="470.7" r="1.8" fill="none" stroke="#1a5e16" stroke-width="0.8"/>
<circle cx="80.4" cy="448.2" r="1.8" fill="none" stroke="#1a5e16" stroke-width="0.8"/>
<circle cx="64.5" cy="395.2" r="1.8" fill="none" stroke="#1a5e16" stroke-width="0.8"/>
<circle cx="32.4" cy="504.9" r="1.8" fill="#9ae040" stroke="#1a5e16" stroke-width="0.8"/>
<circle cx="66.5" cy="519.0" r="1.8" fill="none" stroke="#1a5e16" stroke-width="0.8"/>
<circle cx="59.7" cy="425.6" r="1.8" fill="none" stroke="#1a5e16" stroke-width="0.8"/>
<circle cx="108.3" cy="415.0" r="1.8" fill="none" stroke="#1a5e16" stroke-width="0.8"/>
<circle cx="82.8" cy="521.9" r="1.8" fill="none" stroke="#1a5e16" stroke-width="0.8"/>
<circle cx="177.5" cy="501.8" r="1.8" fill="none" stroke="#1a5e16" stroke-width="0.8"/>
<circle cx="130.5" cy="515.9" r="1.8" fill="none" stroke="#1a5e16" stroke-width="0.8"/>
<circle cx="188.0" cy="465.1" r="1.8" fill="#20a890" stroke="#1a5e16" stroke-width="0.8"/>
<circle cx="147.0" cy="395.4" r="1.8" fill="none" stroke="#1a5e16" stroke-width="0.8"/>
<circle cx="149.4" cy="451.4" r="1.8" fill="none" stroke="#1a5e16" stroke-width="0.8"/>
<circle cx="153.1" cy="478.4" r="1.8" fill="#f09a28" stroke="#1a5e16" stroke-width="0.8"/>
<circle cx="66.6" cy="395.3" r="1.8" fill="none" stroke="#1a5e16" stroke-width="0.8"/>
<circle cx="185.4" cy="406.3" r="1.8" fill="none" stroke="#1a5e16" stroke-width="0.8"/>
<circle cx="101.1" cy="436.4" r="1.8" fill="none" stroke="#1a5e16" stroke-width="0.8"/>
<circle cx="68.7" cy="491.6" r="1.8" fill="none" stroke="#1a5e16" stroke-width="0.8"/>
<circle cx="194.6" cy="424.8" r="1.8" fill="none" stroke="#1a5e16" stroke-width="0.8"/>
<circle cx="135.2" cy="430.5" r="1.8" fill="none" stroke="#1a5e16" stroke-width="0.8"/>
<circle cx="116.9" cy="443.5" r="1.8" fill="#9ae040" stroke="#1a5e16" stroke-width="0.8"/>
<circle cx="44.5" cy="411.1" r="1.8" fill="none" stroke="#1a5e16" stroke-width="0.8"/>
<circle cx="52.1" cy="514.9" r="1.8" fill="none" stroke="#1a5e16" stroke-width="0.8"/>
<circle cx="105.7" cy="419.2" r="1.8" fill="none" stroke="#1a5e16" stroke-width="0.8"/>
<circle cx="181.6" cy="527.5" r="1.8" fill="none" stroke="#1a5e16" stroke-width="0.8"/>
<circle cx="97.0" cy="408.0" r="1.8" fill="#f09a28" stroke="#1a5e16" stroke-width="0.8"/>
<circle cx="49.2" cy="401.2" r="1.8" fill="none" stroke="#1a5e16" stroke-width="0.8"/>
<circle cx="76.9" cy="401.2" r="1.8" fill="none" stroke="#1a5e16" stroke-width="0.8"/>
<circle cx="57.9" cy="424.5" r="1.8" fill="none" stroke="#1a5e16" stroke-width="0.8"/>
<circle cx="119.2" cy="512.3" r="1.8" fill="none" stroke="#1a5e16" stroke-width="0.8"/>
<circle cx="152.6" cy="446.1" r="1.8" fill="none" stroke="#1a5e16" stroke-width="0.8"/>
<circle cx="90.3" cy="461.6" r="1.8" fill="none" stroke="#1a5e16" stroke-width="0.8"/>
<circle cx="83.4" cy="435.7" r="1.8" fill="none" stroke="#1a5e16" stroke-width="0.8"/>
<circle cx="25.0" cy="427.2" r="1.8" fill="none" stroke="#1a5e16" stroke-width="0.8"/>
<circle cx="193.0" cy="406.1" r="1.8" fill="none" stroke="#1a5e16" stroke-width="0.8"/>
<circle cx="106.9" cy="476.3" r="1.8" fill="none" stroke="#1a5e16" stroke-width="0.8"/>
<circle cx="173.6" cy="418.6" r="1.8" fill="none" stroke="#1a5e16" stroke-width="0.8"/>
<circle cx="63.8" cy="423.2" r="1.8" fill="none" stroke="#1a5e16" stroke-width="0.8"/>
<circle cx="87.7" cy="450.7" r="1.8" fill="none" stroke="#1a5e16" stroke-width="0.8"/>
<circle cx="190.5" cy="506.9" r="1.8" fill="none" stroke="#1a5e16" stroke-width="0.8"/>
<circle cx="175.4" cy="391.5" r="1.8" fill="#9ae040" stroke="#1a5e16" stroke-width="0.8"/>
<circle cx="19.5" cy="487.5" r="1.8" fill="none" stroke="#1a5e16" stroke-width="0.8"/>
<circle cx="179.7" cy="454.5" r="1.8" fill="none" stroke="#1a5e16" stroke-width="0.8"/>
<circle cx="122.4" cy="388.5" r="1.8" fill="none" stroke="#1a5e16" stroke-width="0.8"/>
<circle cx="86.1" cy="517.8" r="1.8" fill="none" stroke="#1a5e16" stroke-width="0.8"/>
<circle cx="166.6" cy="507.8" r="1.8" fill="none" stroke="#1a5e16" stroke-width="0.8"/>
<circle cx="193.9" cy="423.2" r="1.8" fill="none" stroke="#1a5e16" stroke-width="0.8"/>
<circle cx="33.7" cy="410.0" r="1.8" fill="none" stroke="#1a5e16" stroke-width="0.8"/>
<circle cx="110.4" cy="483.6" r="1.8" fill="none" stroke="#1a5e16" stroke-width="0.8"/>
<circle cx="188.1" cy="489.2" r="1.8" fill="#f09a28" stroke="#1a5e16" stroke-width="0.8"/>
<circle cx="133.6" cy="495.2" r="1.8" fill="none" stroke="#1a5e16" stroke-width="0.8"/>
<line x1="59.6" y1="388.5" x2="59.6" y2="528.0" stroke="#1a1a1a" stroke-width="0.8"/>
<line x1="105.8" y1="388.5" x2="105.8" y2="528.0" stroke="#1a1a1a" stroke-width="0.8"/>
<line x1="151.9" y1="388.5" x2="151.9" y2="528.0" stroke="#1a1a1a" stroke-width="0.8"/>
<line x1="13.5" y1="435.2" x2="199.0" y2="435.2" stroke="#1a1a1a" stroke-width="0.8"/>
<line x1="13.5" y1="481.4" x2="199.0" y2="481.4" stroke="#1a1a1a" stroke-width="0.8"/>
<rect x="13.5" y="388.5" width="185.5" height="139.5" fill="none" stroke="#1a1a1a" stroke-width="0.9"/>
<text x="4.4" y="11.3" font-size="11" textLength="11.2" lengthAdjust="spacingAndGlyphs" fill="#262626" stroke="#262626" stroke-width="0.22">(a)</text>
<text x="3.8" y="184.6" font-size="11" textLength="11.8" lengthAdjust="spacingAndGlyphs" fill="#262626" stroke="#262626" stroke-width="0.22">(b)</text>
<text x="3.6" y="365" font-size="11" textLength="11.8" lengthAdjust="spacingAndGlyphs" fill="#262626" stroke="#262626" stroke-width="0.22">(c)</text>
<text x="35.3" y="21.3" font-size="8.4" text-anchor="middle" textLength="43.9" lengthAdjust="spacingAndGlyphs" fill="#262626" stroke="#262626" stroke-width="0.22">117°19'30"E</text>
<text x="102.5" y="21.3" font-size="8.4" text-anchor="middle" textLength="42" lengthAdjust="spacingAndGlyphs" fill="#262626" stroke="#262626" stroke-width="0.22">117°20'0"E</text>
<text x="170" y="21.3" font-size="8.4" text-anchor="middle" textLength="43.8" lengthAdjust="spacingAndGlyphs" fill="#262626" stroke="#262626" stroke-width="0.22">117°20'30"E</text>
<text x="26.7" y="174.5" font-size="8.4" text-anchor="middle" textLength="42" lengthAdjust="spacingAndGlyphs" fill="#262626" stroke="#262626" stroke-width="0.22">117°18'0"E</text>
<text x="95.4" y="174.5" font-size="8.4" text-anchor="middle" textLength="45.8" lengthAdjust="spacingAndGlyphs" fill="#262626" stroke="#262626" stroke-width="0.22">117°18'30"E</text>
<text x="163.2" y="174.5" font-size="8.4" text-anchor="middle" textLength="43.9" lengthAdjust="spacingAndGlyphs" fill="#262626" stroke="#262626" stroke-width="0.22">117°19'0"E</text>
<text x="210.6" y="26.9" font-size="9.2" text-anchor="middle" textLength="38.5" lengthAdjust="spacingAndGlyphs" transform="rotate(-90 210.6 26.9)" fill="#262626" stroke="#262626" stroke-width="0.22">42°25'0"N</text>
<text x="210.6" y="117.83333333333334" font-size="9.2" text-anchor="middle" textLength="43.5" lengthAdjust="spacingAndGlyphs" transform="rotate(-90 210.6 117.83333333333334)" fill="#262626" stroke="#262626" stroke-width="0.22">42°24'30"N</text>
<text x="10.4" y="117.83333333333334" font-size="9.2" text-anchor="middle" textLength="43.5" lengthAdjust="spacingAndGlyphs" transform="rotate(-90 10.4 117.83333333333334)" fill="#262626" stroke="#262626" stroke-width="0.22">42°24'30"N</text>
<text x="35.3" y="194.2" font-size="8.4" text-anchor="middle" textLength="43.9" lengthAdjust="spacingAndGlyphs" fill="#262626" stroke="#262626" stroke-width="0.22">117°19'30"E</text>
<text x="102.5" y="194.2" font-size="8.4" text-anchor="middle" textLength="42" lengthAdjust="spacingAndGlyphs" fill="#262626" stroke="#262626" stroke-width="0.22">117°20'0"E</text>
<text x="170" y="194.2" font-size="8.4" text-anchor="middle" textLength="43.8" lengthAdjust="spacingAndGlyphs" fill="#262626" stroke="#262626" stroke-width="0.22">117°20'30"E</text>
<text x="26.7" y="348" font-size="8.4" text-anchor="middle" textLength="42" lengthAdjust="spacingAndGlyphs" fill="#262626" stroke="#262626" stroke-width="0.22">117°18'0"E</text>
<text x="95.4" y="348" font-size="8.4" text-anchor="middle" textLength="45.8" lengthAdjust="spacingAndGlyphs" fill="#262626" stroke="#262626" stroke-width="0.22">117°18'30"E</text>
<text x="163.2" y="348" font-size="8.4" text-anchor="middle" textLength="43.9" lengthAdjust="spacingAndGlyphs" fill="#262626" stroke="#262626" stroke-width="0.22">117°19'0"E</text>
<text x="210.6" y="200.8" font-size="9.2" text-anchor="middle" textLength="38.5" lengthAdjust="spacingAndGlyphs" transform="rotate(-90 210.6 200.8)" fill="#262626" stroke="#262626" stroke-width="0.22">42°25'0"N</text>
<text x="210.6" y="292.0" font-size="9.2" text-anchor="middle" textLength="43.5" lengthAdjust="spacingAndGlyphs" transform="rotate(-90 210.6 292.0)" fill="#262626" stroke="#262626" stroke-width="0.22">42°24'30"N</text>
<text x="10.4" y="292.0" font-size="9.2" text-anchor="middle" textLength="43.5" lengthAdjust="spacingAndGlyphs" transform="rotate(-90 10.4 292.0)" fill="#262626" stroke="#262626" stroke-width="0.22">42°24'30"N</text>
<text x="35.3" y="384" font-size="8.4" text-anchor="middle" textLength="43.9" lengthAdjust="spacingAndGlyphs" fill="#262626" stroke="#262626" stroke-width="0.22">117°19'30"E</text>
<text x="102.5" y="384" font-size="8.4" text-anchor="middle" textLength="42" lengthAdjust="spacingAndGlyphs" fill="#262626" stroke="#262626" stroke-width="0.22">117°20'0"E</text>
<text x="170" y="384" font-size="8.4" text-anchor="middle" textLength="43.8" lengthAdjust="spacingAndGlyphs" fill="#262626" stroke="#262626" stroke-width="0.22">117°20'30"E</text>
<text x="26.7" y="539.2" font-size="8.4" text-anchor="middle" textLength="42" lengthAdjust="spacingAndGlyphs" fill="#262626" stroke="#262626" stroke-width="0.22">117°18'0"E</text>
<text x="95.4" y="539.2" font-size="8.4" text-anchor="middle" textLength="45.8" lengthAdjust="spacingAndGlyphs" fill="#262626" stroke="#262626" stroke-width="0.22">117°18'30"E</text>
<text x="163.2" y="539.2" font-size="8.4" text-anchor="middle" textLength="43.9" lengthAdjust="spacingAndGlyphs" fill="#262626" stroke="#262626" stroke-width="0.22">117°19'0"E</text>
<text x="210.6" y="390.5" font-size="9.2" text-anchor="middle" textLength="38.5" lengthAdjust="spacingAndGlyphs" transform="rotate(-90 210.6 390.5)" fill="#262626" stroke="#262626" stroke-width="0.22">42°25'0"N</text>
<text x="210.6" y="481.5" font-size="9.2" text-anchor="middle" textLength="43.5" lengthAdjust="spacingAndGlyphs" transform="rotate(-90 210.6 481.5)" fill="#262626" stroke="#262626" stroke-width="0.22">42°24'30"N</text>
<text x="10.4" y="481.5" font-size="9.2" text-anchor="middle" textLength="43.5" lengthAdjust="spacingAndGlyphs" transform="rotate(-90 10.4 481.5)" fill="#262626" stroke="#262626" stroke-width="0.22">42°24'30"N</text>
<line x1="334" y1="111.2" x2="531.5" y2="111.2" stroke="#ececec" stroke-width="0.7" stroke-dasharray="2,2"/>
<line x1="334" y1="89.4" x2="531.5" y2="89.4" stroke="#ececec" stroke-width="0.7" stroke-dasharray="2,2"/>
<line x1="334" y1="67.6" x2="531.5" y2="67.6" stroke="#ececec" stroke-width="0.7" stroke-dasharray="2,2"/>
<line x1="334" y1="45.8" x2="531.5" y2="45.8" stroke="#ececec" stroke-width="0.7" stroke-dasharray="2,2"/>
<rect x="338.53" y="41.44" width="7.40" height="91.56" fill="#0c870c" stroke="#263a26" stroke-width="0.5"/>
<rect x="338.53" y="32.17" width="7.40" height="9.27" fill="#1c9fd6" stroke="#26363f" stroke-width="0.5"/>
<rect x="338.53" y="25.09" width="7.40" height="7.08" fill="#a2ec00" stroke="#3f4a1f" stroke-width="0.5"/>
<rect x="338.53" y="24.00" width="7.40" height="1.09" fill="#f2a22a" stroke="#4f3f1f" stroke-width="0.5"/>
<text x="347.5" y="141.6" font-size="11.8" text-anchor="end" textLength="31.2" lengthAdjust="spacingAndGlyphs" transform="rotate(-90 347.5 141.6)" fill="#262626" stroke="#262626" stroke-width="0.22">P0101</text>
<rect x="354.99" y="61.39" width="7.40" height="71.61" fill="#0c870c" stroke="#263a26" stroke-width="0.5"/>
<rect x="354.99" y="39.37" width="7.40" height="22.02" fill="#1c9fd6" stroke="#26363f" stroke-width="0.5"/>
<rect x="354.99" y="24.00" width="7.40" height="15.37" fill="#a2ec00" stroke="#3f4a1f" stroke-width="0.5"/>
<text x="364.0" y="141.6" font-size="11.8" text-anchor="end" textLength="31.2" lengthAdjust="spacingAndGlyphs" transform="rotate(-90 364.0 141.6)" fill="#262626" stroke="#262626" stroke-width="0.22">P0102</text>
<rect x="371.45" y="79.92" width="7.40" height="53.08" fill="#0c870c" stroke="#263a26" stroke-width="0.5"/>
<rect x="371.45" y="76.87" width="7.40" height="3.05" fill="#12cc12" stroke="#264226" stroke-width="0.5"/>
<rect x="371.45" y="61.17" width="7.40" height="15.70" fill="#1c9fd6" stroke="#26363f" stroke-width="0.5"/>
<rect x="371.45" y="24.00" width="7.40" height="37.17" fill="#a2ec00" stroke="#3f4a1f" stroke-width="0.5"/>
<text x="380.4" y="141.6" font-size="11.8" text-anchor="end" textLength="31.2" lengthAdjust="spacingAndGlyphs" transform="rotate(-90 380.4 141.6)" fill="#262626" stroke="#262626" stroke-width="0.22">P0103</text>
<rect x="387.90" y="72.18" width="7.40" height="60.82" fill="#0c870c" stroke="#263a26" stroke-width="0.5"/>
<rect x="387.90" y="66.95" width="7.40" height="5.23" fill="#12cc12" stroke="#264226" stroke-width="0.5"/>
<rect x="387.90" y="56.26" width="7.40" height="10.68" fill="#1c9fd6" stroke="#26363f" stroke-width="0.5"/>
<rect x="387.90" y="24.00" width="7.40" height="32.26" fill="#a2ec00" stroke="#3f4a1f" stroke-width="0.5"/>
<text x="396.9" y="141.6" font-size="11.8" text-anchor="end" textLength="31.2" lengthAdjust="spacingAndGlyphs" transform="rotate(-90 396.9 141.6)" fill="#262626" stroke="#262626" stroke-width="0.22">P0104</text>
<rect x="404.36" y="27.71" width="7.40" height="105.29" fill="#0c870c" stroke="#263a26" stroke-width="0.5"/>
<rect x="404.36" y="25.96" width="7.40" height="1.74" fill="#1c9fd6" stroke="#26363f" stroke-width="0.5"/>
<rect x="404.36" y="24.00" width="7.40" height="1.96" fill="#a2ec00" stroke="#3f4a1f" stroke-width="0.5"/>
<text x="413.4" y="141.6" font-size="11.8" text-anchor="end" textLength="31.2" lengthAdjust="spacingAndGlyphs" transform="rotate(-90 413.4 141.6)" fill="#262626" stroke="#262626" stroke-width="0.22">P0201</text>
<rect x="420.82" y="24.87" width="7.40" height="108.13" fill="#0c870c" stroke="#263a26" stroke-width="0.5"/>
<rect x="420.82" y="24.00" width="7.40" height="0.87" fill="#1c9fd6" stroke="#26363f" stroke-width="0.5"/>
<text x="429.8" y="141.6" font-size="11.8" text-anchor="end" textLength="31.2" lengthAdjust="spacingAndGlyphs" transform="rotate(-90 429.8 141.6)" fill="#262626" stroke="#262626" stroke-width="0.22">P0202</text>
<rect x="437.28" y="71.09" width="7.40" height="61.91" fill="#0c870c" stroke="#263a26" stroke-width="0.5"/>
<rect x="437.28" y="51.90" width="7.40" height="19.18" fill="#12cc12" stroke="#264226" stroke-width="0.5"/>
<rect x="437.28" y="39.37" width="7.40" height="12.54" fill="#1c9fd6" stroke="#26363f" stroke-width="0.5"/>
<rect x="437.28" y="25.09" width="7.40" height="14.28" fill="#a2ec00" stroke="#3f4a1f" stroke-width="0.5"/>
<rect x="437.28" y="24.00" width="7.40" height="1.09" fill="#f2a22a" stroke="#4f3f1f" stroke-width="0.5"/>
<text x="446.3" y="141.6" font-size="11.8" text-anchor="end" textLength="31.2" lengthAdjust="spacingAndGlyphs" transform="rotate(-90 446.3 141.6)" fill="#262626" stroke="#262626" stroke-width="0.22">P0203</text>
<rect x="453.74" y="125.70" width="7.40" height="7.30" fill="#0c870c" stroke="#263a26" stroke-width="0.5"/>
<rect x="453.74" y="92.23" width="7.40" height="33.46" fill="#12cc12" stroke="#264226" stroke-width="0.5"/>
<rect x="453.74" y="81.22" width="7.40" height="11.01" fill="#1c9fd6" stroke="#26363f" stroke-width="0.5"/>
<rect x="453.74" y="24.00" width="7.40" height="57.23" fill="#a2ec00" stroke="#3f4a1f" stroke-width="0.5"/>
<text x="462.7" y="141.6" font-size="11.8" text-anchor="end" textLength="31.2" lengthAdjust="spacingAndGlyphs" transform="rotate(-90 462.7 141.6)" fill="#262626" stroke="#262626" stroke-width="0.22">P0204</text>
<rect x="470.20" y="82.31" width="7.40" height="50.69" fill="#0c870c" stroke="#263a26" stroke-width="0.5"/>
<rect x="470.20" y="79.48" width="7.40" height="2.83" fill="#12cc12" stroke="#264226" stroke-width="0.5"/>
<rect x="470.20" y="58.12" width="7.40" height="21.36" fill="#1c9fd6" stroke="#26363f" stroke-width="0.5"/>
<rect x="470.20" y="24.00" width="7.40" height="34.12" fill="#a2ec00" stroke="#3f4a1f" stroke-width="0.5"/>
<text x="479.2" y="141.6" font-size="11.8" text-anchor="end" textLength="31.2" lengthAdjust="spacingAndGlyphs" transform="rotate(-90 479.2 141.6)" fill="#262626" stroke="#262626" stroke-width="0.22">P0301</text>
<rect x="486.65" y="77.30" width="7.40" height="55.70" fill="#0c870c" stroke="#263a26" stroke-width="0.5"/>
<rect x="486.65" y="72.40" width="7.40" height="4.91" fill="#1c9fd6" stroke="#26363f" stroke-width="0.5"/>
<rect x="486.65" y="24.00" width="7.40" height="48.40" fill="#a2ec00" stroke="#3f4a1f" stroke-width="0.5"/>
<text x="495.7" y="141.6" font-size="11.8" text-anchor="end" textLength="31.2" lengthAdjust="spacingAndGlyphs" transform="rotate(-90 495.7 141.6)" fill="#262626" stroke="#262626" stroke-width="0.22">P0302</text>
<rect x="503.11" y="47.54" width="7.40" height="85.46" fill="#0c870c" stroke="#263a26" stroke-width="0.5"/>
<rect x="503.11" y="24.00" width="7.40" height="23.54" fill="#a2ec00" stroke="#3f4a1f" stroke-width="0.5"/>
<text x="512.1" y="141.6" font-size="11.8" text-anchor="end" textLength="31.2" lengthAdjust="spacingAndGlyphs" transform="rotate(-90 512.1 141.6)" fill="#262626" stroke="#262626" stroke-width="0.22">P0303</text>
<rect x="519.57" y="62.26" width="7.40" height="70.74" fill="#0c870c" stroke="#263a26" stroke-width="0.5"/>
<rect x="519.57" y="58.55" width="7.40" height="3.71" fill="#12cc12" stroke="#264226" stroke-width="0.5"/>
<rect x="519.57" y="52.56" width="7.40" height="6.00" fill="#1c9fd6" stroke="#26363f" stroke-width="0.5"/>
<rect x="519.57" y="24.00" width="7.40" height="28.56" fill="#a2ec00" stroke="#3f4a1f" stroke-width="0.5"/>
<text x="528.6" y="141.6" font-size="11.8" text-anchor="end" textLength="31.2" lengthAdjust="spacingAndGlyphs" transform="rotate(-90 528.6 141.6)" fill="#262626" stroke="#262626" stroke-width="0.22">P0304</text>
<rect x="334" y="24" width="197.5" height="109" fill="none" stroke="#9a9a9a" stroke-width="1"/>
<text x="323.2" y="137.1" font-size="11.4" text-anchor="end" textLength="15.4" lengthAdjust="spacingAndGlyphs" fill="#262626" stroke="#262626" stroke-width="0.22">0%</text>
<text x="323.2" y="115.3" font-size="11.4" text-anchor="end" textLength="22" lengthAdjust="spacingAndGlyphs" fill="#262626" stroke="#262626" stroke-width="0.22">20%</text>
<text x="323.2" y="93.5" font-size="11.4" text-anchor="end" textLength="22" lengthAdjust="spacingAndGlyphs" fill="#262626" stroke="#262626" stroke-width="0.22">40%</text>
<text x="323.2" y="71.7" font-size="11.4" text-anchor="end" textLength="22" lengthAdjust="spacingAndGlyphs" fill="#262626" stroke="#262626" stroke-width="0.22">60%</text>
<text x="323.2" y="49.9" font-size="11.4" text-anchor="end" textLength="22" lengthAdjust="spacingAndGlyphs" fill="#262626" stroke="#262626" stroke-width="0.22">80%</text>
<text x="323.2" y="28.1" font-size="11.4" text-anchor="end" textLength="27.9" lengthAdjust="spacingAndGlyphs" fill="#262626" stroke="#262626" stroke-width="0.22">100%</text>
<text x="287" y="76" font-size="11.2" text-anchor="middle" textLength="118" lengthAdjust="spacingAndGlyphs" transform="rotate(-90 287 76)" fill="#262626" stroke="#262626" stroke-width="0.22">Cumulative percentage</text>
<text x="273.7" y="11.4" font-size="11" textLength="13.4" lengthAdjust="spacingAndGlyphs" fill="#262626" stroke="#262626" stroke-width="0.22">(d)</text>
<rect x="348.40" y="8.60" width="6.00" height="6.00" fill="#0c870c" stroke="#263a26" stroke-width="0.6"/>
<text x="358.4" y="15.3" font-size="10.4" textLength="13.2" lengthAdjust="spacingAndGlyphs" fill="#262626" stroke="#262626" stroke-width="0.22">NF</text>
<rect x="383.60" y="8.60" width="6.00" height="6.00" fill="#12cc12" stroke="#264226" stroke-width="0.6"/>
<text x="393" y="15.3" font-size="10.4" textLength="12" lengthAdjust="spacingAndGlyphs" fill="#262626" stroke="#262626" stroke-width="0.22">BF</text>
<rect x="417.60" y="8.60" width="6.00" height="6.00" fill="#1c9fd6" stroke="#26363f" stroke-width="0.6"/>
<text x="428" y="15.3" font-size="10.4" textLength="16" lengthAdjust="spacingAndGlyphs" fill="#262626" stroke="#262626" stroke-width="0.22">MF</text>
<rect x="454.40" y="8.60" width="6.00" height="6.00" fill="#a2ec00" stroke="#3f4a1f" stroke-width="0.6"/>
<text x="463.6" y="15.3" font-size="10.4" textLength="13.4" lengthAdjust="spacingAndGlyphs" fill="#262626" stroke="#262626" stroke-width="0.22">GL</text>
<rect x="488.60" y="8.60" width="6.00" height="6.00" fill="#f2a22a" stroke="#4f3f1f" stroke-width="0.6"/>
<text x="498" y="15.3" font-size="10.4" textLength="16.4" lengthAdjust="spacingAndGlyphs" fill="#262626" stroke="#262626" stroke-width="0.22">Bar</text>
<rect x="324.50" y="178.60" width="24.43" height="12.00" fill="#068706"/>
<rect x="348.62" y="178.60" width="24.43" height="12.00" fill="#068706"/>
<rect x="372.75" y="178.60" width="24.43" height="12.00" fill="#199ed2"/>
<rect x="396.88" y="178.60" width="24.43" height="12.00" fill="#068706"/>
<rect x="421.00" y="178.60" width="24.43" height="12.00" fill="#aaf002"/>
<rect x="445.12" y="178.60" width="24.43" height="12.00" fill="#068706"/>
<rect x="469.25" y="178.60" width="24.43" height="12.00" fill="#068706"/>
<rect x="493.38" y="178.60" width="24.43" height="12.00" fill="#068706"/>
<text x="313.8" y="189.0" font-size="10.4" text-anchor="end" textLength="28.2" lengthAdjust="spacingAndGlyphs" fill="#262626" stroke="#262626" stroke-width="0.22">P0101</text>
<rect x="324.50" y="194.15" width="24.43" height="12.00" fill="#07c307"/>
<rect x="348.62" y="194.15" width="24.43" height="12.00" fill="#07c307"/>
<rect x="372.75" y="194.15" width="24.43" height="12.00" fill="#07c307"/>
<rect x="396.88" y="194.15" width="24.43" height="12.00" fill="#aaf002"/>
<rect x="421.00" y="194.15" width="24.43" height="12.00" fill="#aaf002"/>
<rect x="445.12" y="194.15" width="24.43" height="12.00" fill="#07c307"/>
<rect x="469.25" y="194.15" width="24.43" height="12.00" fill="#199ed2"/>
<rect x="493.38" y="194.15" width="24.43" height="12.00" fill="#068706"/>
<text x="313.8" y="204.6" font-size="10.4" text-anchor="end" textLength="28.2" lengthAdjust="spacingAndGlyphs" fill="#262626" stroke="#262626" stroke-width="0.22">P0102</text>
<rect x="324.50" y="209.70" width="24.43" height="12.00" fill="#03f580"/>
<rect x="348.62" y="209.70" width="24.43" height="12.00" fill="#03f580"/>
<rect x="372.75" y="209.70" width="24.43" height="12.00" fill="#07c307"/>
<rect x="396.88" y="209.70" width="24.43" height="12.00" fill="#03f580"/>
<rect x="421.00" y="209.70" width="24.43" height="12.00" fill="#aaf002"/>
<rect x="445.12" y="209.70" width="24.43" height="12.00" fill="#03f580"/>
<rect x="469.25" y="209.70" width="24.43" height="12.00" fill="#199ed2"/>
<rect x="493.38" y="209.70" width="24.43" height="12.00" fill="#199ed2"/>
<text x="313.8" y="220.1" font-size="10.4" text-anchor="end" textLength="28.2" lengthAdjust="spacingAndGlyphs" fill="#262626" stroke="#262626" stroke-width="0.22">P0103</text>
<rect x="324.50" y="225.25" width="24.43" height="12.00" fill="#aaf002"/>
<rect x="348.62" y="225.25" width="24.43" height="12.00" fill="#03f580"/>
<rect x="372.75" y="225.25" width="24.43" height="12.00" fill="#03f580"/>
<rect x="396.88" y="225.25" width="24.43" height="12.00" fill="#03f580"/>
<rect x="421.00" y="225.25" width="24.43" height="12.00" fill="#aaf002"/>
<rect x="445.12" y="225.25" width="24.43" height="12.00" fill="#03f580"/>
<rect x="469.25" y="225.25" width="24.43" height="12.00" fill="#199ed2"/>
<rect x="493.38" y="225.25" width="24.43" height="12.00" fill="#199ed2"/>
<text x="313.8" y="235.7" font-size="10.4" text-anchor="end" textLength="28.2" lengthAdjust="spacingAndGlyphs" fill="#262626" stroke="#262626" stroke-width="0.22">P0104</text>
<rect x="324.50" y="240.80" width="24.43" height="12.00" fill="#07c307"/>
<rect x="348.62" y="240.80" width="24.43" height="12.00" fill="#07c307"/>
<rect x="372.75" y="240.80" width="24.43" height="12.00" fill="#07c307"/>
<rect x="396.88" y="240.80" width="24.43" height="12.00" fill="#07c307"/>
<rect x="421.00" y="240.80" width="24.43" height="12.00" fill="#07c307"/>
<rect x="445.12" y="240.80" width="24.43" height="12.00" fill="#07c307"/>
<rect x="469.25" y="240.80" width="24.43" height="12.00" fill="#199ed2"/>
<rect x="493.38" y="240.80" width="24.43" height="12.00" fill="#068706"/>
<text x="313.8" y="251.2" font-size="10.4" text-anchor="end" textLength="28.2" lengthAdjust="spacingAndGlyphs" fill="#262626" stroke="#262626" stroke-width="0.22">P0201</text>
<rect x="324.50" y="256.35" width="24.43" height="12.00" fill="#068706"/>
<rect x="348.62" y="256.35" width="24.43" height="12.00" fill="#068706"/>
<rect x="372.75" y="256.35" width="24.43" height="12.00" fill="#068706"/>
<rect x="396.88" y="256.35" width="24.43" height="12.00" fill="#068706"/>
<rect x="421.00" y="256.35" width="24.43" height="12.00" fill="#07c307"/>
<rect x="445.12" y="256.35" width="24.43" height="12.00" fill="#068706"/>
<rect x="469.25" y="256.35" width="24.43" height="12.00" fill="#068706"/>
<rect x="493.38" y="256.35" width="24.43" height="12.00" fill="#068706"/>
<text x="313.8" y="266.8" font-size="10.4" text-anchor="end" textLength="28.2" lengthAdjust="spacingAndGlyphs" fill="#262626" stroke="#262626" stroke-width="0.22">P0202</text>
<rect x="324.50" y="271.90" width="24.43" height="12.00" fill="#aaf002"/>
<rect x="348.62" y="271.90" width="24.43" height="12.00" fill="#aaf002"/>
<rect x="372.75" y="271.90" width="24.43" height="12.00" fill="#aaf002"/>
<rect x="396.88" y="271.90" width="24.43" height="12.00" fill="#aaf002"/>
<rect x="421.00" y="271.90" width="24.43" height="12.00" fill="#07c307"/>
<rect x="445.12" y="271.90" width="24.43" height="12.00" fill="#aaf002"/>
<rect x="469.25" y="271.90" width="24.43" height="12.00" fill="#199ed2"/>
<rect x="493.38" y="271.90" width="24.43" height="12.00" fill="#199ed2"/>
<text x="313.8" y="282.3" font-size="10.4" text-anchor="end" textLength="28.2" lengthAdjust="spacingAndGlyphs" fill="#262626" stroke="#262626" stroke-width="0.22">P0203</text>
<rect x="324.50" y="287.45" width="24.43" height="12.00" fill="#07c307"/>
<rect x="348.62" y="287.45" width="24.43" height="12.00" fill="#07c307"/>
<rect x="372.75" y="287.45" width="24.43" height="12.00" fill="#07c307"/>
<rect x="396.88" y="287.45" width="24.43" height="12.00" fill="#03f580"/>
<rect x="421.00" y="287.45" width="24.43" height="12.00" fill="#aaf002"/>
<rect x="445.12" y="287.45" width="24.43" height="12.00" fill="#07c307"/>
<rect x="469.25" y="287.45" width="24.43" height="12.00" fill="#03f580"/>
<rect x="493.38" y="287.45" width="24.43" height="12.00" fill="#03f580"/>
<text x="313.8" y="297.8" font-size="10.4" text-anchor="end" textLength="28.2" lengthAdjust="spacingAndGlyphs" fill="#262626" stroke="#262626" stroke-width="0.22">P0204</text>
<rect x="324.50" y="303.00" width="24.43" height="12.00" fill="#aaf002"/>
<rect x="348.62" y="303.00" width="24.43" height="12.00" fill="#aaf002"/>
<rect x="372.75" y="303.00" width="24.43" height="12.00" fill="#aaf002"/>
<rect x="396.88" y="303.00" width="24.43" height="12.00" fill="#aaf002"/>
<rect x="421.00" y="303.00" width="24.43" height="12.00" fill="#aaf002"/>
<rect x="445.12" y="303.00" width="24.43" height="12.00" fill="#aaf002"/>
<rect x="469.25" y="303.00" width="24.43" height="12.00" fill="#199ed2"/>
<rect x="493.38" y="303.00" width="24.43" height="12.00" fill="#199ed2"/>
<text x="313.8" y="313.4" font-size="10.4" text-anchor="end" textLength="28.2" lengthAdjust="spacingAndGlyphs" fill="#262626" stroke="#262626" stroke-width="0.22">P0301</text>
<rect x="324.50" y="318.55" width="24.43" height="12.00" fill="#aaf002"/>
<rect x="348.62" y="318.55" width="24.43" height="12.00" fill="#aaf002"/>
<rect x="372.75" y="318.55" width="24.43" height="12.00" fill="#aaf002"/>
<rect x="396.88" y="318.55" width="24.43" height="12.00" fill="#aaf002"/>
<rect x="421.00" y="318.55" width="24.43" height="12.00" fill="#aaf002"/>
<rect x="445.12" y="318.55" width="24.43" height="12.00" fill="#aaf002"/>
<rect x="469.25" y="318.55" width="24.43" height="12.00" fill="#199ed2"/>
<rect x="493.38" y="318.55" width="24.43" height="12.00" fill="#03f580"/>
<text x="313.8" y="328.9" font-size="10.4" text-anchor="end" textLength="28.2" lengthAdjust="spacingAndGlyphs" fill="#262626" stroke="#262626" stroke-width="0.22">P0302</text>
<rect x="324.50" y="334.10" width="24.43" height="12.00" fill="#aaf002"/>
<rect x="348.62" y="334.10" width="24.43" height="12.00" fill="#07c307"/>
<rect x="372.75" y="334.10" width="24.43" height="12.00" fill="#07c307"/>
<rect x="396.88" y="334.10" width="24.43" height="12.00" fill="#07c307"/>
<rect x="421.00" y="334.10" width="24.43" height="12.00" fill="#aaf002"/>
<rect x="445.12" y="334.10" width="24.43" height="12.00" fill="#07c307"/>
<rect x="469.25" y="334.10" width="24.43" height="12.00" fill="#068706"/>
<rect x="493.38" y="334.10" width="24.43" height="12.00" fill="#068706"/>
<text x="313.8" y="344.5" font-size="10.4" text-anchor="end" textLength="28.2" lengthAdjust="spacingAndGlyphs" fill="#262626" stroke="#262626" stroke-width="0.22">P0303</text>
<rect x="324.50" y="349.65" width="24.43" height="12.00" fill="#aaf002"/>
<rect x="348.62" y="349.65" width="24.43" height="12.00" fill="#aaf002"/>
<rect x="372.75" y="349.65" width="24.43" height="12.00" fill="#07c307"/>
<rect x="396.88" y="349.65" width="24.43" height="12.00" fill="#aaf002"/>
<rect x="421.00" y="349.65" width="24.43" height="12.00" fill="#aaf002"/>
<rect x="445.12" y="349.65" width="24.43" height="12.00" fill="#aaf002"/>
<rect x="469.25" y="349.65" width="24.43" height="12.00" fill="#068706"/>
<rect x="493.38" y="349.65" width="24.43" height="12.00" fill="#068706"/>
<text x="313.8" y="360.0" font-size="10.4" text-anchor="end" textLength="28.2" lengthAdjust="spacingAndGlyphs" fill="#262626" stroke="#262626" stroke-width="0.22">P0304</text>
<line x1="348.6" y1="177.2" x2="348.6" y2="363" stroke="#303030" stroke-width="0.7" stroke-dasharray="3.5,2"/>
<line x1="372.8" y1="177.2" x2="372.8" y2="363" stroke="#303030" stroke-width="0.7" stroke-dasharray="3.5,2"/>
<line x1="396.9" y1="177.2" x2="396.9" y2="363" stroke="#303030" stroke-width="0.7" stroke-dasharray="3.5,2"/>
<line x1="421.0" y1="177.2" x2="421.0" y2="363" stroke="#303030" stroke-width="0.7" stroke-dasharray="3.5,2"/>
<line x1="445.1" y1="177.2" x2="445.1" y2="363" stroke="#404040" stroke-width="0.7"/>
<line x1="469.2" y1="177.2" x2="469.2" y2="363" stroke="#404040" stroke-width="0.7"/>
<line x1="493.4" y1="177.2" x2="493.4" y2="363" stroke="#404040" stroke-width="0.7"/>
<rect x="324.5" y="177.2" width="193.0" height="185.8" fill="none" stroke="#9a9a9a" stroke-width="1"/>
<text x="336.2" y="373.8" font-size="10" text-anchor="middle" textLength="20.8" lengthAdjust="spacingAndGlyphs" fill="#262626" stroke="#262626" stroke-width="0.22">2014</text>
<text x="360.3" y="373.8" font-size="10" text-anchor="middle" textLength="20.8" lengthAdjust="spacingAndGlyphs" fill="#262626" stroke="#262626" stroke-width="0.22">2015</text>
<text x="384.4" y="373.8" font-size="10" text-anchor="middle" textLength="20.8" lengthAdjust="spacingAndGlyphs" fill="#262626" stroke="#262626" stroke-width="0.22">2016</text>
<text x="408.5" y="373.8" font-size="10" text-anchor="middle" textLength="20.8" lengthAdjust="spacingAndGlyphs" fill="#262626" stroke="#262626" stroke-width="0.22">2017</text>
<text x="432.7" y="373.8" font-size="10" text-anchor="middle" textLength="20.8" lengthAdjust="spacingAndGlyphs" fill="#262626" stroke="#262626" stroke-width="0.22">2018</text>
<text x="447.4" y="374" font-size="10" textLength="18.6" lengthAdjust="spacingAndGlyphs" fill="#262626" stroke="#262626" stroke-width="0.22">MAJ</text>
<text x="469.6" y="374" font-size="10" textLength="26.2" lengthAdjust="spacingAndGlyphs" fill="#262626" stroke="#262626" stroke-width="0.22">FROM</text>
<text x="502" y="374" font-size="10" textLength="10.2" lengthAdjust="spacingAndGlyphs" fill="#262626" stroke="#262626" stroke-width="0.22">RF</text>
<text x="472" y="383.2" font-size="10" textLength="20.6" lengthAdjust="spacingAndGlyphs" fill="#262626" stroke="#262626" stroke-width="0.22">-GLC</text>
<text x="280.0" y="270" font-size="10.5" text-anchor="middle" textLength="21.7" lengthAdjust="spacingAndGlyphs" transform="rotate(-90 280.0 270)" fill="#262626" stroke="#262626" stroke-width="0.22">Pixel</text>
<text x="274.8" y="178.3" font-size="11" textLength="12" lengthAdjust="spacingAndGlyphs" fill="#262626" stroke="#262626" stroke-width="0.22">(e)</text>
<rect x="521.50" y="245.70" width="5.30" height="5.30" fill="#068706"/>
<text x="529" y="251.9" font-size="10" textLength="11.3" lengthAdjust="spacingAndGlyphs" fill="#262626" stroke="#262626" stroke-width="0.22">NF</text>
<rect x="521.50" y="256.15" width="5.30" height="5.30" fill="#07c307"/>
<text x="529" y="262.4" font-size="10" textLength="10.6" lengthAdjust="spacingAndGlyphs" fill="#262626" stroke="#262626" stroke-width="0.22">BF</text>
<rect x="521.50" y="266.60" width="5.30" height="5.30" fill="#199ed2"/>
<text x="529" y="272.8" font-size="10" textLength="12.8" lengthAdjust="spacingAndGlyphs" fill="#262626" stroke="#262626" stroke-width="0.22">MF</text>
<rect x="521.50" y="277.05" width="5.30" height="5.30" fill="#03f580"/>
<text x="529" y="283.3" font-size="10" textLength="18.4" lengthAdjust="spacingAndGlyphs" fill="#262626" stroke="#262626" stroke-width="0.22">WSa</text>
<rect x="521.50" y="287.50" width="5.30" height="5.30" fill="#aaf002"/>
<text x="529" y="293.7" font-size="10" textLength="10.6" lengthAdjust="spacingAndGlyphs" fill="#262626" stroke="#262626" stroke-width="0.22">GL</text>
<line x1="326" y1="474.0" x2="522.5" y2="474.0" stroke="#e2e2e2" stroke-width="0.8"/>
<line x1="326" y1="460.0" x2="522.5" y2="460.0" stroke="#e2e2e2" stroke-width="0.8"/>
<line x1="326" y1="446.0" x2="522.5" y2="446.0" stroke="#e2e2e2" stroke-width="0.8"/>
<line x1="326" y1="432.0" x2="522.5" y2="432.0" stroke="#e2e2e2" stroke-width="0.8"/>
<line x1="326" y1="418.0" x2="522.5" y2="418.0" stroke="#e2e2e2" stroke-width="0.8"/>
<line x1="326" y1="404.0" x2="522.5" y2="404.0" stroke="#e2e2e2" stroke-width="0.8"/>
<line x1="342.4" y1="390" x2="342.4" y2="488" stroke="#e2e2e2" stroke-width="0.8"/>
<line x1="358.8" y1="390" x2="358.8" y2="488" stroke="#e2e2e2" stroke-width="0.8"/>
<line x1="375.1" y1="390" x2="375.1" y2="488" stroke="#e2e2e2" stroke-width="0.8"/>
<line x1="391.5" y1="390" x2="391.5" y2="488" stroke="#e2e2e2" stroke-width="0.8"/>
<line x1="407.9" y1="390" x2="407.9" y2="488" stroke="#e2e2e2" stroke-width="0.8"/>
<line x1="424.2" y1="390" x2="424.2" y2="488" stroke="#e2e2e2" stroke-width="0.8"/>
<line x1="440.6" y1="390" x2="440.6" y2="488" stroke="#e2e2e2" stroke-width="0.8"/>
<line x1="457.0" y1="390" x2="457.0" y2="488" stroke="#e2e2e2" stroke-width="0.8"/>
<line x1="473.4" y1="390" x2="473.4" y2="488" stroke="#e2e2e2" stroke-width="0.8"/>
<line x1="489.8" y1="390" x2="489.8" y2="488" stroke="#e2e2e2" stroke-width="0.8"/>
<line x1="506.1" y1="390" x2="506.1" y2="488" stroke="#e2e2e2" stroke-width="0.8"/>
<polygon points="334.2,488.0 334.2,432.0 350.6,429.2 366.9,435.4 383.3,430.6 399.7,440.4 416.1,438.6 432.4,439.7 448.8,434.2 465.2,427.8 481.6,442.2 497.9,443.2 514.3,446.0 514.3,488.0" fill="#c6e9fa"/>
<polygon points="334.2,488.0 334.2,446.0 350.6,429.2 366.9,437.6 383.3,432.0 399.7,446.0 416.1,455.8 432.4,446.0 448.8,439.7 465.2,433.4 481.6,442.2 497.9,434.8 514.3,441.0 514.3,488.0" fill="#fbe6c4"/>
<polygon points="334.2,488.0 334.2,452.0 350.6,450.8 366.9,443.2 383.3,433.4 399.7,458.3 416.1,457.1 432.4,446.0 448.8,439.8 465.2,432.0 481.6,442.2 497.9,447.8 514.3,456.4 514.3,488.0" fill="#acf48c"/>
<rect x="331.6" y="433.2" width="5.2" height="5.2" fill="#fff" stroke="#a8ec1a" stroke-width="1.6"/>
<circle cx="334.2" cy="452.2" r="2.8" fill="#0b8a0b" stroke="#0a6a0a" stroke-width="0.6"/>
<rect x="348.0" y="426.0" width="5.2" height="5.2" fill="#fff" stroke="#18b818" stroke-width="1.6"/>
<polygon points="350.6,446.2 353.6,451.6 347.6,451.6" fill="#0b8a0b" stroke="#0a6a0a" stroke-width="0.4"/>
<rect x="364.3" y="432.5" width="5.2" height="5.2" fill="#fff" stroke="#a8ec1a" stroke-width="1.6"/>
<polygon points="366.9,437.8 369.9,443.2 363.9,443.2" fill="#1b9bd3" stroke="#0a6a0a" stroke-width="0.4"/>
<rect x="380.7" y="427.0" width="5.2" height="5.2" fill="#fff" stroke="#a8ec1a" stroke-width="1.6"/>
<polygon points="383.3,428.1 386.3,433.5 380.3,433.5" fill="#1b9bd3" stroke="#0a6a0a" stroke-width="0.4"/>
<rect x="397.1" y="438.2" width="5.2" height="5.2" fill="#fff" stroke="#18b818" stroke-width="1.6"/>
<polygon points="399.7,454.8 402.7,460.2 396.7,460.2" fill="#0b8a0b" stroke="#0a6a0a" stroke-width="0.4"/>
<rect x="413.5" y="436.0" width="5.2" height="5.2" fill="#fff" stroke="#18b818" stroke-width="1.6"/>
<circle cx="416.1" cy="457.1" r="2.8" fill="#0b8a0b" stroke="#0a6a0a" stroke-width="0.6"/>
<rect x="429.8" y="437.8" width="5.2" height="5.2" fill="#fff" stroke="#18b818" stroke-width="1.6"/>
<polygon points="432.4,442.8 435.4,448.2 429.4,448.2" fill="#1b9bd3" stroke="#0a6a0a" stroke-width="0.4"/>
<rect x="446.2" y="431.6" width="5.2" height="5.2" fill="#fff" stroke="#a8ec1a" stroke-width="1.6"/>
<circle cx="448.8" cy="439.8" r="2.8" fill="#19e07d" stroke="#0a6a0a" stroke-width="0.6"/>
<rect x="462.6" y="425.2" width="5.2" height="5.2" fill="#fff" stroke="#a8ec1a" stroke-width="1.6"/>
<polygon points="465.2,430.2 468.2,435.6 462.2,435.6" fill="#1b9bd3" stroke="#0a6a0a" stroke-width="0.4"/>
<rect x="479.0" y="439.6" width="5.2" height="5.2" fill="#fff" stroke="#a8ec1a" stroke-width="1.6"/>
<circle cx="481.6" cy="442.2" r="2.8" fill="#19e07d" stroke="#0a6a0a" stroke-width="0.6"/>
<rect x="495.3" y="432.2" width="5.2" height="5.2" fill="#fff" stroke="#18b818" stroke-width="1.6"/>
<polygon points="497.9,444.6 500.9,450.0 494.9,450.0" fill="#0b8a0b" stroke="#0a6a0a" stroke-width="0.4"/>
<rect x="511.7" y="438.4" width="5.2" height="5.2" fill="#fff" stroke="#a8ec1a" stroke-width="1.6"/>
<polygon points="514.3,453.2 517.3,458.6 511.3,458.6" fill="#0b8a0b" stroke="#0a6a0a" stroke-width="0.4"/>
<rect x="326" y="390" width="196.5" height="98" fill="none" stroke="#7a7a7a" stroke-width="1"/>
<text x="311.5" y="491.8" font-size="10.6" text-anchor="end" textLength="14.5" lengthAdjust="spacingAndGlyphs" fill="#262626" stroke="#262626" stroke-width="0.22">0.3</text>
<text x="311.5" y="477.8" font-size="10.6" text-anchor="end" textLength="14.5" lengthAdjust="spacingAndGlyphs" fill="#262626" stroke="#262626" stroke-width="0.22">0.4</text>
<text x="311.5" y="463.8" font-size="10.6" text-anchor="end" textLength="14.5" lengthAdjust="spacingAndGlyphs" fill="#262626" stroke="#262626" stroke-width="0.22">0.5</text>
<text x="311.5" y="449.8" font-size="10.6" text-anchor="end" textLength="14.5" lengthAdjust="spacingAndGlyphs" fill="#262626" stroke="#262626" stroke-width="0.22">0.6</text>
<text x="311.5" y="435.8" font-size="10.6" text-anchor="end" textLength="14.5" lengthAdjust="spacingAndGlyphs" fill="#262626" stroke="#262626" stroke-width="0.22">0.7</text>
<text x="311.5" y="421.8" font-size="10.6" text-anchor="end" textLength="14.5" lengthAdjust="spacingAndGlyphs" fill="#262626" stroke="#262626" stroke-width="0.22">0.8</text>
<text x="311.5" y="407.8" font-size="10.6" text-anchor="end" textLength="14.5" lengthAdjust="spacingAndGlyphs" fill="#262626" stroke="#262626" stroke-width="0.22">0.9</text>
<text x="311.5" y="393.8" font-size="10.6" text-anchor="end" textLength="14.5" lengthAdjust="spacingAndGlyphs" fill="#262626" stroke="#262626" stroke-width="0.22">1.0</text>
<text x="339.2" y="496.2" font-size="11.3" text-anchor="end" textLength="30.6" lengthAdjust="spacingAndGlyphs" transform="rotate(-90 339.2 496.2)" fill="#262626" stroke="#262626" stroke-width="0.22">P0101</text>
<text x="355.6" y="496.2" font-size="11.3" text-anchor="end" textLength="30.6" lengthAdjust="spacingAndGlyphs" transform="rotate(-90 355.6 496.2)" fill="#262626" stroke="#262626" stroke-width="0.22">P0102</text>
<text x="371.9" y="496.2" font-size="11.3" text-anchor="end" textLength="30.6" lengthAdjust="spacingAndGlyphs" transform="rotate(-90 371.9 496.2)" fill="#262626" stroke="#262626" stroke-width="0.22">P0103</text>
<text x="388.3" y="496.2" font-size="11.3" text-anchor="end" textLength="30.6" lengthAdjust="spacingAndGlyphs" transform="rotate(-90 388.3 496.2)" fill="#262626" stroke="#262626" stroke-width="0.22">P0104</text>
<text x="404.7" y="496.2" font-size="11.3" text-anchor="end" textLength="30.6" lengthAdjust="spacingAndGlyphs" transform="rotate(-90 404.7 496.2)" fill="#262626" stroke="#262626" stroke-width="0.22">P0201</text>
<text x="421.1" y="496.2" font-size="11.3" text-anchor="end" textLength="30.6" lengthAdjust="spacingAndGlyphs" transform="rotate(-90 421.1 496.2)" fill="#262626" stroke="#262626" stroke-width="0.22">P0202</text>
<text x="437.4" y="496.2" font-size="11.3" text-anchor="end" textLength="30.6" lengthAdjust="spacingAndGlyphs" transform="rotate(-90 437.4 496.2)" fill="#262626" stroke="#262626" stroke-width="0.22">P0203</text>
<text x="453.8" y="496.2" font-size="11.3" text-anchor="end" textLength="30.6" lengthAdjust="spacingAndGlyphs" transform="rotate(-90 453.8 496.2)" fill="#262626" stroke="#262626" stroke-width="0.22">P0204</text>
<text x="470.2" y="496.2" font-size="11.3" text-anchor="end" textLength="30.6" lengthAdjust="spacingAndGlyphs" transform="rotate(-90 470.2 496.2)" fill="#262626" stroke="#262626" stroke-width="0.22">P0301</text>
<text x="486.6" y="496.2" font-size="11.3" text-anchor="end" textLength="30.6" lengthAdjust="spacingAndGlyphs" transform="rotate(-90 486.6 496.2)" fill="#262626" stroke="#262626" stroke-width="0.22">P0302</text>
<text x="502.9" y="496.2" font-size="11.3" text-anchor="end" textLength="30.6" lengthAdjust="spacingAndGlyphs" transform="rotate(-90 502.9 496.2)" fill="#262626" stroke="#262626" stroke-width="0.22">P0303</text>
<text x="519.3" y="496.2" font-size="11.3" text-anchor="end" textLength="30.6" lengthAdjust="spacingAndGlyphs" transform="rotate(-90 519.3 496.2)" fill="#262626" stroke="#262626" stroke-width="0.22">P0304</text>
<text x="425.7" y="539" font-size="11.2" text-anchor="middle" textLength="24.5" lengthAdjust="spacingAndGlyphs" fill="#262626" stroke="#262626" stroke-width="0.22">Pixel</text>
<text x="290" y="438.8" font-size="10.8" text-anchor="middle" textLength="49.5" lengthAdjust="spacingAndGlyphs" transform="rotate(-90 290 438.8)" fill="#262626" stroke="#262626" stroke-width="0.22">MODIS CI</text>
<text x="275.3" y="389.7" font-size="11" textLength="9.9" lengthAdjust="spacingAndGlyphs" fill="#262626" stroke="#262626" stroke-width="0.22">(f)</text>
<rect x="480.50" y="391.00" width="41.00" height="36.00" fill="#ffffff"/>
<rect x="481.70" y="398.10" width="5.00" height="4.00" fill="#c6e9fa"/>
<rect x="482.59999999999997" y="392.40000000000003" width="3.2" height="3.2" fill="none" stroke="#222" stroke-width="0.8"/>
<text x="488.8" y="400.6" font-size="8.6" textLength="29.2" lengthAdjust="spacingAndGlyphs" fill="#262626" stroke="#262626" stroke-width="0.22">LC_2018</text>
<rect x="481.70" y="411.10" width="5.00" height="4.00" fill="#fbe6c4"/>
<circle cx="484.2" cy="407.0" r="1.6" fill="none" stroke="#222" stroke-width="0.8"/>
<text x="488.8" y="413.6" font-size="8.6" textLength="26.5" lengthAdjust="spacingAndGlyphs" fill="#262626" stroke="#262626" stroke-width="0.22">LC_MAJ</text>
<rect x="481.70" y="424.10" width="5.00" height="4.00" fill="#acf48c"/>
<polygon points="484.2,418.2 486.2,421.8 482.2,421.8" fill="#222"/>
<text x="488.8" y="426.6" font-size="8.6" textLength="22.5" lengthAdjust="spacingAndGlyphs" fill="#262626" stroke="#262626" stroke-width="0.22">LC_RF</text>
<text x="211.8" y="63.8" font-size="9" font-weight="bold" textLength="51" lengthAdjust="spacingAndGlyphs" fill="#111" stroke="#111" stroke-width="0.22">Observed LC</text>
<circle cx="215.5" cy="73.4" r="1.6" fill="#1f9f1f"/>
<text x="222.4" y="76.4" font-size="8.4" textLength="10.7" lengthAdjust="spacingAndGlyphs" fill="#262626" stroke="#262626" stroke-width="0.22">NF</text>
<circle cx="215.5" cy="86.0" r="1.6" fill="#1f8f73"/>
<text x="222.4" y="89.0" font-size="8.4" textLength="10.2" lengthAdjust="spacingAndGlyphs" fill="#262626" stroke="#262626" stroke-width="0.22">BF</text>
<circle cx="215.5" cy="98.5" r="1.6" fill="#1d5a1d"/>
<text x="222.4" y="101.5" font-size="8.4" textLength="12.6" lengthAdjust="spacingAndGlyphs" fill="#262626" stroke="#262626" stroke-width="0.22">MF</text>
<circle cx="215.5" cy="110.8" r="1.6" fill="#8acb35"/>
<text x="222.4" y="113.8" font-size="8.4" textLength="10.6" lengthAdjust="spacingAndGlyphs" fill="#262626" stroke="#262626" stroke-width="0.22">GL</text>
<circle cx="215.5" cy="123.3" r="1.6" fill="#d9952e"/>
<text x="222.4" y="126.3" font-size="8.4" textLength="12" lengthAdjust="spacingAndGlyphs" fill="#262626" stroke="#262626" stroke-width="0.22">Bar</text>
<rect x="212.2" y="132.8" width="8.4" height="5.4" fill="none" stroke="#e8e870" stroke-width="0.8" stroke-dasharray="1.2,0.8"/>
<text x="223" y="138.6" font-size="8.8" textLength="47" lengthAdjust="spacingAndGlyphs" fill="#262626" stroke="#262626" stroke-width="0.22">MOIDS Pixel</text>
<text x="220.3" y="154.2" font-size="8.6" textLength="29" lengthAdjust="spacingAndGlyphs" fill="#262626" stroke="#262626" stroke-width="0.22">0100 m</text>
<path d="M222.7 158.8V161.8H232.9V158.8" fill="none" stroke="#333" stroke-width="0.7"/>
<text x="212.6" y="183.8" font-size="9" font-weight="bold" textLength="51" lengthAdjust="spacingAndGlyphs" fill="#111" stroke="#111" stroke-width="0.22">Observed LC</text>
<circle cx="216.7" cy="192.8" r="1.6" fill="#1f9f1f"/>
<text x="223.6" y="195.8" font-size="8.4" textLength="10.7" lengthAdjust="spacingAndGlyphs" fill="#262626" stroke="#262626" stroke-width="0.22">NF</text>
<circle cx="216.7" cy="205.2" r="1.6" fill="#1f8f73"/>
<text x="223.6" y="208.2" font-size="8.4" textLength="10.2" lengthAdjust="spacingAndGlyphs" fill="#262626" stroke="#262626" stroke-width="0.22">BF</text>
<circle cx="216.7" cy="217.5" r="1.6" fill="#1d5a1d"/>
<text x="223.6" y="220.5" font-size="8.4" textLength="12.6" lengthAdjust="spacingAndGlyphs" fill="#262626" stroke="#262626" stroke-width="0.22">MF</text>
<circle cx="216.7" cy="229.9" r="1.6" fill="#8acb35"/>
<text x="223.6" y="232.9" font-size="8.4" textLength="10.6" lengthAdjust="spacingAndGlyphs" fill="#262626" stroke="#262626" stroke-width="0.22">GL</text>
<circle cx="216.7" cy="242.5" r="1.6" fill="#d9952e"/>
<text x="223.6" y="245.5" font-size="8.4" textLength="12" lengthAdjust="spacingAndGlyphs" fill="#262626" stroke="#262626" stroke-width="0.22">Bar</text>
<text x="212.2" y="257.2" font-size="7.8" font-weight="bold" textLength="37.8" lengthAdjust="spacingAndGlyphs" fill="#111" stroke="#111" stroke-width="0.22">FROM-GLC</text>
<rect x="212.40" y="263.60" width="9.80" height="4.60" fill="#18c41a"/>
<text x="223.8" y="268.7" font-size="7.6" textLength="9.3" lengthAdjust="spacingAndGlyphs" fill="#262626" stroke="#262626" stroke-width="0.22">NF</text>
<rect x="212.40" y="274.20" width="9.80" height="4.60" fill="#1aa595"/>
<text x="223.8" y="279.3" font-size="7.6" textLength="9" lengthAdjust="spacingAndGlyphs" fill="#262626" stroke="#262626" stroke-width="0.22">BF</text>
<rect x="212.40" y="284.70" width="9.80" height="4.60" fill="#3c6a24"/>
<text x="223.8" y="289.8" font-size="7.6" textLength="11.2" lengthAdjust="spacingAndGlyphs" fill="#262626" stroke="#262626" stroke-width="0.22">MF</text>
<rect x="212.40" y="295.30" width="9.80" height="4.60" fill="#b021e0"/>
<text x="223.8" y="300.4" font-size="7.6" textLength="8.6" lengthAdjust="spacingAndGlyphs" fill="#262626" stroke="#262626" stroke-width="0.22">SL</text>
<rect x="212.40" y="306.30" width="9.80" height="4.60" fill="#8fe822"/>
<text x="223.8" y="311.4" font-size="7.6" textLength="9.4" lengthAdjust="spacingAndGlyphs" fill="#262626" stroke="#262626" stroke-width="0.22">GL</text>
<rect x="212.40" y="317.30" width="9.80" height="4.60" fill="#f05a1c"/>
<text x="223.8" y="322.4" font-size="7.6" textLength="9.4" lengthAdjust="spacingAndGlyphs" fill="#262626" stroke="#262626" stroke-width="0.22">CL</text>
<rect x="212.40" y="328.30" width="9.80" height="4.60" fill="#f4a526"/>
<text x="223.8" y="333.4" font-size="7.6" textLength="11" lengthAdjust="spacingAndGlyphs" fill="#262626" stroke="#262626" stroke-width="0.22">Bar</text>
<rect x="212.6" y="339.8" width="9.4" height="5.2" fill="#fff" stroke="#777" stroke-width="0.7"/>
<text x="224.2" y="345.6" font-size="8.8" textLength="37.4" lengthAdjust="spacingAndGlyphs" fill="#262626" stroke="#262626" stroke-width="0.22">MOIDS Pi</text>
<text x="223" y="358.4" font-size="8.6" textLength="29" lengthAdjust="spacingAndGlyphs" fill="#262626" stroke="#262626" stroke-width="0.22">0100 m</text>
<path d="M225.4 362.8V365.8H235.6V362.8" fill="none" stroke="#333" stroke-width="0.7"/>
<text x="212.6" y="377.4" font-size="9" font-weight="bold" textLength="51" lengthAdjust="spacingAndGlyphs" fill="#111" stroke="#111" stroke-width="0.22">Observed LC</text>
<circle cx="216.7" cy="387.0" r="1.6" fill="#1f9f1f"/>
<text x="223.6" y="390.0" font-size="8.4" textLength="10.7" lengthAdjust="spacingAndGlyphs" fill="#262626" stroke="#262626" stroke-width="0.22">NF</text>
<circle cx="216.7" cy="399.6" r="1.6" fill="#1f8f73"/>
<text x="223.6" y="402.6" font-size="8.4" textLength="10.2" lengthAdjust="spacingAndGlyphs" fill="#262626" stroke="#262626" stroke-width="0.22">BF</text>
<circle cx="216.7" cy="412.6" r="1.6" fill="#1d5a1d"/>
<text x="223.6" y="415.6" font-size="8.4" textLength="12.6" lengthAdjust="spacingAndGlyphs" fill="#262626" stroke="#262626" stroke-width="0.22">MF</text>
<circle cx="216.7" cy="424.9" r="1.6" fill="#8acb35"/>
<text x="223.6" y="427.9" font-size="8.4" textLength="10.6" lengthAdjust="spacingAndGlyphs" fill="#262626" stroke="#262626" stroke-width="0.22">GL</text>
<circle cx="216.7" cy="437.0" r="1.6" fill="#d9952e"/>
<text x="223.6" y="440.0" font-size="8.4" textLength="12" lengthAdjust="spacingAndGlyphs" fill="#262626" stroke="#262626" stroke-width="0.22">Bar</text>
<text x="212.2" y="451.8" font-size="7.8" font-weight="bold" textLength="19.6" lengthAdjust="spacingAndGlyphs" fill="#111" stroke="#111" stroke-width="0.22">RF LC</text>
<rect x="212.40" y="457.00" width="9.80" height="4.60" fill="#18c61a"/>
<text x="223.8" y="462.1" font-size="7.6" textLength="9.3" lengthAdjust="spacingAndGlyphs" fill="#262626" stroke="#262626" stroke-width="0.22">NF</text>
<rect x="212.40" y="467.60" width="9.80" height="4.60" fill="#1aa595"/>
<text x="223.8" y="472.7" font-size="7.6" textLength="9" lengthAdjust="spacingAndGlyphs" fill="#262626" stroke="#262626" stroke-width="0.22">BF</text>
<rect x="212.40" y="478.40" width="9.80" height="4.60" fill="#46661f"/>
<text x="223.8" y="483.5" font-size="7.6" textLength="11.2" lengthAdjust="spacingAndGlyphs" fill="#262626" stroke="#262626" stroke-width="0.22">MF</text>
<rect x="212.40" y="489.30" width="9.80" height="4.60" fill="#8fef1c"/>
<text x="223.8" y="494.4" font-size="7.6" textLength="9.4" lengthAdjust="spacingAndGlyphs" fill="#262626" stroke="#262626" stroke-width="0.22">GL</text>
<rect x="212.40" y="500.50" width="9.80" height="4.60" fill="#f4a526"/>
<text x="223.8" y="505.6" font-size="7.6" textLength="11" lengthAdjust="spacingAndGlyphs" fill="#262626" stroke="#262626" stroke-width="0.22">Bar</text>
<rect x="212.6" y="512.2" width="9.4" height="5.2" fill="#fff" stroke="#777" stroke-width="0.7"/>
<text x="224.2" y="518.0" font-size="8.8" textLength="48.7" lengthAdjust="spacingAndGlyphs" fill="#262626" stroke="#262626" stroke-width="0.22">MOIDS Pixel</text>
<text x="221.5" y="530.7" font-size="8.6" textLength="29" lengthAdjust="spacingAndGlyphs" fill="#262626" stroke="#262626" stroke-width="0.22">0100 m</text>
<path d="M223.9 535.1V538.1H234.1V535.1" fill="none" stroke="#333" stroke-width="0.7"/>
<text x="16.6" y="70.9" font-size="10.2" textLength="26.3" lengthAdjust="spacingAndGlyphs" fill="#f2f2f6" stroke="#f2f2f6" stroke-width="0.25">P0101</text>
<text x="62.9" y="70.9" font-size="10.2" textLength="26.3" lengthAdjust="spacingAndGlyphs" fill="#f2f2f6" stroke="#f2f2f6" stroke-width="0.25">P0102</text>
<text x="109.0" y="70.9" font-size="10.2" textLength="26.3" lengthAdjust="spacingAndGlyphs" fill="#f2f2f6" stroke="#f2f2f6" stroke-width="0.25">P0103</text>
<text x="155.0" y="70.9" font-size="10.2" textLength="26.3" lengthAdjust="spacingAndGlyphs" fill="#f2f2f6" stroke="#f2f2f6" stroke-width="0.25">P0104</text>
<text x="16.6" y="116.9" font-size="10.2" textLength="26.3" lengthAdjust="spacingAndGlyphs" fill="#f2f2f6" stroke="#f2f2f6" stroke-width="0.25">P0201</text>
<text x="62.9" y="116.9" font-size="10.2" textLength="26.3" lengthAdjust="spacingAndGlyphs" fill="#f2f2f6" stroke="#f2f2f6" stroke-width="0.25">P0202</text>
<text x="109.0" y="116.9" font-size="10.2" textLength="26.3" lengthAdjust="spacingAndGlyphs" fill="#f2f2f6" stroke="#f2f2f6" stroke-width="0.25">P0203</text>
<text x="155.0" y="116.9" font-size="10.2" textLength="26.3" lengthAdjust="spacingAndGlyphs" fill="#f2f2f6" stroke="#f2f2f6" stroke-width="0.25">P0204</text>
<text x="16.6" y="162.8" font-size="10.2" textLength="26.3" lengthAdjust="spacingAndGlyphs" fill="#f2f2f6" stroke="#f2f2f6" stroke-width="0.25">P0301</text>
<text x="62.9" y="162.8" font-size="10.2" textLength="26.3" lengthAdjust="spacingAndGlyphs" fill="#f2f2f6" stroke="#f2f2f6" stroke-width="0.25">P0302</text>
<text x="109.0" y="162.8" font-size="10.2" textLength="26.3" lengthAdjust="spacingAndGlyphs" fill="#f2f2f6" stroke="#f2f2f6" stroke-width="0.25">P0303</text>
<text x="155.0" y="162.8" font-size="10.2" textLength="26.3" lengthAdjust="spacingAndGlyphs" fill="#f2f2f6" stroke="#f2f2f6" stroke-width="0.25">P0304</text>
</svg>
</body></html>
